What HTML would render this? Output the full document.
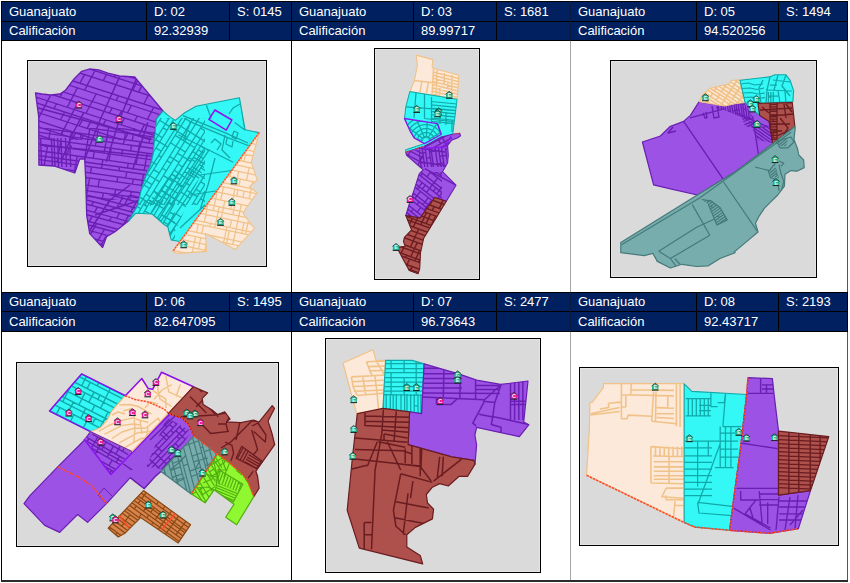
<!DOCTYPE html>
<html><head><meta charset="utf-8"><style>
html,body{margin:0;padding:0;background:#fff;width:850px;height:583px;overflow:hidden;position:relative}
div,span{position:absolute}
.t{font-family:"Liberation Sans",sans-serif;font-size:13px;line-height:13px;color:#fff;white-space:nowrap}
svg{position:absolute;left:0;top:0}
</style></head><body>
<div style="left:1px;top:1px;width:847px;height:40px;background:#002060;"></div><div style="left:1px;top:1px;width:847px;height:1px;background:#000;"></div><div style="left:1px;top:21px;width:847px;height:1px;background:#000;"></div><div style="left:1px;top:40px;width:847px;height:1px;background:#000;"></div><div style="left:1px;top:1px;width:1px;height:40px;background:#000;"></div><div style="left:146px;top:1px;width:1px;height:40px;background:#000;"></div><div style="left:229px;top:1px;width:1px;height:40px;background:#000;"></div><div style="left:291px;top:1px;width:1px;height:40px;background:#000;"></div><div style="left:413px;top:1px;width:1px;height:40px;background:#000;"></div><div style="left:496px;top:1px;width:1px;height:40px;background:#000;"></div><div style="left:570px;top:1px;width:1px;height:40px;background:#0b1a3a;"></div><div style="left:696px;top:1px;width:1px;height:40px;background:#000;"></div><div style="left:778px;top:1px;width:1px;height:40px;background:#000;"></div><div style="left:847px;top:1px;width:1px;height:40px;background:#000;"></div><span class=t style="left:9px;top:5px">Guanajuato</span><span class=t style="left:154px;top:5px">D: 02</span><span class=t style="left:237px;top:5px">S: 0145</span><span class=t style="left:9px;top:24px">Calificación</span><span class=t style="left:154px;top:24px">92.32939</span><span class=t style="left:299px;top:5px">Guanajuato</span><span class=t style="left:421px;top:5px">D: 03</span><span class=t style="left:504px;top:5px">S: 1681</span><span class=t style="left:299px;top:24px">Calificación</span><span class=t style="left:421px;top:24px">89.99717</span><span class=t style="left:578px;top:5px">Guanajuato</span><span class=t style="left:704px;top:5px">D: 05</span><span class=t style="left:786px;top:5px">S: 1494</span><span class=t style="left:578px;top:24px">Calificación</span><span class=t style="left:704px;top:24px">94.520256</span><div style="left:1px;top:292px;width:847px;height:40px;background:#002060;"></div><div style="left:1px;top:292px;width:847px;height:1px;background:#000;"></div><div style="left:1px;top:311px;width:847px;height:1px;background:#000;"></div><div style="left:1px;top:331px;width:847px;height:1px;background:#000;"></div><div style="left:1px;top:292px;width:1px;height:40px;background:#000;"></div><div style="left:146px;top:292px;width:1px;height:40px;background:#000;"></div><div style="left:229px;top:292px;width:1px;height:40px;background:#000;"></div><div style="left:291px;top:292px;width:1px;height:40px;background:#000;"></div><div style="left:413px;top:292px;width:1px;height:40px;background:#000;"></div><div style="left:496px;top:292px;width:1px;height:40px;background:#000;"></div><div style="left:570px;top:292px;width:1px;height:40px;background:#0b1a3a;"></div><div style="left:696px;top:292px;width:1px;height:40px;background:#000;"></div><div style="left:778px;top:292px;width:1px;height:40px;background:#000;"></div><div style="left:847px;top:292px;width:1px;height:40px;background:#000;"></div><span class=t style="left:9px;top:295px">Guanajuato</span><span class=t style="left:154px;top:295px">D: 06</span><span class=t style="left:237px;top:295px">S: 1495</span><span class=t style="left:9px;top:315px">Calificación</span><span class=t style="left:154px;top:315px">82.647095</span><span class=t style="left:299px;top:295px">Guanajuato</span><span class=t style="left:421px;top:295px">D: 07</span><span class=t style="left:504px;top:295px">S: 2477</span><span class=t style="left:299px;top:315px">Calificación</span><span class=t style="left:421px;top:315px">96.73643</span><span class=t style="left:578px;top:295px">Guanajuato</span><span class=t style="left:704px;top:295px">D: 08</span><span class=t style="left:786px;top:295px">S: 2193</span><span class=t style="left:578px;top:315px">Calificación</span><span class=t style="left:704px;top:315px">92.43717</span><div style="left:1px;top:41px;width:1px;height:251px;background:#000;"></div><div style="left:291px;top:41px;width:1px;height:251px;background:#000;"></div><div style="left:570px;top:41px;width:1px;height:251px;background:#a6a6a6;"></div><div style="left:847px;top:41px;width:1px;height:251px;background:#555;"></div><div style="left:1px;top:332px;width:1px;height:249px;background:#000;"></div><div style="left:291px;top:332px;width:1px;height:249px;background:#000;"></div><div style="left:570px;top:332px;width:1px;height:249px;background:#a6a6a6;"></div><div style="left:847px;top:332px;width:1px;height:249px;background:#555;"></div><div style="left:1px;top:580px;width:847px;height:2px;background:#2b2b2b;"></div><div style="left:27px;top:60px;width:240px;height:207px;background:#dadada;box-sizing:border-box;border:1px solid #000;box-shadow:inset 0 0 0 1px #e4e4e4"></div><div style="left:374px;top:48px;width:106px;height:232px;background:#dadada;box-sizing:border-box;border:1px solid #000;box-shadow:inset 0 0 0 1px #e4e4e4"></div><div style="left:610px;top:60px;width:207px;height:218px;background:#dadada;box-sizing:border-box;border:1px solid #000;box-shadow:inset 0 0 0 1px #e4e4e4"></div><div style="left:16px;top:362px;width:263px;height:185px;background:#dadada;box-sizing:border-box;border:1px solid #000;box-shadow:inset 0 0 0 1px #e4e4e4"></div><div style="left:325px;top:338px;width:216px;height:235px;background:#dadada;box-sizing:border-box;border:1px solid #000;box-shadow:inset 0 0 0 1px #e4e4e4"></div><div style="left:579px;top:367px;width:260px;height:179px;background:#dadada;box-sizing:border-box;border:1px solid #000;box-shadow:inset 0 0 0 1px #e4e4e4"></div>
<svg width="850" height="583" viewBox="0 0 850 583" stroke-linejoin="round">
<clipPath id="c1"><polygon points="35.5,93.0 42.0,94.0 50.6,95.0 60.0,94.0 65.7,90.0 74.0,79.0 81.7,71.3 89.3,69.0 98.7,69.8 108.0,73.2 119.5,76.0 134.7,77.0 163.0,111.0 156.4,119.2 155.0,134.2 153.0,154.8 150.5,165.0 147.3,172.0 143.2,183.7 140.4,193.4 137.7,205.7 128.7,220.8 115.0,231.8 106.6,236.6 102.6,247.5 89.7,233.6 86.7,215.7 85.7,180.0 84.7,159.0 79.7,159.0 74.8,173.0 53.9,166.0 38.9,165.0 38.7,116.6"/></clipPath>
<polygon points="35.5,93.0 42.0,94.0 50.6,95.0 60.0,94.0 65.7,90.0 74.0,79.0 81.7,71.3 89.3,69.0 98.7,69.8 108.0,73.2 119.5,76.0 134.7,77.0 163.0,111.0 156.4,119.2 155.0,134.2 153.0,154.8 150.5,165.0 147.3,172.0 143.2,183.7 140.4,193.4 137.7,205.7 128.7,220.8 115.0,231.8 106.6,236.6 102.6,247.5 89.7,233.6 86.7,215.7 85.7,180.0 84.7,159.0 79.7,159.0 74.8,173.0 53.9,166.0 38.9,165.0 38.7,116.6" fill="#9c52e4"/>
<g clip-path="url(#c1)" stroke="#6a1eb4" fill="none" stroke-linecap="butt">
<clipPath id="c2"><rect x="36" y="66" width="130" height="74"/></clipPath>
<g clip-path="url(#c2)" stroke-width="1.35">
<path d="M17.7 -13.4L236.8 57.8M15.2 -5.7L234.3 65.5M13.2 0.4L232.3 71.6M10.8 7.8L229.9 79.0M8.6 14.6L227.7 85.8M7.1 19.4L226.2 90.5M5.0 25.8L224.1 97.0M1.9 35.2L221.0 106.4M0.4 40.0L219.5 111.2M-1.8 46.5L217.3 117.7M-4.8 55.7L214.3 126.9M-6.4 60.6L212.7 131.8M-8.9 68.5L210.2 139.7M-10.7 74.0L208.4 145.2M-13.0 81.2L206.1 152.4M-14.7 86.2L204.4 157.4M-17.4 94.5L201.8 165.7M-19.8 101.9L199.3 173.1M-21.6 107.4L197.5 178.6M-24.0 114.8L195.1 186.0M-26.0 121.2L193.1 192.4M-27.5 125.9L191.6 197.1M-30.5 134.8L188.6 206.0M-32.4 140.9L186.7 212.1M-34.3 146.6L184.8 217.8M48.5 5.1L45.4 10.9M45.4 10.9L41.7 17.9M41.7 17.9L38.3 24.2M32.7 34.8L27.9 43.7M25.6 48.2L22.3 54.4M17.7 63.0L15.2 67.7M8.5 80.2L4.9 87.0M2.4 91.8L-1.8 99.6M-1.8 99.6L-5.5 106.6M-8.2 111.8L-11.9 118.7M-11.9 118.7L-15.2 124.8M-15.2 124.8L-17.5 129.1M-22.0 137.6L-25.0 143.3M-25.0 143.3L-27.9 148.7M62.1 9.6L59.1 15.3M52.0 28.7L49.6 33.2M49.6 33.2L46.3 39.3M46.3 39.3L41.6 48.1M24.9 79.5L22.2 84.7M22.2 84.7L18.6 91.5M16.1 96.2L11.9 104.0M11.9 104.0L8.2 111.0M5.4 116.2L1.7 123.2M1.7 123.2L-1.5 129.2M-1.5 129.2L-3.8 133.6M-3.8 133.6L-8.3 142.0M-11.4 147.8L-14.2 153.2M66.9 17.8L63.1 24.8M59.8 31.2L57.4 35.7M54.1 41.8L49.4 50.7M43.7 61.3L39.1 70.0M39.1 70.0L36.7 74.6M30.0 87.2L26.4 94.0M26.4 94.0L23.8 98.7M19.7 106.5L16.0 113.5M16.0 113.5L13.2 118.7M13.2 118.7L9.5 125.7M9.5 125.7L6.3 131.7M4.0 136.1L-0.5 144.6M-0.5 144.6L-3.6 150.3M84.6 8.4L80.7 15.6M74.0 28.4L70.6 34.7M70.6 34.7L68.2 39.2M64.9 45.3L60.2 54.2M60.2 54.2L57.9 58.7M57.9 58.7L54.6 64.9M50.0 73.5L47.5 78.1M47.5 78.1L43.6 85.6M43.6 85.6L40.8 90.7M37.2 97.5L34.7 102.2M30.5 110.0L26.8 117.1M26.8 117.1L24.1 122.2M17.1 135.3L14.8 139.6M14.8 139.6L10.3 148.1M10.3 148.1L7.3 153.8M7.3 153.8L4.4 159.2M95.0 11.8L91.2 19.0M84.4 31.7L81.0 38.1M81.0 38.1L78.6 42.6M68.3 62.0L65.0 68.2M65.0 68.2L60.4 76.9M60.4 76.9L57.9 81.5M54.0 89.0L51.2 94.1M51.2 94.1L47.6 100.9M47.6 100.9L45.1 105.6M45.1 105.6L41.0 113.4M41.0 113.4L37.2 120.4M34.5 125.6L30.8 132.6M30.8 132.6L27.6 138.7M17.7 157.2L14.8 162.6M97.0 27.6L93.3 34.6M84.2 51.6L79.5 60.5M79.5 60.5L77.2 64.9M77.2 64.9L73.9 71.1M73.9 71.1L69.3 79.8M69.3 79.8L66.8 84.4M62.8 91.8L60.1 97.0M56.5 103.8L54.0 108.5M34.1 145.9L29.6 154.4M26.5 160.1L23.7 165.5M114.5 18.1L110.7 25.4M107.6 31.1L103.9 38.1M103.9 38.1L100.5 44.4M94.9 55.1L90.2 63.9M90.2 63.9L87.8 68.4M84.5 74.6L79.9 83.3M77.4 87.9L73.5 95.3M73.5 95.3L70.8 100.4M70.8 100.4L67.2 107.2M64.6 112.0L60.5 119.8M47.1 145.0L44.8 149.4M37.2 163.6L34.3 168.9M121.7 20.4L117.8 27.7M117.8 27.7L114.8 33.4M114.8 33.4L111.0 40.4M111.0 40.4L107.7 46.7M107.7 46.7L105.3 51.3M102.0 57.4L97.3 66.2M97.3 66.2L94.9 70.7M94.9 70.7L91.6 76.9M91.6 76.9L87.0 85.6M87.0 85.6L84.6 90.2M77.9 102.8L74.3 109.5M74.3 109.5L71.8 114.3M71.8 114.3L67.6 122.1M67.6 122.1L63.9 129.1M63.9 129.1L61.1 134.3M54.2 147.3L51.9 151.7M51.9 151.7L47.4 160.1M47.4 160.1L44.3 165.9M44.3 165.9L41.5 171.2M126.4 37.2L122.7 44.2M122.7 44.2L119.3 50.5M119.3 50.5L116.9 55.0M116.9 55.0L113.6 61.2M106.5 74.5L103.2 80.7M96.2 94.0L92.2 101.4M92.2 101.4L89.5 106.5M89.5 106.5L85.9 113.3M83.4 118.1L79.2 125.9M75.5 132.9L72.7 138.1M72.7 138.1L69.0 145.0M69.0 145.0L65.8 151.1M63.5 155.5L59.0 163.9M59.0 163.9L55.9 169.7M55.9 169.7L53.1 175.0M134.3 39.7L130.6 46.8M124.8 57.6L121.6 63.7M121.6 63.7L116.9 72.6M116.9 72.6L114.5 77.1M91.3 120.6L87.2 128.4M83.4 135.4L80.7 140.6M80.7 140.6L77.0 147.6M73.8 153.7L71.4 158.0M71.4 158.0L66.9 166.5M66.9 166.5L63.9 172.2M153.2 30.7L149.4 37.9M149.4 37.9L146.3 43.7M142.6 50.7L139.2 57.0M118.6 95.8L116.1 100.5M112.2 107.9L109.5 113.0M105.9 119.8L103.3 124.6M95.5 139.4L92.7 144.5M92.7 144.5L89.0 151.5M83.5 161.9L79.0 170.4M79.0 170.4L75.9 176.1M75.9 176.1L73.0 181.5M155.7 46.7L152.0 53.7M152.0 53.7L148.6 60.1M148.6 60.1L146.2 64.6M146.2 64.6L143.0 70.7M143.0 70.7L138.3 79.5M138.3 79.5L135.9 84.0M135.9 84.0L132.6 90.2M128.0 98.9L125.5 103.5M121.6 110.9L118.8 116.1M108.6 135.4L104.8 142.4M104.8 142.4L102.1 147.6M95.2 160.6L92.8 165.0M92.8 165.0L88.3 173.4M168.5 35.6L164.7 42.9M164.7 42.9L161.6 48.6M157.9 55.6L154.5 62.0M154.5 62.0L152.1 66.5M152.1 66.5L148.9 72.6M144.2 81.5L141.8 85.9M141.8 85.9L138.5 92.1M131.4 105.4L127.5 112.8M124.7 118.0L121.1 124.8M114.5 137.3L110.7 144.3M110.7 144.3L108.0 149.5M108.0 149.5L104.3 156.5M104.3 156.5L101.0 162.5M101.0 162.5L98.7 166.9M98.7 166.9L94.2 175.4M94.2 175.4L91.2 181.1M91.2 181.1L88.3 186.5M174.5 46.1L171.5 51.8M167.7 58.8L164.4 65.2M162.0 69.7L158.7 75.8M148.3 95.3L143.7 104.0M137.3 116.0L134.6 121.2M128.4 132.7L124.3 140.5M124.3 140.5L120.6 147.5M120.6 147.5L117.8 152.7M104.1 178.6L101.0 184.3M101.0 184.3L98.2 189.7M188.4 42.1L184.6 49.3M184.6 49.3L181.5 55.1M172.0 72.9L168.8 79.1M164.0 87.9L161.7 92.4M161.7 92.4L158.4 98.6M153.8 107.2L151.3 111.9M151.3 111.9L147.4 119.3M144.6 124.4L141.0 131.2M141.0 131.2L138.5 136.0M130.6 150.8L127.9 156.0M127.9 156.0L124.2 162.9M124.2 162.9L120.9 169.0M120.9 169.0L118.6 173.4M118.6 173.4L114.1 181.8M201.7 46.4L197.8 53.7M197.8 53.7L194.8 59.4M194.8 59.4L191.1 66.4M191.1 66.4L187.7 72.7M185.3 77.3L182.0 83.4M174.9 96.7L171.6 102.9M167.0 111.6L164.6 116.2M157.9 128.8L154.3 135.5M143.9 155.1L141.1 160.3M131.9 177.7L127.4 186.1M127.4 186.1L124.3 191.9M124.3 191.9L121.5 197.2M208.8 48.7L204.9 56.0M194.8 75.1L192.4 79.6M184.4 94.5L182.0 99.0M174.1 113.9L171.7 118.5M167.7 125.9L165.0 131.1M165.0 131.1L161.4 137.9M148.2 162.6L144.5 169.6M144.5 169.6L141.3 175.6M141.3 175.6L139.0 180.0M139.0 180.0L134.5 188.4M219.4 52.2L215.5 59.4M212.5 65.1L208.7 72.1M208.7 72.1L205.4 78.5M205.4 78.5L203.0 83.0M199.7 89.1L195.0 98.0M195.0 98.0L192.6 102.4M192.6 102.4L189.3 108.6M184.7 117.3L182.3 121.9M182.3 121.9L178.3 129.4M178.3 129.4L175.6 134.5M175.6 134.5L172.0 141.3M169.4 146.0L165.3 153.8M161.6 160.8L158.8 166.0M158.8 166.0L155.1 173.0M155.1 173.0L151.9 179.0M151.9 179.0L149.6 183.4M142.0 197.6L139.2 203.0M227.4 54.8L223.6 62.0M223.6 62.0L220.5 67.8M207.8 91.7L203.1 100.6M203.1 100.6L200.7 105.1M200.7 105.1L197.4 111.3M197.4 111.3L192.8 119.9M190.3 124.6L186.4 132.0M186.4 132.0L183.7 137.1M180.0 143.9L177.5 148.7M166.9 168.7L163.2 175.6"/>
</g>
<clipPath id="c3"><rect x="36" y="128" width="130" height="72"/></clipPath>
<g clip-path="url(#c3)" stroke-width="1.35">
<path d="M-0.8 65.7L225.9 97.6M-1.7 72.3L225.0 104.2M-2.5 77.8L224.2 109.6M-3.3 83.7L223.4 115.5M-3.8 87.3L222.9 119.2M-4.6 92.9L222.1 124.7M-5.3 98.1L221.4 129.9M-6.1 103.8L220.6 135.6M-7.1 110.6L219.6 142.4M-7.6 114.4L219.1 146.2M-8.5 120.9L218.2 152.8M-9.2 125.5L217.5 157.4M-10.0 131.2L216.7 163.0M-10.8 137.0L215.9 168.8M-11.7 143.5L215.0 175.4M-12.4 148.4L214.3 180.2M-12.9 152.2L213.8 184.1M-13.8 158.4L212.9 190.2M-14.5 163.4L212.2 195.3M-15.5 170.9L211.1 202.7M-16.3 176.1L210.4 208.0M-17.1 181.6L209.6 213.4M-17.8 187.1L208.9 218.9M-18.6 192.3L208.1 224.2M-19.4 198.3L207.3 230.2M-20.1 203.3L206.6 235.2M-20.7 207.3L206.0 239.2M-21.7 214.4L205.0 246.2M-22.3 218.8L204.4 250.7M-23.2 225.0L203.5 256.9M-23.8 229.9L202.8 261.8M22.8 87.3L22.2 91.0M21.2 96.5L20.3 101.7M20.3 101.7L19.3 107.3M19.3 107.3L18.1 114.1M17.4 117.9L16.3 124.4M16.3 124.4L15.5 129.0M15.5 129.0L14.5 134.6M12.3 146.9L11.5 151.7M11.5 151.7L10.8 155.5M10.8 155.5L9.7 161.7M9.7 161.7L8.8 166.7M8.8 166.7L7.5 174.1M7.5 174.1L6.6 179.4M5.6 184.8L4.7 190.2M4.7 190.2L3.7 195.4M3.7 195.4L2.7 201.4M1.8 206.4L1.1 210.4M1.1 210.4L-0.1 217.4M-0.1 217.4L-0.9 221.8M-2.0 228.0L-2.9 232.9M34.6 70.7L33.4 77.3M33.4 77.3L32.5 82.7M31.4 88.5L30.8 92.2M30.8 92.2L29.8 97.7M28.9 102.9L27.9 108.5M27.9 108.5L26.7 115.3M26.7 115.3L26.0 119.1M24.1 130.2L23.1 135.8M20.9 148.1L20.1 152.9M19.4 156.7L18.3 162.9M18.3 162.9L17.4 167.9M17.4 167.9L16.1 175.3M16.1 175.3L15.2 180.6M15.2 180.6L14.3 186.0M14.3 186.0L13.3 191.5M13.3 191.5L12.4 196.7M12.4 196.7L11.3 202.6M9.7 211.6L8.5 218.6M7.7 223.1L6.6 229.2M6.6 229.2L5.8 234.1M42.6 78.6L41.7 84.0M41.7 84.0L40.6 89.8M40.6 89.8L40.0 93.5M40.0 93.5L39.0 99.0M38.1 104.2L37.1 109.8M35.9 116.6L35.3 120.4M35.3 120.4L34.1 126.9M34.1 126.9L33.3 131.5M33.3 131.5L32.3 137.1M32.3 137.1L31.3 142.9M31.3 142.9L30.1 149.4M30.1 149.4L29.3 154.2M27.5 164.2L26.6 169.2M26.6 169.2L25.3 176.6M25.3 176.6L24.4 181.9M23.5 187.3L22.5 192.8M21.6 198.0L20.5 203.9M20.5 203.9L19.6 208.9M19.6 208.9L18.9 212.9M18.9 212.9L17.7 219.9M16.9 224.4L15.8 230.5M15.8 230.5L15.0 235.4M52.2 73.2L51.0 79.7M51.0 79.7L50.1 85.2M49.0 91.0L48.4 94.6M45.5 111.0L44.3 117.8M43.7 121.6L42.5 128.1M38.5 150.6L37.7 155.4M37.7 155.4L37.0 159.2M37.0 159.2L35.9 165.3M35.0 170.4L33.7 177.8M33.7 177.8L32.8 183.0M31.9 188.5L30.9 193.9M30.9 193.9L30.0 199.1M30.0 199.1L28.9 205.1M28.9 205.1L28.0 210.1M27.3 214.1L26.1 221.1M59.1 80.9L58.1 86.3M55.5 101.3L54.6 106.5M53.6 112.1L52.4 118.9M52.4 118.9L51.7 122.7M50.6 129.2L49.7 133.8M49.7 133.8L48.8 139.4M47.7 145.2L46.6 151.7M46.6 151.7L45.7 156.5M45.7 156.5L45.1 160.3M45.1 160.3L44.0 166.5M44.0 166.5L43.1 171.5M41.8 178.9L40.9 184.2M38.9 195.1L38.0 200.3M36.1 211.2L35.4 215.2M35.4 215.2L34.2 222.2M34.2 222.2L33.4 226.7M32.3 232.8L31.4 237.7M72.3 76.0L71.1 82.6M71.1 82.6L70.2 88.0M70.2 88.0L69.1 93.8M69.1 93.8L68.5 97.5M67.5 103.0L66.6 108.2M65.6 113.8L64.4 120.6M64.4 120.6L63.7 124.4M62.6 130.9L61.8 135.5M60.8 141.1L59.8 146.9M59.8 146.9L58.6 153.4M57.8 158.2L57.1 162.0M55.1 173.2L53.8 180.6M52.9 185.9L52.0 191.3M51.0 196.8L50.1 202.0M49.0 207.9L48.1 212.9M48.1 212.9L47.4 216.9M47.4 216.9L46.2 223.9M45.4 228.4L44.3 234.5M44.3 234.5L43.5 239.4M79.9 83.8L79.0 89.2M79.0 89.2L78.0 95.1M78.0 95.1L77.3 98.7M77.3 98.7L76.3 104.2M75.4 109.4L74.4 115.1M74.4 115.1L73.2 121.9M73.2 121.9L72.6 125.7M71.4 132.2L70.6 136.7M68.6 148.1L67.5 154.7M59.8 198.0L58.9 203.2M58.9 203.2L57.8 209.2M56.3 218.1L55.0 225.2M53.2 235.7L52.3 240.6M88.7 90.6L87.7 96.5M87.1 100.1L86.1 105.6M85.2 110.8L84.2 116.4M83.0 123.2L82.3 127.0M81.2 133.5L80.4 138.1M77.2 156.0L76.4 160.8M76.4 160.8L75.7 164.6M75.7 164.6L74.6 170.8M74.6 170.8L73.7 175.8M70.5 193.9L69.6 199.4M69.6 199.4L68.6 204.6M66.7 215.5L66.0 219.5M66.0 219.5L64.8 226.5M64.8 226.5L64.0 231.0M64.0 231.0L62.9 237.1M62.9 237.1L62.0 242.0M97.3 86.2L96.4 91.7M95.3 97.5L94.7 101.1M94.7 101.1L93.7 106.7M92.8 111.9L91.8 117.5M91.8 117.5L90.6 124.3M90.6 124.3L89.9 128.1M89.9 128.1L88.8 134.6M88.8 134.6L88.0 139.2M88.0 139.2L87.0 144.8M87.0 144.8L86.0 150.6M86.0 150.6L84.8 157.1M84.0 161.9L83.3 165.7M83.3 165.7L82.2 171.8M75.2 211.6L74.3 216.6M74.3 216.6L73.6 220.6M72.4 227.6L71.6 232.0M71.6 232.0L70.5 238.2M106.8 80.8L105.6 87.4M104.7 92.8L103.6 98.7M103.6 98.7L103.0 102.3M103.0 102.3L102.0 107.9M102.0 107.9L101.1 113.0M98.2 129.3L97.1 135.8M96.3 140.3L95.3 146.0M94.3 151.8L93.1 158.3M91.6 166.9L90.5 173.0M89.6 178.1L88.3 185.5M88.3 185.5L87.4 190.7M87.4 190.7L86.4 196.1M86.4 196.1L85.5 201.6M85.5 201.6L84.6 206.8M82.6 217.8L81.9 221.7M80.7 228.8L79.9 233.2M79.9 233.2L78.8 239.3M78.8 239.3L78.0 244.3M116.6 82.2L115.4 88.8M114.4 94.2L113.4 100.1M113.4 100.1L112.8 103.7M110.9 114.4L109.9 120.1M109.9 120.1L108.7 126.9M108.7 126.9L108.0 130.6M108.0 130.6L106.9 137.1M106.9 137.1L106.1 141.7M106.1 141.7L105.1 147.3M105.1 147.3L104.1 153.1M102.9 159.7L102.1 164.4M102.1 164.4L101.4 168.3M99.4 179.5L98.1 186.8M91.7 223.1L90.5 230.1M122.7 83.1L121.6 89.7M121.6 89.7L120.6 95.1M119.6 100.9L119.0 104.6M119.0 104.6L118.0 110.1M118.0 110.1L117.1 115.3M116.1 120.9L114.9 127.7M111.3 148.2L110.2 154.0M110.2 154.0L109.1 160.5M103.4 193.0L102.4 198.4M102.4 198.4L101.4 203.8M101.4 203.8L100.5 209.0M100.5 209.0L99.5 215.0M98.6 220.0L97.9 224.0M97.9 224.0L96.7 231.0M95.9 235.4L94.8 241.6M134.1 84.7L132.9 91.2M132.0 96.7L130.9 102.5M130.3 106.1L129.3 111.7M129.3 111.7L128.4 116.9M125.5 133.1L124.4 139.6M124.4 139.6L123.6 144.2M122.6 149.8L121.6 155.6M119.6 166.9L118.9 170.7M117.8 176.8L116.9 181.9M115.6 189.3L114.7 194.6M112.8 205.4L111.9 210.6M110.8 216.6L109.9 221.6M109.9 221.6L109.2 225.6M109.2 225.6L108.0 232.6M106.1 243.2L105.3 248.1M142.0 85.8L140.8 92.4M140.8 92.4L139.8 97.8M138.2 107.3L137.2 112.8M137.2 112.8L136.3 118.0M135.3 123.6L134.1 130.4M133.4 134.2L132.3 140.7M131.5 145.3L130.5 150.9M128.3 163.2L127.4 168.0M126.8 171.8L125.7 178.0M122.6 195.7L121.6 201.1M120.7 206.5L119.7 211.7M119.7 211.7L118.7 217.7M118.7 217.7L117.8 222.7M117.1 226.7L115.9 233.7M115.9 233.7L115.1 238.1M115.1 238.1L114.0 244.3M149.7 86.9L148.5 93.4M148.5 93.4L147.6 98.9M143.0 124.7L141.8 131.5M140.0 141.8L139.2 146.4M139.2 146.4L138.2 152.0M138.2 152.0L137.2 157.8M137.2 157.8L136.0 164.3M133.4 179.0L132.5 184.1M131.2 191.5L130.3 196.7M130.3 196.7L129.3 202.2M128.4 207.6L127.5 212.8M127.5 212.8L126.4 218.8M126.4 218.8L125.5 223.8M124.8 227.8L123.6 234.8M123.6 234.8L122.8 239.2M122.8 239.2L121.7 245.4M157.6 94.7L156.6 100.1M155.6 106.0L154.9 109.6M154.9 109.6L153.9 115.2M153.9 115.2L153.0 120.3M153.0 120.3L152.0 126.0M150.2 136.6L149.0 143.1M147.2 153.3L146.2 159.1M146.2 159.1L145.1 165.6M145.1 165.6L144.2 170.4M143.5 174.2L142.5 180.3M142.5 180.3L141.6 185.4M140.3 192.8L139.3 198.0M139.3 198.0L138.4 203.4M137.4 208.9L136.5 214.1M136.5 214.1L135.4 220.1M132.6 236.1L131.8 240.5M169.1 89.6L167.9 96.2M166.9 101.6L165.9 107.4M164.3 116.6L163.4 121.8M162.4 127.4L161.2 134.2M155.4 167.0L154.6 171.8M153.9 175.6L152.8 181.8M150.6 194.2L149.7 199.5M148.7 204.9L147.8 210.4M147.8 210.4L146.8 215.6M146.8 215.6L145.8 221.5M144.9 226.5L144.2 230.5M144.2 230.5L143.0 237.5M143.0 237.5L142.2 242.0M141.1 248.1L140.2 253.0M175.6 97.2L174.7 102.7M174.7 102.7L173.6 108.5M173.0 112.1L172.0 117.7M172.0 117.7L171.1 122.9M168.9 135.3L168.2 139.1M167.1 145.6L166.3 150.2M166.3 150.2L165.3 155.8M165.3 155.8L164.3 161.6M161.6 176.7L160.5 182.9M159.6 187.9L158.3 195.3M157.4 200.6L156.4 206.0M156.4 206.0L155.5 211.4M152.6 227.6L151.9 231.6M150.7 238.6L149.9 243.0M149.9 243.0L148.8 249.2M148.8 249.2L148.0 254.1M185.5 98.6L184.5 104.0M184.5 104.0L183.5 109.9M183.5 109.9L182.8 113.5M178.7 136.7L178.1 140.5M176.9 147.0L176.1 151.5M174.1 163.0L173.0 169.5M172.1 174.3L171.4 178.1M171.4 178.1L170.4 184.2M169.5 189.3L168.2 196.7M168.2 196.7L167.2 201.9M166.3 207.3L165.3 212.8M165.3 212.8L164.4 218.0M162.5 229.0L161.8 233.0M160.5 240.0L159.7 244.4M159.7 244.4L158.7 250.6M158.7 250.6L157.8 255.5M196.2 93.4L195.0 100.0M195.0 100.0L194.1 105.4M193.0 111.3L192.4 114.9M192.4 114.9L191.4 120.4M191.4 120.4L190.5 125.6M190.5 125.6L189.5 131.2M187.6 141.8L186.5 148.3M186.5 148.3L185.7 152.9M185.7 152.9L184.7 158.5M184.7 158.5L183.7 164.3M183.7 164.3L182.5 170.8M182.5 170.8L181.7 175.6M181.7 175.6L181.0 179.4M179.9 185.6L179.0 190.6M179.0 190.6L177.7 198.0M177.7 198.0L176.8 203.3M175.9 208.7L174.9 214.2M172.0 230.3L171.3 234.3M170.1 241.3L169.3 245.8M169.3 245.8L168.2 251.9M204.2 94.5L203.0 101.1M203.0 101.1L202.0 106.5M198.5 126.7L197.5 132.4M196.3 139.2L195.6 142.9M194.5 149.5L193.7 154.0M193.7 154.0L192.7 159.7M192.7 159.7L191.7 165.4M191.7 165.4L190.5 172.0M189.0 180.6L187.9 186.7M187.9 186.7L187.0 191.8M187.0 191.8L185.7 199.2M185.7 199.2L184.8 204.4M184.8 204.4L183.8 209.8M182.0 220.5L180.9 226.5M180.9 226.5L180.0 231.5M180.0 231.5L179.3 235.4M178.1 242.5L177.3 246.9M177.3 246.9L176.2 253.0M176.2 253.0L175.3 257.9"/>
</g>
<clipPath id="c4"><rect x="38" y="138" width="34" height="29"/></clipPath>
<g clip-path="url(#c4)" stroke-width="1.35">
<path d="M83.0 115.0L85.5 188.0M72.3 115.4L74.9 188.3M68.9 115.5L71.4 188.5M64.7 115.6L67.2 188.6M60.2 115.8L62.7 188.8M56.8 115.9L59.3 188.9M53.2 116.0L55.8 189.0M50.6 116.1L53.2 189.1M39.9 116.5L42.5 189.5M36.4 116.6L39.0 189.6M27.8 116.9L30.3 189.9M63.4 78.6L58.9 78.6M51.9 78.6L49.3 78.6M49.3 78.6L45.2 78.6M42.0 78.6L38.6 78.6M83.1 118.5L79.7 118.5M75.6 118.5L72.4 118.5M69.0 118.5L64.8 118.5M46.5 118.5L43.4 118.5M43.4 118.5L40.0 118.5M40.0 118.5L36.5 118.5M27.8 118.5L24.4 118.5M80.7 146.4L76.6 146.4M73.4 146.4L70.0 146.4M51.7 146.4L47.5 146.4M47.5 146.4L44.4 146.4M82.2 188.7L78.1 188.7M78.1 188.7L74.9 188.7M71.5 188.7L67.2 188.7M55.8 188.7L53.2 188.7M53.2 188.7L49.0 188.7M49.0 188.7L45.9 188.7M39.0 188.7L35.2 188.7M35.2 188.7L30.3 188.7M83.8 235.0L79.7 235.0M79.7 235.0L76.5 235.0M76.5 235.0L73.1 235.0M73.1 235.0L68.9 235.0M64.3 235.0L60.9 235.0M60.9 235.0L57.4 235.0M54.8 235.0L50.6 235.0M47.5 235.0L44.1 235.0"/>
</g>
<clipPath id="c5"><rect x="84" y="195" width="61" height="55"/></clipPath>
<g clip-path="url(#c5)" stroke-width="1.35">
<path d="M65.3 156.5L190.1 190.0M63.6 162.8L188.4 196.2M62.4 167.5L187.2 200.9M60.9 173.0L185.7 206.5M60.0 176.2L184.8 209.7M58.7 181.0L183.5 214.5M57.1 187.0L181.9 220.5M55.9 191.7L180.7 225.1M54.8 195.6L179.6 229.1M53.3 201.4L178.1 234.8M52.2 205.5L177.0 239.0M50.6 211.3L175.4 244.7M49.8 214.5L174.6 248.0M48.4 219.6L173.2 253.0M46.7 226.1L171.5 259.5M45.7 229.6L170.5 263.0M44.5 234.2L169.3 267.6M42.8 240.3L167.6 273.8M41.7 244.7L166.5 278.2M40.7 248.4L165.5 281.8M39.1 254.2L163.9 287.6M85.5 161.9L82.1 167.8M82.1 167.8L79.6 172.1M79.6 172.1L76.6 177.3M74.9 180.2L72.3 184.7M72.3 184.7L69.1 190.2M69.1 190.2L66.6 194.6M61.4 203.6L59.2 207.4M59.2 207.4L56.1 212.8M51.7 220.5L48.2 226.5M43.9 234.0L40.6 239.7M40.6 239.7L38.2 243.8M90.7 163.3L87.4 169.2M87.4 169.2L84.8 173.5M84.8 173.5L81.9 178.7M80.2 181.6L77.6 186.1M77.6 186.1L74.4 191.6M74.4 191.6L71.9 196.0M71.9 196.0L69.8 199.6M69.8 199.6L66.7 205.0M61.4 214.2L59.6 217.2M56.9 221.9L53.5 227.9M53.5 227.9L51.6 231.2M51.6 231.2L49.1 235.4M49.1 235.4L45.8 241.1M45.8 241.1L43.5 245.2M43.5 245.2L41.5 248.6M99.4 165.7L96.1 171.5M96.1 171.5L93.5 175.9M88.9 184.0L86.3 188.4M83.1 194.0L80.6 198.3M65.6 224.2L62.2 230.2M62.2 230.2L60.3 233.5M52.2 247.5L50.2 250.9M101.2 172.9L98.7 177.2M95.7 182.4L94.0 185.4M94.0 185.4L91.4 189.8M91.4 189.8L88.2 195.4M88.2 195.4L85.7 199.7M85.7 199.7L83.6 203.4M80.5 208.7L78.3 212.5M78.3 212.5L75.2 217.9M75.2 217.9L73.5 220.9M70.8 225.6L67.3 231.6M65.4 234.9L63.0 239.1M63.0 239.1L59.7 244.8M59.7 244.8L57.3 248.9M57.3 248.9L55.3 252.3M55.3 252.3L52.2 257.7M112.3 169.1L109.0 175.0M106.4 179.3L103.5 184.5M101.8 187.4L99.2 191.9M93.5 201.8L91.4 205.4M83.0 219.9L81.2 223.0M81.2 223.0L78.5 227.7M78.5 227.7L75.1 233.7M75.1 233.7L73.2 236.9M67.4 246.9L65.1 251.0M115.1 176.6L112.5 181.0M109.6 186.1L107.9 189.1M97.5 207.1L94.4 212.4M92.2 216.3L89.1 221.6M89.1 221.6L87.4 224.6M87.4 224.6L84.6 229.3M81.2 235.3L79.3 238.6M79.3 238.6L76.8 242.8M73.5 248.5L71.2 252.6M69.2 256.0L66.1 261.4M122.5 178.6L120.0 182.9M115.3 191.1L112.7 195.5M109.5 201.1L107.0 205.4M96.5 223.6L94.8 226.6M94.8 226.6L92.1 231.3M92.1 231.3L88.6 237.3M86.7 240.6L84.2 244.8M84.2 244.8L81.0 250.5M126.7 190.7L125.0 193.7M122.4 198.1L119.2 203.7M119.2 203.7L116.7 208.0M111.5 217.0L109.3 220.8M104.5 229.2L101.8 233.9M101.8 233.9L98.3 239.9M98.3 239.9L96.4 243.2M94.0 247.4L90.7 253.1M90.7 253.1L88.3 257.2M86.3 260.6L83.2 266.0M140.6 176.7L137.2 182.5M137.2 182.5L134.7 186.9M134.7 186.9L131.7 192.0M130.0 195.0L127.4 199.4M127.4 199.4L124.2 205.0M119.6 213.0L116.5 218.3M106.8 235.2L103.3 241.2M103.3 241.2L101.4 244.5M93.3 258.6L91.3 262.0M91.3 262.0L88.2 267.4M146.2 184.9L143.7 189.3M140.8 194.4L139.0 197.4M136.5 201.9L133.3 207.4M133.3 207.4L130.8 211.7M128.6 215.4L125.6 220.8M125.6 220.8L123.4 224.6M120.3 229.9L118.5 232.9M115.8 237.7L112.3 243.7M108.0 251.2L104.7 256.9M100.4 264.4L97.3 269.8M151.3 186.3L148.8 190.7M145.8 195.8L144.1 198.8M141.5 203.2L138.3 208.8M135.8 213.1L133.7 216.8M133.7 216.8L130.6 222.1M125.3 231.3L123.6 234.3M123.6 234.3L120.9 239.0M120.9 239.0L117.4 245.0M115.5 248.3L113.1 252.6M113.1 252.6L109.8 258.3M105.4 265.8L102.3 271.1M156.4 192.7L153.4 197.8M153.4 197.8L151.7 200.8M151.7 200.8L149.1 205.3M145.9 210.8L143.4 215.1M143.4 215.1L141.3 218.8M138.2 224.2L136.0 228.0M132.9 233.3L131.2 236.3M131.2 236.3L128.5 241.1M125.0 247.1L123.1 250.3M120.7 254.6L117.4 260.3M113.0 267.8L109.9 273.2M164.3 194.8L161.4 200.0M159.6 202.9L157.1 207.4M151.4 217.3L149.2 220.9M146.2 226.3L143.9 230.1M136.4 243.2L132.9 249.2M131.0 252.4L128.6 256.7M125.3 262.4L122.9 266.5M121.0 269.9L117.9 275.3M176.5 186.3L173.2 192.2M173.2 192.2L170.7 196.5M170.7 196.5L167.7 201.7M167.7 201.7L166.0 204.6M160.2 214.6L157.7 219.0M155.6 222.6L152.5 228.0M152.5 228.0L150.3 231.8M150.3 231.8L147.2 237.2M139.3 250.9L137.4 254.1M137.4 254.1L134.9 258.4M134.9 258.4L131.6 264.1M131.6 264.1L129.3 268.2M129.3 268.2L127.3 271.6M127.3 271.6L124.2 277.0M181.5 187.7L178.2 193.5M168.4 210.4L165.2 216.0M165.2 216.0L162.7 220.3M160.6 224.0L157.5 229.3M157.5 229.3L155.3 233.2M142.4 255.5L139.9 259.7M132.3 273.0L129.2 278.3M190.2 190.0L186.8 195.8M186.8 195.8L184.3 200.2M184.3 200.2L181.4 205.3M179.6 208.3L177.1 212.8M177.1 212.8L173.9 218.3M171.4 222.6L169.2 226.3M169.2 226.3L166.2 231.6M166.2 231.6L163.9 235.5M163.9 235.5L160.9 240.8M160.9 240.8L159.1 243.8M152.9 254.5L151.1 257.8M145.3 267.8L142.9 271.9M141.0 275.3L137.9 280.7M191.5 202.1L188.5 207.2M186.8 210.2L184.2 214.7M178.5 224.5L176.4 228.2M176.4 228.2L173.3 233.6M173.3 233.6L171.1 237.4M168.0 242.7L166.3 245.7M148.1 277.2L145.0 282.6"/>
</g>
<g stroke-width="1.49">
<path d="M83.6 161.9L100.0 120.0L119.5 77.0M61.0 161.9L72.0 135.0L83.6 112.8M106.2 161.9L120.0 118.0L136.4 78.9M132.7 169.4L147.8 122.3M35.5 107.2L90.0 122.0L151.5 139.2M40.2 144.9L151.5 156.2M90.0 230.0L110.0 200.0L130.0 185.0M95.0 215.0L140.0 200.0"/>
</g>
</g>
<polygon points="35.5,93.0 42.0,94.0 50.6,95.0 60.0,94.0 65.7,90.0 74.0,79.0 81.7,71.3 89.3,69.0 98.7,69.8 108.0,73.2 119.5,76.0 134.7,77.0 163.0,111.0 156.4,119.2 155.0,134.2 153.0,154.8 150.5,165.0 147.3,172.0 143.2,183.7 140.4,193.4 137.7,205.7 128.7,220.8 115.0,231.8 106.6,236.6 102.6,247.5 89.7,233.6 86.7,215.7 85.7,180.0 84.7,159.0 79.7,159.0 74.8,173.0 53.9,166.0 38.9,165.0 38.7,116.6" fill="none" stroke="#6a1eb4" stroke-width="1.3"/>
<clipPath id="c6"><polygon points="163.0,111.0 169.6,116.6 175.3,120.4 184.7,112.8 196.0,106.2 239.4,97.7 245.1,129.8 259.2,132.6 180.0,241.5 171.3,240.0 170.0,235.9 167.9,227.0 163.8,224.3 152.1,214.0 135.6,213.3 128.7,220.8 137.7,205.7 140.4,193.4 143.2,183.7 147.3,172.0 150.5,165.0 153.0,154.8 155.0,134.2 156.4,119.2"/></clipPath>
<polygon points="163.0,111.0 169.6,116.6 175.3,120.4 184.7,112.8 196.0,106.2 239.4,97.7 245.1,129.8 259.2,132.6 180.0,241.5 171.3,240.0 170.0,235.9 167.9,227.0 163.8,224.3 152.1,214.0 135.6,213.3 128.7,220.8 137.7,205.7 140.4,193.4 143.2,183.7 147.3,172.0 150.5,165.0 153.0,154.8 155.0,134.2 156.4,119.2" fill="#33f8f5"/>
<g clip-path="url(#c6)" stroke="#10a8a8" fill="none" stroke-linecap="butt">
<g stroke-width="1.25">
<path d="M206.4 105.3L211.2 118.4M183.0 115.6L223.6 132.1L248.0 143.0M190.6 121.8L183.7 140.3M190.6 121.8L227.7 137.6L252.0 147.0M178.2 134.8L233.2 162.3M240.0 98.4L244.9 130.0M229.0 114.0L233.0 108.0L240.0 104.0M234.6 122.5L244.9 130.0M211.0 143.0L215.0 139.0L221.0 144.0L217.0 150.0M225.0 135.0L222.0 150.0L230.0 158.0M200.0 175.0L235.0 170.0M190.0 195.0L222.0 190.0M215.0 158.0L208.0 185.0L200.0 210.0M180.0 228.0L205.0 205.0M234.0 131.0L232.0 137.0L236.0 139.0L238.0 133.0L234.0 131.0M227.0 138.0L226.0 144.0L232.0 147.0L233.0 141.0"/>
</g>
<clipPath id="c7"><rect x="128" y="118" width="77" height="87"/></clipPath>
<g clip-path="url(#c7)" stroke-width="1.25">
<path d="M63.1 203.1L158.6 50.3M68.0 206.2L163.5 53.4M72.8 209.2L168.3 56.3M77.8 212.4L173.3 59.5M82.0 215.0L177.5 62.1M87.1 218.2L182.6 65.3M89.7 219.8L185.2 66.9M95.3 223.3L190.9 70.4M101.1 226.9L196.6 74.0M105.1 229.4L200.6 76.5M110.3 232.7L205.9 79.8M113.2 234.5L208.7 81.6M118.7 237.9L214.2 85.0M122.8 240.5L218.3 87.6M128.2 243.8L223.7 91.0M132.9 246.8L228.4 93.9M136.3 248.9L231.8 96.0M141.4 252.1L236.9 99.2M146.2 255.1L241.7 102.2M152.4 258.9L247.9 106.1M156.7 261.6L252.2 108.8M159.9 263.7L255.4 110.8M166.1 267.5L261.6 114.6M169.2 269.5L264.7 116.6M175.0 273.1L270.5 120.2M154.3 68.1L159.1 71.1M159.1 71.1L164.1 74.2M164.1 74.2L168.3 76.9M173.4 80.0L175.9 81.7M191.4 91.3L196.6 94.6M199.5 96.4L205.0 99.8M205.0 99.8L209.1 102.4M219.2 108.7L222.6 110.8M227.7 114.0L232.5 117.0M232.5 117.0L238.7 120.8M238.7 120.8L243.0 123.5M243.0 123.5L246.2 125.6M246.2 125.6L252.4 129.4M252.4 129.4L255.5 131.4M151.1 73.3L155.8 76.3M155.8 76.3L160.9 79.4M165.0 82.0L170.1 85.2M170.1 85.2L172.7 86.8M172.7 86.8L178.4 90.4M188.2 96.5L193.4 99.8M193.4 99.8L196.2 101.5M196.2 101.5L201.7 105.0M205.9 107.5L211.2 110.9M211.2 110.9L216.0 113.9M219.3 116.0L224.5 119.2M243.0 130.7L249.1 134.6M249.1 134.6L252.3 136.5M252.3 136.5L258.0 140.1M146.1 81.2L150.9 84.2M150.9 84.2L155.9 87.3M167.8 94.7L173.5 98.3M173.5 98.3L179.2 101.9M183.2 104.4L188.5 107.7M188.5 107.7L191.3 109.4M191.3 109.4L196.8 112.9M196.8 112.9L200.9 115.5M200.9 115.5L206.3 118.8M219.5 127.1L224.3 130.1M224.3 130.1L230.5 133.9M230.5 133.9L234.8 136.6M234.8 136.6L238.0 138.6M247.3 144.4L253.1 148.1M162.9 96.8L165.5 98.4M171.2 102.0L176.9 105.6M176.9 105.6L180.9 108.1M189.0 113.1L194.5 116.6M208.7 125.5L212.1 127.5M212.1 127.5L217.2 130.8M217.2 130.8L222.0 133.8M228.2 137.6L232.5 140.3M245.0 148.1L250.8 151.7M150.2 96.5L154.3 99.2M177.5 113.6L182.7 116.9M182.7 116.9L185.5 118.7M185.5 118.7L191.0 122.1M200.5 128.0L205.3 131.0M218.6 139.3L224.7 143.1M238.4 151.7L241.6 153.7M145.4 104.2L149.6 106.8M149.6 106.8L154.7 110.0M154.7 110.0L157.3 111.6M162.9 115.1L168.7 118.7M177.9 124.5L180.8 126.3M180.8 126.3L186.3 129.7M186.3 129.7L190.4 132.3M190.4 132.3L195.8 135.6M195.8 135.6L200.5 138.6M200.5 138.6L203.9 140.7M203.9 140.7L209.0 143.9M209.0 143.9L213.8 146.9M213.8 146.9L220.0 150.8M220.0 150.8L224.3 153.5M224.3 153.5L227.5 155.5M236.8 161.3L242.6 164.9M132.3 103.3L137.1 106.2M137.1 106.2L142.1 109.4M142.1 109.4L146.3 112.0M146.3 112.0L151.4 115.2M151.4 115.2L154.0 116.8M159.7 120.3L165.5 124.0M165.5 124.0L169.4 126.4M174.7 129.7L177.5 131.5M177.5 131.5L183.0 134.9M183.0 134.9L187.2 137.5M200.6 145.9L205.7 149.1M216.7 156.0L221.0 158.7M221.0 158.7L224.3 160.7M134.7 110.2L139.7 113.3M143.9 115.9L149.0 119.1M149.0 119.1L151.6 120.7M163.0 127.9L167.0 130.3M175.1 135.4L180.6 138.8M180.6 138.8L184.7 141.4M184.7 141.4L190.1 144.8M190.1 144.8L194.8 147.7M198.2 149.8L203.3 153.0M218.6 162.6L221.8 164.6M228.0 168.4L231.1 170.4M231.1 170.4L236.9 174.0M120.4 111.4L125.3 114.5M130.1 117.5L135.1 120.6M135.1 120.6L139.3 123.3M139.3 123.3L144.4 126.4M144.4 126.4L147.0 128.1M152.6 131.6L158.4 135.2M158.4 135.2L162.4 137.7M170.5 142.8L176.0 146.2M176.0 146.2L180.1 148.8M180.1 148.8L185.5 152.1M193.6 157.2L198.7 160.4M198.7 160.4L203.5 163.4M203.5 163.4L209.7 167.2M214.0 169.9L217.2 172.0M223.4 175.8L226.5 177.8M127.4 121.9L132.4 125.0M136.6 127.6L141.7 130.8M141.7 130.8L144.2 132.4M144.2 132.4L149.9 136.0M149.9 136.0L155.7 139.6M155.7 139.6L159.7 142.1M159.7 142.1L164.9 145.3M164.9 145.3L167.8 147.1M177.4 153.1L182.8 156.5M182.8 156.5L187.5 159.4M187.5 159.4L190.8 161.5M200.8 167.7L206.9 171.6M206.9 171.6L211.3 174.3M214.5 176.3L220.7 180.2M118.9 124.8L123.7 127.8M128.7 130.9L132.9 133.5M132.9 133.5L138.0 136.7M140.6 138.3L146.2 141.9M146.2 141.9L152.0 145.5M156.0 148.0L161.2 151.2M169.6 156.4L173.7 159.0M173.7 159.0L179.1 162.4M187.2 167.4L192.3 170.6M192.3 170.6L197.1 173.6M197.1 173.6L203.3 177.5M203.3 177.5L207.6 180.2M207.6 180.2L210.8 182.2M210.8 182.2L217.0 186.1M111.3 125.9L116.3 129.0M116.3 129.0L121.1 132.0M135.3 140.9L137.9 142.5M158.6 155.4L161.4 157.2M166.9 160.6L171.1 163.2M184.5 171.6L189.7 174.8M189.7 174.8L194.5 177.9M200.6 181.7L204.9 184.4M208.2 186.4L214.3 190.3M214.3 190.3L217.5 192.2M106.6 133.4L111.6 136.5M111.6 136.5L116.3 139.5M116.3 139.5L121.3 142.6M121.3 142.6L125.5 145.3M125.5 145.3L130.6 148.4M144.7 157.2L148.7 159.7M148.7 159.7L153.9 163.0M153.9 163.0L156.7 164.7M162.2 168.2L166.4 170.8M171.7 174.1L176.5 177.1M176.5 177.1L179.8 179.2M185.0 182.4L189.8 185.4M195.9 189.2L200.2 191.9M212.8 199.8L218.5 203.4M108.5 141.3L113.3 144.3M118.3 147.5L122.5 150.1M122.5 150.1L127.6 153.3M127.6 153.3L130.2 154.9M130.2 154.9L135.9 158.4M141.7 162.0L145.6 164.5M153.7 169.6L159.2 173.0M163.4 175.6L168.7 178.9M168.7 178.9L173.4 181.9M176.8 184.0L181.9 187.2M186.8 190.2L192.9 194.1M192.9 194.1L197.2 196.8M200.5 198.8L206.6 202.6M209.7 204.6L215.5 208.2M99.7 144.5L104.6 147.6M114.4 153.7L118.6 156.4M118.6 156.4L123.7 159.5M137.7 168.3L141.7 170.8M147.0 174.1L149.8 175.8M149.8 175.8L155.3 179.3M155.3 179.3L159.4 181.9M164.8 185.2L169.5 188.2M169.5 188.2L172.9 190.3M172.9 190.3L178.0 193.5M193.3 203.0L196.5 205.1M202.7 208.9L205.8 210.9M106.1 155.9L111.1 159.0M111.1 159.0L115.3 161.7M115.3 161.7L120.4 164.8M120.4 164.8L123.0 166.5M123.0 166.5L128.6 170.0M134.4 173.6L138.4 176.1M143.7 179.4L146.5 181.2M146.5 181.2L152.0 184.6M161.5 190.5L166.2 193.5M166.2 193.5L169.6 195.6M169.6 195.6L174.7 198.8M174.7 198.8L179.5 201.8M179.5 201.8L185.7 205.6M185.7 205.6L190.0 208.3M190.0 208.3L193.2 210.4M199.4 214.2L202.5 216.2M202.5 216.2L208.3 219.8M93.9 153.7L98.9 156.8M98.9 156.8L103.7 159.8M103.7 159.8L108.7 162.9M108.7 162.9L112.9 165.5M112.9 165.5L118.0 168.7M118.0 168.7L120.5 170.3M126.2 173.9L132.0 177.5M144.1 185.0L149.6 188.5M153.7 191.1L159.1 194.4M163.8 197.4L167.1 199.5M177.1 205.7L183.2 209.5M183.2 209.5L187.6 212.2M187.6 212.2L190.8 214.2M190.8 214.2L197.0 218.1M197.0 218.1L200.1 220.0M200.1 220.0L205.9 223.7M95.3 162.5L100.1 165.5M100.1 165.5L105.1 168.6M105.1 168.6L109.3 171.2M109.3 171.2L114.4 174.4M122.7 179.6L128.4 183.2M128.4 183.2L132.4 185.7M146.0 194.1L150.1 196.7M155.5 200.1L160.2 203.0M160.2 203.0L163.6 205.1M168.7 208.4L173.5 211.4M173.5 211.4L179.7 215.2M179.7 215.2L184.0 217.9M187.3 219.9L193.4 223.8M193.4 223.8L196.5 225.7M196.5 225.7L202.3 229.3M87.3 164.4L92.2 167.5M97.0 170.5L102.0 173.6M106.2 176.2L111.3 179.4M111.3 179.4L113.9 181.0M113.9 181.0L119.6 184.5M119.6 184.5L125.3 188.2M125.3 188.2L129.3 190.6M129.3 190.6L134.6 193.9M134.6 193.9L137.4 195.7M137.4 195.7L142.9 199.1M142.9 199.1L147.0 201.7M147.0 201.7L152.4 205.1M157.1 208.0L160.5 210.1M160.5 210.1L165.6 213.3M165.6 213.3L170.4 216.3M170.4 216.3L176.6 220.2M176.6 220.2L180.9 222.9M180.9 222.9L184.1 224.9M184.1 224.9L190.3 228.7M190.3 228.7L193.4 230.7M93.6 175.9L98.6 179.0M98.6 179.0L102.8 181.7M102.8 181.7L107.9 184.8M107.9 184.8L110.5 186.4M116.2 190.0L121.9 193.6M134.0 201.1L139.5 204.6M139.5 204.6L143.6 207.2M149.0 210.5L153.7 213.5M153.7 213.5L157.1 215.6M157.1 215.6L162.2 218.8M162.2 218.8L167.0 221.8M177.5 228.3L180.7 230.4M180.7 230.4L186.9 234.2M186.9 234.2L190.0 236.2M190.0 236.2L195.8 239.8M80.6 175.1L85.5 178.2M85.5 178.2L90.3 181.2M95.3 184.3L99.5 186.9M99.5 186.9L104.6 190.1M107.2 191.7L112.8 195.3M112.8 195.3L118.6 198.9M118.6 198.9L122.6 201.4M122.6 201.4L127.9 204.7M127.9 204.7L130.7 206.4M130.7 206.4L136.2 209.9M136.2 209.9L140.3 212.5M169.9 230.9L174.2 233.6M81.7 184.4L86.4 187.4M91.5 190.5L95.6 193.1M95.6 193.1L100.7 196.3M100.7 196.3L103.3 197.9M103.3 197.9L109.0 201.5M109.0 201.5L114.8 205.1M118.8 207.5L124.0 210.8M124.0 210.8L126.8 212.6M136.5 218.6L141.8 222.0M141.8 222.0L146.6 224.9M146.6 224.9L149.9 227.0M149.9 227.0L155.1 230.2M170.3 239.8L173.6 241.8M173.6 241.8L179.7 245.7M179.7 245.7L182.9 247.6M182.9 247.6L188.6 251.2M72.7 187.6L77.7 190.7M91.7 199.5L96.8 202.6M96.8 202.6L99.3 204.2M99.3 204.2L105.0 207.8M110.8 211.4L114.8 213.9M122.9 218.9L128.4 222.4M128.4 222.4L132.5 225.0M137.9 228.3L142.6 231.3M142.6 231.3L146.0 233.4M146.0 233.4L151.1 236.6M162.1 243.4L166.4 246.1M175.8 252.0L178.9 254.0"/>
</g>
<clipPath id="c8"><polygon points="150.0,200.0 192.0,148.0 212.0,150.0 172.0,238.0 150.0,230.0"/></clipPath>
<g clip-path="url(#c8)" stroke-width="1.25">
<path d="M80.4 227.6L175.4 86.7M85.9 231.3L180.9 90.4M90.3 234.3L185.4 93.5M95.1 237.6L190.1 96.7M99.8 240.7L194.8 99.8M107.0 245.6L202.0 104.7M111.9 248.8L206.9 108.0M118.0 253.0L213.0 112.1M122.4 255.9L217.4 115.1M128.8 260.3L223.9 119.4M132.9 263.0L227.9 122.1M139.7 267.6L234.7 126.7M144.9 271.1L239.9 130.2M149.4 274.2L244.4 133.3M155.1 278.0L250.2 137.2M160.9 281.9L255.9 141.1M165.0 284.7L260.0 143.8M171.4 289.0L266.4 148.1M177.4 293.1L272.4 152.2M181.4 295.7L276.4 154.8M188.2 300.3L283.2 159.5M166.7 99.7L172.1 103.4M172.1 103.4L176.6 106.4M186.1 112.8L193.3 117.6M193.3 117.6L198.1 120.9M198.1 120.9L204.3 125.1M204.3 125.1L208.7 128.0M215.1 132.4L219.2 135.1M219.2 135.1L226.0 139.7M231.2 143.2L235.7 146.3M241.4 150.1L247.2 154.0M267.6 167.8L274.5 172.4M177.2 115.9L181.9 119.1M189.1 123.9L193.9 127.2M193.9 127.2L200.1 131.3M204.4 134.3L210.9 138.6M210.9 138.6L214.9 141.4M221.8 146.0L227.0 149.5M227.0 149.5L231.5 152.5M231.5 152.5L237.2 156.4M243.0 160.3L247.1 163.0M247.1 163.0L253.4 167.3M253.4 167.3L259.5 171.4M263.4 174.1L270.3 178.7M159.5 110.3L165.0 114.0M174.3 120.2L179.0 123.4M179.0 123.4L186.1 128.2M186.1 128.2L191.0 131.5M191.0 131.5L197.2 135.7M197.2 135.7L201.5 138.6M201.5 138.6L208.0 143.0M212.0 145.7L218.8 150.3M234.3 160.7L240.1 164.6M244.1 167.3L250.5 171.6M250.5 171.6L256.6 175.7M256.6 175.7L260.5 178.4M161.6 119.1L166.0 122.1M166.0 122.1L170.8 125.3M170.8 125.3L175.5 128.5M175.5 128.5L182.7 133.3M182.7 133.3L187.6 136.6M193.7 140.8L198.1 143.7M204.5 148.1L208.6 150.8M220.6 158.9L225.1 161.9M225.1 161.9L230.9 165.8M240.7 172.4L247.1 176.7M257.1 183.5L263.9 188.1M150.8 123.2L156.3 126.9M156.3 126.9L160.7 129.9M160.7 129.9L165.5 133.2M165.5 133.2L170.2 136.3M182.3 144.5L188.4 148.6M192.8 151.6L199.2 155.9M199.2 155.9L203.3 158.6M210.1 163.2L215.3 166.7M231.3 177.6L235.4 180.3M241.8 184.6L247.8 188.7M156.8 135.8L161.6 139.0M173.5 147.0L178.3 150.3M188.9 157.4L195.3 161.7M199.4 164.5L206.2 169.1M206.2 169.1L211.4 172.6M215.9 175.6L221.6 179.5M231.5 186.1L237.8 190.4M243.9 194.5L247.8 197.2M143.7 133.8L149.1 137.5M153.6 140.5L158.4 143.8M163.1 146.9L170.3 151.8M170.3 151.8L175.1 155.0M192.1 166.5L196.2 169.2M196.2 169.2L203.0 173.8M203.0 173.8L208.2 177.3M208.2 177.3L212.7 180.4M234.6 195.2L240.7 199.3M240.7 199.3L244.6 201.9M140.4 138.6L145.9 142.3M150.4 145.3L155.2 148.5M155.2 148.5L159.9 151.7M159.9 151.7L167.0 156.5M167.0 156.5L171.9 159.8M178.1 164.0L182.4 166.9M188.9 171.3L192.9 174.0M192.9 174.0L199.7 178.6M199.7 178.6L204.9 182.1M209.5 185.2L215.2 189.0M215.2 189.0L221.0 192.9M221.0 192.9L225.0 195.7M237.5 204.0L241.4 206.7M241.4 206.7L248.2 211.3M136.3 144.7L141.8 148.4M141.8 148.4L146.3 151.4M162.9 162.6L167.8 165.9M167.8 165.9L174.0 170.1M174.0 170.1L178.3 173.0M178.3 173.0L184.8 177.4M184.8 177.4L188.8 180.1M220.9 201.8L227.3 206.1M237.3 212.8L244.1 217.4M137.0 155.5L141.5 158.5M141.5 158.5L146.3 161.7M146.3 161.7L151.0 164.9M158.1 169.7L163.0 173.0M169.2 177.2L173.5 180.1M173.5 180.1L180.0 184.4M180.0 184.4L184.0 187.2M196.0 195.3L200.6 198.3M212.1 206.1L216.2 208.8M216.2 208.8L222.5 213.1M232.5 219.9L239.4 224.5M133.8 160.3L138.3 163.3M138.3 163.3L143.0 166.5M147.7 169.7L154.9 174.5M180.8 192.0L187.6 196.6M187.6 196.6L192.8 200.1M192.8 200.1L197.3 203.1M212.9 213.6L219.3 217.9M225.3 222.0L229.3 224.7M149.7 182.2L154.6 185.5M160.7 189.7L165.1 192.6M165.1 192.6L171.5 197.0M171.5 197.0L175.6 199.7M182.4 204.3L187.6 207.8M197.9 214.7L203.6 218.6M207.7 221.4L214.1 225.7M214.1 225.7L220.1 229.7M220.1 229.7L224.1 232.4M224.1 232.4L230.9 237.0M119.9 169.0L125.4 172.7M129.8 175.8L134.6 179.0M139.3 182.1L146.5 187.0M146.5 187.0L151.4 190.3M151.4 190.3L157.5 194.4M157.5 194.4L161.9 197.4M168.3 201.7L172.4 204.5M188.9 215.6L194.7 219.5M194.7 219.5L200.4 223.4M200.4 223.4L204.5 226.1M210.9 230.4L216.9 234.5M216.9 234.5L220.9 237.2M136.2 186.8L143.3 191.7M148.2 194.9L154.4 199.1M176.0 213.7L181.2 217.2M191.5 224.2L197.3 228.0M213.8 239.2L217.7 241.8M217.7 241.8L224.5 246.4M111.9 180.8L117.4 184.5M117.4 184.5L121.9 187.6M126.7 190.8L131.4 193.9M131.4 193.9L138.5 198.8M138.5 198.8L143.4 202.1M143.4 202.1L149.6 206.2M164.4 216.3L171.2 220.8M171.2 220.8L176.4 224.4M176.4 224.4L181.0 227.4M212.9 249.0L219.7 253.6M108.6 185.8L114.1 189.5M146.2 211.2L150.6 214.1M150.6 214.1L157.0 218.5M157.0 218.5L161.1 221.2M173.1 229.3L177.6 232.4M183.4 236.2L189.1 240.1M199.6 247.2L205.6 251.2M103.6 193.3L109.0 196.9M109.0 196.9L113.5 200.0M113.5 200.0L118.3 203.2M130.2 211.2L135.0 214.5M135.0 214.5L141.2 218.6M156.1 228.7L162.9 233.3M162.9 233.3L168.1 236.8M172.6 239.8L178.3 243.7M99.7 199.0L105.2 202.7M105.2 202.7L109.6 205.7M114.4 208.9L119.1 212.1M126.3 216.9L131.2 220.2M131.2 220.2L137.3 224.4M137.3 224.4L141.7 227.3M148.1 231.7L152.2 234.4M159.0 239.0L164.2 242.5M168.7 245.6L174.5 249.4M180.2 253.3L184.3 256.1M190.7 260.4L196.7 264.4M196.7 264.4L200.7 267.1M200.7 267.1L207.5 271.7M106.5 210.4L111.3 213.6M111.3 213.6L116.0 216.8M116.0 216.8L123.2 221.6M138.5 232.0L145.0 236.3M145.0 236.3L149.0 239.1M149.0 239.1L155.9 243.7M177.1 258.0L181.2 260.7M181.2 260.7L187.5 265.0M193.6 269.1L197.5 271.8M97.9 213.5L102.3 216.5M111.8 222.9L119.0 227.8M134.4 238.1L140.8 242.5M144.9 245.2L151.7 249.8M156.9 253.3L161.4 256.4M161.4 256.4L167.1 260.3M167.1 260.3L172.9 264.2M172.9 264.2L177.0 266.9M177.0 266.9L183.4 271.2M183.4 271.2L189.4 275.3M189.4 275.3L193.4 277.9M98.3 222.5L103.1 225.7M115.0 233.7L119.8 237.0M126.0 241.2L130.3 244.1M130.3 244.1L136.8 248.5M136.8 248.5L140.9 251.2M147.7 255.8L152.9 259.3M152.9 259.3L157.4 262.4M163.1 266.2L168.9 270.1M173.0 272.9L179.3 277.1M179.3 277.1L185.4 281.2"/>
</g>
<clipPath id="c9"><rect x="128" y="200" width="47" height="45"/></clipPath>
<g clip-path="url(#c9)" stroke-width="1.25">
<path d="M87.2 245.2L139.0 155.4M92.2 248.1L144.0 158.4M96.8 250.7L148.6 161.0M101.7 253.5L153.5 163.8M106.3 256.2L158.1 166.5M111.7 259.3L163.5 169.6M115.5 261.5L167.3 171.8M121.2 264.8L173.0 175.1M124.4 266.7L176.2 177.0M129.9 269.8L181.7 180.1M134.7 272.6L186.5 182.9M139.0 275.1L190.8 185.4M145.2 278.7L197.0 189.0M149.0 280.9L200.8 191.1M154.9 284.3L206.7 194.5M160.0 287.2L211.8 197.5M163.1 289.0L214.9 199.3M158.0 179.1L161.8 181.3M161.8 181.3L167.5 184.6M167.5 184.6L170.7 186.5M170.7 186.5L176.2 189.6M176.2 189.6L181.0 192.4M191.5 198.5L195.3 200.6M195.3 200.6L201.2 204.0M145.1 178.3L149.8 181.0M149.8 181.0L155.1 184.1M155.1 184.1L158.9 186.3M158.9 186.3L164.6 189.6M164.6 189.6L167.9 191.4M178.2 197.4L182.5 199.9M198.3 209.0L203.5 212.0M127.8 174.8L132.9 177.7M132.9 177.7L137.5 180.3M137.5 180.3L142.3 183.1M152.3 188.9L156.1 191.1M156.1 191.1L161.8 194.4M161.8 194.4L165.1 196.3M165.1 196.3L170.5 199.4M185.9 208.3L189.6 210.4M189.6 210.4L195.5 213.9M195.5 213.9L200.7 216.8M135.4 183.9L140.3 186.7M140.3 186.7L144.9 189.4M144.9 189.4L150.3 192.5M150.3 192.5L154.1 194.7M154.1 194.7L159.8 197.9M159.8 197.9L163.0 199.8M168.5 203.0L173.3 205.8M183.8 211.8L187.6 214.0M187.6 214.0L193.5 217.4M193.5 217.4L198.6 220.4M131.8 190.2L136.6 193.0M136.6 193.0L141.3 195.7M141.3 195.7L146.7 198.8M146.7 198.8L150.5 201.0M150.5 201.0L156.1 204.2M156.1 204.2L159.4 206.1M159.4 206.1L164.9 209.3M169.7 212.1L174.0 214.6M123.9 193.2L128.5 195.8M143.4 204.4L147.2 206.6M161.6 214.9L166.4 217.7M166.4 217.7L170.7 220.2M170.7 220.2L176.9 223.8M180.7 225.9L186.6 229.3M186.6 229.3L191.7 232.3M191.7 232.3L194.8 234.1M130.9 203.0L135.5 205.7M135.5 205.7L140.9 208.7M144.7 210.9L150.4 214.2M153.6 216.1L159.1 219.3M163.9 222.0L168.2 224.5M178.2 230.3L184.1 233.7M156.2 224.3L161.0 227.1M165.4 229.5L171.5 233.1M186.3 241.7L189.4 243.4M110.4 205.0L115.4 207.9M138.7 221.4L144.3 224.6M144.3 224.6L147.6 226.5M157.9 232.5L162.2 235.0M168.4 238.5L172.1 240.7M172.1 240.7L178.1 244.1M178.1 244.1L183.2 247.1M183.2 247.1L186.3 248.9M107.4 210.1L112.5 213.0M112.5 213.0L117.1 215.6M117.1 215.6L121.9 218.4M121.9 218.4L126.6 221.1M141.4 229.7L144.7 231.6M150.2 234.7L155.0 237.5M159.3 240.0L165.5 243.6M165.5 243.6L169.2 245.8M169.2 245.8L175.1 249.2M175.1 249.2L180.3 252.1M103.6 216.6L108.7 219.6M108.7 219.6L113.3 222.2M113.3 222.2L118.1 225.0M118.1 225.0L122.8 227.7M128.2 230.8L132.0 233.0M140.9 238.2L146.4 241.3M155.5 246.6L161.7 250.2M165.4 252.3L171.3 255.7M176.5 258.7L179.6 260.5M106.3 223.6L111.0 226.3M111.0 226.3L115.8 229.1M115.8 229.1L120.5 231.8M120.5 231.8L125.8 234.9M129.6 237.1L135.3 240.3M138.6 242.2L144.0 245.4M148.9 248.2L153.2 250.6M159.4 254.2L163.1 256.4M98.2 226.1L103.2 229.0M107.8 231.7L112.7 234.5M132.2 245.7L135.4 247.6M145.7 253.6L150.1 256.0M150.1 256.0L156.2 259.6M156.2 259.6L160.0 261.8M160.0 261.8L165.9 265.2M171.0 268.2L174.1 269.9M94.9 231.9L99.9 234.8M114.0 242.9L119.4 246.0M119.4 246.0L123.2 248.2M128.8 251.5L132.1 253.4M137.6 256.5L142.4 259.3M152.9 265.4L156.6 267.5M156.6 267.5L162.6 270.9M96.4 240.8L101.1 243.4M101.1 243.4L105.9 246.2M110.6 248.9L115.9 252.0M119.7 254.2L125.4 257.5M128.7 259.4L134.1 262.5M143.3 267.8L149.5 271.4M149.5 271.4L153.2 273.5M153.2 273.5L159.1 276.9M159.1 276.9L164.3 279.9"/>
</g>
</g>
<polygon points="163.0,111.0 169.6,116.6 175.3,120.4 184.7,112.8 196.0,106.2 239.4,97.7 245.1,129.8 259.2,132.6 180.0,241.5 171.3,240.0 170.0,235.9 167.9,227.0 163.8,224.3 152.1,214.0 135.6,213.3 128.7,220.8 137.7,205.7 140.4,193.4 143.2,183.7 147.3,172.0 150.5,165.0 153.0,154.8 155.0,134.2 156.4,119.2" fill="none" stroke="#10a8a8" stroke-width="1.1"/>
<clipPath id="c10"><polygon points="259.2,132.6 251.3,162.0 257.2,179.8 249.3,186.8 257.2,192.7 246.3,207.7 243.3,213.6 254.3,228.5 235.4,249.4 205.5,233.5 206.5,251.4 177.7,253.4 172.8,251.4"/></clipPath>
<polygon points="259.2,132.6 251.3,162.0 257.2,179.8 249.3,186.8 257.2,192.7 246.3,207.7 243.3,213.6 254.3,228.5 235.4,249.4 205.5,233.5 206.5,251.4 177.7,253.4 172.8,251.4" fill="#fce9d9"/>
<g clip-path="url(#c10)" stroke="#f0c288" fill="none" stroke-linecap="butt">
<clipPath id="c11"><rect x="170" y="130" width="92" height="125"/></clipPath>
<g clip-path="url(#c11)" stroke-width="1.23">
<path d="M118.0 79.1L351.6 128.8M116.9 84.5L350.5 134.1M115.3 91.8L348.9 141.5M114.4 96.0L348.0 145.6M112.9 103.2L346.5 152.9M111.8 108.6L345.4 158.2M110.7 113.6L344.3 163.2M109.2 120.7L342.8 170.4M108.2 125.2L341.8 174.9M106.7 132.3L340.3 181.9M105.7 137.1L339.3 186.7M104.4 143.0L338.0 192.6M103.0 149.8L336.6 199.5M101.5 156.9L335.1 206.5M100.7 160.7L334.3 210.4M99.4 166.9L333.0 216.5M97.9 173.9L331.5 223.6M96.4 180.7L330.0 230.4M95.4 185.5L329.0 235.2M94.3 190.8L327.9 240.5M92.7 198.4L326.3 248.1M92.0 201.6L325.6 251.2M90.2 209.8L323.8 259.5M89.4 214.0L322.9 263.7M88.2 219.5L321.8 269.1M87.0 225.2L320.6 274.9M85.6 231.7L319.2 281.3M84.0 239.0L317.6 288.7M83.2 243.0L316.8 292.7M81.7 250.1L315.3 299.7M80.4 256.1L314.0 305.8M148.4 85.6L147.3 90.9M147.3 90.9L145.7 98.3M143.3 109.7L142.1 115.0M142.1 115.0L141.1 120.0M141.1 120.0L139.6 127.2M139.6 127.2L138.6 131.7M138.6 131.7L137.1 138.7M136.1 143.5L134.8 149.5M134.8 149.5L133.4 156.3M133.4 156.3L131.9 163.4M131.9 163.4L131.1 167.2M123.0 204.9L122.4 208.0M117.3 231.7L116.0 238.1M116.0 238.1L114.4 245.5M114.4 245.5L113.6 249.5M112.1 256.5L110.8 262.6M154.3 86.8L153.1 92.2M153.1 92.2L151.6 99.5M151.6 99.5L150.7 103.7M150.7 103.7L149.1 110.9M149.1 110.9L148.0 116.3M148.0 116.3L146.9 121.3M146.9 121.3L145.4 128.4M145.4 128.4L144.5 132.9M144.5 132.9L143.0 140.0M143.0 140.0L141.9 144.8M139.2 157.5L137.7 164.6M137.7 164.6L136.9 168.4M136.9 168.4L135.6 174.6M135.6 174.6L134.1 181.6M134.1 181.6L132.7 188.4M130.5 198.5L128.9 206.1M128.9 206.1L128.2 209.3M128.2 209.3L126.5 217.5M126.5 217.5L125.6 221.7M125.6 221.7L124.4 227.2M124.4 227.2L123.2 232.9M121.8 239.4L120.3 246.7M120.3 246.7L119.4 250.7M158.3 87.7L157.2 93.1M155.6 100.4L154.7 104.6M149.5 129.3L148.5 133.8M148.5 133.8L147.0 140.8M147.0 140.8L146.0 145.6M141.8 165.5L141.0 169.3M141.0 169.3L139.7 175.4M132.3 210.1L130.6 218.4M129.7 222.6L128.5 228.0M128.5 228.0L127.3 233.8M127.3 233.8L125.9 240.2M125.9 240.2L124.3 247.6M124.3 247.6L123.5 251.6M163.7 88.8L162.6 94.2M158.6 112.9L157.4 118.3M157.4 118.3L156.4 123.3M156.4 123.3L154.9 130.5M154.9 130.5L153.9 134.9M153.9 134.9L152.4 142.0M148.7 159.6L147.2 166.6M145.1 176.6L143.6 183.6M138.3 208.1L137.7 211.3M137.7 211.3L135.9 219.5M135.0 223.7L133.9 229.2M131.3 241.4L129.7 248.7M129.7 248.7L128.9 252.7M169.5 90.1L168.3 95.4M168.3 95.4L166.8 102.8M166.8 102.8L165.9 106.9M163.2 119.5L162.2 124.5M158.2 143.2L157.2 148.0M155.9 153.9L154.4 160.8M154.4 160.8L152.9 167.8M147.9 191.7L146.9 196.4M144.1 209.4L143.4 212.5M143.4 212.5L141.7 220.7M141.7 220.7L140.8 224.9M140.8 224.9L139.6 230.4M138.4 236.2L137.0 242.6M137.0 242.6L135.5 250.0M135.5 250.0L134.6 254.0M133.1 261.0L131.9 267.1M176.1 91.5L175.0 96.8M172.5 108.3L171.0 115.6M166.3 137.6L164.8 144.6M164.8 144.6L163.8 149.4M163.8 149.4L162.6 155.3M162.6 155.3L161.1 162.2M159.6 169.2L158.8 173.1M158.8 173.1L157.5 179.2M154.5 193.1L153.5 197.9M150.1 213.9L148.4 222.2M147.5 226.4L146.3 231.8M146.3 231.8L145.1 237.6M180.8 92.5L179.7 97.8M174.6 121.9L173.5 126.9M172.0 134.1L171.0 138.6M165.8 163.2L164.3 170.2M160.7 187.3L159.2 194.1M159.2 194.1L158.2 198.9M158.2 198.9L157.1 204.2M157.1 204.2L155.5 211.8M155.5 211.8L154.8 214.9M154.8 214.9L153.1 223.2M149.8 238.6L148.4 245.0M146.0 256.4L144.5 263.4M184.8 98.9L183.2 106.2M182.3 110.4L180.8 117.6M180.8 117.6L179.6 123.0M177.1 135.2L176.1 139.7M176.1 139.7L174.6 146.7M173.6 151.5L172.3 157.4M172.3 157.4L170.9 164.3M170.9 164.3L169.4 171.3M168.6 175.1L167.3 181.3M165.8 188.3L164.3 195.2M164.3 195.2L163.3 199.9M163.3 199.9L162.2 205.3M159.9 216.0L158.1 224.2M154.8 239.7L153.5 246.1M153.5 246.1L151.9 253.5M151.9 253.5L151.1 257.5M149.6 264.5L148.3 270.5M192.0 94.9L190.9 100.2M190.9 100.2L189.3 107.5M186.9 118.9L185.8 124.3M185.8 124.3L184.7 129.3M180.7 148.0L179.7 152.8M179.7 152.8L178.4 158.7M177.0 165.6L175.5 172.6M175.5 172.6L174.7 176.4M170.4 196.5L169.4 201.2M168.3 206.6L166.7 214.1M166.0 217.3L164.2 225.5M164.2 225.5L163.3 229.7M161.0 241.0L159.6 247.4M159.6 247.4L158.0 254.8M157.2 258.8L155.7 265.8M155.7 265.8L154.4 271.8M197.0 95.9L195.9 101.3M195.9 101.3L194.3 108.6M194.3 108.6L193.5 112.8M193.5 112.8L191.9 120.0M191.9 120.0L190.8 125.4M189.7 130.4L188.2 137.5M187.2 142.0L185.7 149.1M185.7 149.1L184.7 153.9M184.7 153.9L183.5 159.8M183.5 159.8L182.0 166.6M182.0 166.6L180.5 173.7M178.4 183.7L176.9 190.7M176.9 190.7L175.4 197.5M174.4 202.3L173.3 207.6M171.7 215.2L171.0 218.4M171.0 218.4L169.3 226.6M168.4 230.8L167.2 236.2M163.0 255.8L162.2 259.8M200.9 102.3L199.3 109.7M199.3 109.7L198.4 113.8M198.4 113.8L196.9 121.1M196.9 121.1L195.7 126.4M195.7 126.4L194.7 131.4M193.2 138.6L192.2 143.1M192.2 143.1L190.7 150.1M190.7 150.1L189.7 154.9M185.5 174.7L184.7 178.6M184.7 178.6L183.4 184.7M183.4 184.7L181.9 191.8M181.9 191.8L180.4 198.6M180.4 198.6L179.4 203.4M179.4 203.4L178.3 208.7M178.3 208.7L176.6 216.3M173.3 231.9L172.2 237.3M170.9 243.1L169.6 249.5M169.6 249.5L168.0 256.9M168.0 256.9L167.2 260.9M167.2 260.9L165.7 267.9M165.7 267.9L164.4 274.0M207.6 103.8L206.0 111.1M205.1 115.3L203.6 122.5M203.6 122.5L202.5 127.9M202.5 127.9L201.4 132.8M201.4 132.8L199.9 140.0M199.9 140.0L198.9 144.5M198.9 144.5L197.4 151.5M197.4 151.5L196.4 156.3M196.4 156.3L195.1 162.3M187.1 200.0L186.1 204.8M186.1 204.8L185.0 210.1M183.4 217.7L182.7 220.8M180.0 233.3L178.9 238.7M172.4 269.4L171.1 275.4M202.5 152.6L201.5 157.4M201.5 157.4L200.3 163.4M200.3 163.4L198.8 170.2M198.8 170.2L197.3 177.3M197.3 177.3L196.5 181.1M190.1 211.2L188.5 218.8M188.5 218.8L187.8 221.9M181.4 252.0L179.8 259.4M179.0 263.4L177.5 270.4M177.5 270.4L176.2 276.5M218.0 100.4L216.9 105.7M215.3 113.1L214.4 117.2M211.7 129.8L210.7 134.8M210.7 134.8L209.1 142.0M209.1 142.0L208.2 146.5M203.0 171.1L201.5 178.1M201.5 178.1L200.7 182.0M200.7 182.0L199.3 188.1M197.8 195.2L196.4 202.0M195.4 206.8L194.2 212.1M194.2 212.1L192.6 219.7M192.6 219.7L192.0 222.8M188.2 240.7L186.9 246.5M185.6 252.9L184.0 260.3M184.0 260.3L183.2 264.3M183.2 264.3L181.7 271.3M224.3 101.7L223.1 107.1M220.7 118.6L219.1 125.8M219.1 125.8L218.0 131.2M215.4 143.3L214.5 147.8M214.5 147.8L213.0 154.8M213.0 154.8L211.9 159.6M210.7 165.6L209.2 172.4M207.7 179.5L206.9 183.3M204.1 196.5L202.7 203.3M198.2 224.1L196.5 232.4M195.6 236.6L194.4 242.0M194.4 242.0L193.2 247.8M193.2 247.8L191.8 254.3M191.8 254.3L190.3 261.6M190.3 261.6L189.4 265.6M189.4 265.6L187.9 272.7M187.9 272.7L186.6 278.7M229.5 102.8L228.4 108.2M228.4 108.2L226.8 115.5M225.9 119.7L224.4 126.9M222.2 137.3L220.7 144.4M217.2 160.8L215.9 166.7M215.9 166.7L214.5 173.5M214.5 173.5L213.0 180.6M210.9 190.6L209.4 197.6M209.4 197.6L207.9 204.4M207.9 204.4L206.9 209.2M206.9 209.2L205.8 214.5M205.8 214.5L204.2 222.1M203.5 225.3L201.7 233.5M200.8 237.7L199.7 243.1M199.7 243.1L198.5 248.9M197.1 255.4L195.5 262.7M195.5 262.7L194.7 266.7M228.5 138.6L227.0 145.8M226.0 150.3L224.5 157.3M222.3 168.0L220.8 174.9M220.8 174.9L219.3 181.9M218.5 185.7L217.2 191.9M217.2 191.9L215.7 199.0M215.7 199.0L214.2 205.8M214.2 205.8L213.2 210.5M210.5 223.5L209.8 226.6M208.1 234.8L207.2 239.0M206.0 244.5L204.8 250.3M204.8 250.3L203.4 256.7M203.4 256.7L201.8 264.1M201.8 264.1L201.0 268.1M199.5 275.1L198.2 281.2M240.8 105.2L239.7 110.6M237.2 122.1L235.7 129.3M235.7 129.3L234.6 134.7M234.6 134.7L233.5 139.7M233.5 139.7L232.0 146.8M232.0 146.8L231.0 151.3M231.0 151.3L229.5 158.4M229.5 158.4L228.5 163.2M228.5 163.2L227.2 169.1M223.5 186.8L222.2 193.0M222.2 193.0L220.7 200.0M219.2 206.8L218.2 211.6M218.2 211.6L217.1 216.9M217.1 216.9L215.5 224.5M215.5 224.5L214.8 227.7M213.0 235.9L212.1 240.1M208.4 257.8L206.8 265.1M206.8 265.1L206.0 269.1M206.0 269.1L204.5 276.2M204.5 276.2L203.2 282.2M245.0 106.1L243.9 111.5M239.9 130.2L238.7 135.6M238.7 135.6L237.7 140.5M235.2 152.2L233.7 159.3M232.7 164.1L231.4 170.0M231.4 170.0L230.0 176.8M224.9 200.9L223.4 207.7M223.4 207.7L222.4 212.5M222.4 212.5L221.3 217.8M214.0 252.2L212.6 258.7M211.0 266.0L210.2 270.0M208.7 277.1L207.4 283.1M249.6 120.4L248.7 124.5M248.7 124.5L247.1 131.8M247.1 131.8L246.0 137.1M243.4 149.3L242.5 153.8M242.5 153.8L241.0 160.8M238.7 171.5L237.2 178.4M237.2 178.4L235.7 185.4M234.9 189.2L233.6 195.4M233.6 195.4L232.1 202.4M232.1 202.4L230.7 209.3M226.9 226.9L226.2 230.1M226.2 230.1L224.5 238.3M224.5 238.3L223.6 242.5M221.2 253.8L219.8 260.2M219.8 260.2L218.3 267.6M218.3 267.6L217.4 271.6M215.9 278.6L214.6 284.6M255.3 108.3L254.2 113.7M251.7 125.2L250.2 132.4M250.2 132.4L249.1 137.8M249.1 137.8L248.0 142.7M248.0 142.7L246.5 149.9M245.5 154.4L244.0 161.4M240.3 179.0L238.8 186.1M238.0 189.9L236.7 196.0M235.2 203.1L233.7 209.9M233.7 209.9L232.7 214.7M231.6 220.0L230.0 227.6M229.3 230.7L227.5 239.0M227.5 239.0L226.6 243.2M226.6 243.2L225.5 248.6M225.5 248.6L224.3 254.4M221.3 268.2L220.5 272.2M220.5 272.2L219.0 279.3M219.0 279.3L217.7 285.3M260.4 115.0L258.8 122.3M258.8 122.3L257.9 126.5M257.9 126.5L256.4 133.7M256.4 133.7L255.2 139.1M249.2 167.6L247.9 173.5M247.9 173.5L246.5 180.3M244.2 191.2L242.9 197.4M241.4 204.4L239.9 211.2M239.9 211.2L238.9 216.0M238.9 216.0L237.8 221.3M237.8 221.3L236.1 228.9M236.1 228.9L235.5 232.1M235.5 232.1L233.7 240.3M233.7 240.3L232.8 244.5M231.7 249.9L230.4 255.7M229.1 262.2L227.5 269.5M227.5 269.5L226.7 273.5M267.8 111.0L266.7 116.3M266.7 116.3L265.1 123.7M265.1 123.7L264.2 127.8M264.2 127.8L262.7 135.1M261.5 140.4L260.5 145.4M260.5 145.4L258.9 152.6M258.0 157.1L256.5 164.1M256.5 164.1L255.5 168.9M252.8 181.7L251.3 188.7M251.3 188.7L250.5 192.5M250.5 192.5L249.1 198.7M247.6 205.8L246.2 212.6M244.0 222.7L242.4 230.3M242.4 230.3L241.8 233.4M239.1 245.8L238.0 251.3M236.7 257.1L235.4 263.5M235.4 263.5L233.8 270.9M233.8 270.9L233.0 274.9M268.8 124.5L268.0 128.6M268.0 128.6L266.4 135.9M266.4 135.9L265.3 141.2M262.7 153.4L261.7 157.9M261.7 157.9L260.2 164.9M260.2 164.9L259.2 169.7M259.2 169.7L258.0 175.6M256.5 182.5L255.0 189.5M248.9 218.1L247.8 223.5M247.8 223.5L246.2 231.0M246.2 231.0L245.5 234.2M243.8 242.4L242.9 246.6M242.9 246.6L241.7 252.1M240.5 257.9L239.1 264.3M239.1 264.3L237.6 271.7M237.6 271.7L236.7 275.7M235.2 282.7L233.9 288.7M274.2 130.0L272.7 137.2M272.7 137.2L271.6 142.6M271.6 142.6L270.5 147.5M270.5 147.5L269.0 154.7M268.0 159.2L266.5 166.2M266.5 166.2L265.5 171.0M265.5 171.0L264.3 177.0M257.7 207.9L256.2 214.7M255.2 219.5L254.1 224.8M252.5 232.4L251.8 235.5M250.1 243.8L249.2 248.0M249.2 248.0L248.0 253.4M248.0 253.4L246.8 259.2M246.8 259.2L245.4 265.6M243.0 277.0L241.5 284.0M241.5 284.0L240.2 290.1M279.3 126.7L278.4 130.8M274.7 148.4L273.2 155.6M273.2 155.6L272.2 160.1M268.4 177.9L267.0 184.7M267.0 184.7L265.5 191.7M265.5 191.7L264.7 195.6M264.7 195.6L263.4 201.7M259.4 220.4L258.3 225.7M256.6 233.3L256.0 236.4M256.0 236.4L254.2 244.7M252.2 254.3L250.9 260.1M248.0 273.9L247.2 277.9M247.2 277.9L245.7 284.9M245.7 284.9L244.4 291.0M289.1 115.5L287.9 120.8M287.9 120.8L286.4 128.2M284.0 139.6L282.8 144.9M282.8 144.9L281.8 149.9M281.8 149.9L280.2 157.1M279.3 161.6L277.8 168.6M277.8 168.6L276.8 173.4M276.8 173.4L275.5 179.4M272.5 193.3L271.7 197.1M271.7 197.1L270.4 203.2M270.4 203.2L268.9 210.3M266.5 221.9L265.3 227.2M265.3 227.2L263.7 234.8M263.0 237.9L261.3 246.2M261.3 246.2L260.4 250.4M260.4 250.4L259.2 255.8M258.0 261.6L256.6 268.0M255.1 275.4L254.2 279.4M254.2 279.4L252.7 286.4M293.6 122.0L292.0 129.4M292.0 129.4L291.1 133.5M289.6 140.8L288.4 146.1M288.4 146.1L287.4 151.1M285.9 158.3L284.9 162.8M283.4 169.8L282.4 174.6M281.1 180.6L279.7 187.4M279.7 187.4L278.2 194.5M278.2 194.5L277.4 198.3M273.1 218.3L272.1 223.1M271.0 228.4L269.4 236.0M268.7 239.1L266.9 247.4M266.9 247.4L266.0 251.6M263.7 262.8L262.3 269.2M262.3 269.2L260.7 276.6M258.4 287.6L257.1 293.7M299.6 117.7L298.4 123.1M296.0 134.6L294.5 141.8M294.5 141.8L293.3 147.2M292.3 152.1L290.7 159.3M287.3 175.7L286.0 181.6M284.5 188.4L283.0 195.5M283.0 195.5L282.2 199.3M279.4 212.5L278.0 219.3M278.0 219.3L277.0 224.1M277.0 224.1L275.8 229.4M274.2 237.0L273.6 240.1M273.6 240.1L271.8 248.4M271.8 248.4L270.9 252.6M268.5 263.8L267.2 270.3M264.7 281.6L263.2 288.7M305.8 119.0L304.6 124.4M300.6 143.1L299.5 148.5M299.5 148.5L298.5 153.5M296.9 160.7L296.0 165.1M294.5 172.2L293.5 177.0M293.5 177.0L292.2 182.9M292.2 182.9L290.7 189.8M289.2 196.8L288.4 200.6M288.4 200.6L287.1 206.8M284.2 220.6L283.2 225.4M283.2 225.4L282.0 230.8M282.0 230.8L280.4 238.3M280.4 238.3L279.7 241.5M279.7 241.5L278.0 249.7M278.0 249.7L277.1 253.9M277.1 253.9L275.9 259.4M275.9 259.4L274.7 265.1M273.3 271.6L271.8 278.9M270.9 282.9L269.4 290.0M306.9 132.6L306.1 136.7M304.5 144.0L303.4 149.3M302.3 154.3L300.8 161.5M296.1 183.7L294.6 190.6M293.1 197.6L292.3 201.4M289.5 214.6L288.0 221.5M285.9 231.6L284.3 239.1M284.3 239.1L283.6 242.3M281.9 250.5L281.0 254.7M279.8 260.2L278.6 266.0M277.2 272.4L275.6 279.8M273.3 290.8L272.0 296.8M316.0 121.2L314.9 126.6M313.3 133.9L312.5 138.1M312.5 138.1L310.9 145.3M310.9 145.3L309.8 150.7M309.8 150.7L308.7 155.6M304.7 174.4L303.7 179.2M302.5 185.1L301.0 191.9M298.7 202.8L297.4 209.0M292.3 232.9L290.7 240.5M288.3 251.9L287.4 256.1M286.2 261.5L285.0 267.3M282.1 281.1L281.2 285.1M279.7 292.2L278.4 298.2M321.2 122.3L320.0 127.7M318.5 135.0L317.6 139.2M316.0 146.4L314.9 151.8M309.9 175.4L308.8 180.2M308.8 180.2L307.6 186.2M307.6 186.2L306.1 193.0M306.1 193.0L304.6 200.1M303.8 203.9L302.5 210.0M299.6 223.9L298.5 228.7M298.5 228.7L297.4 234.0M295.8 241.6L295.1 244.7M295.1 244.7L293.4 253.0M293.4 253.0L292.5 257.2M292.5 257.2L291.3 262.6M291.3 262.6L290.1 268.4M290.1 268.4L288.7 274.8M286.3 286.2L284.8 293.3"/>
</g>
</g>
<polygon points="259.2,132.6 251.3,162.0 257.2,179.8 249.3,186.8 257.2,192.7 246.3,207.7 243.3,213.6 254.3,228.5 235.4,249.4 205.5,233.5 206.5,251.4 177.7,253.4 172.8,251.4" fill="none" stroke="#f0c288" stroke-width="1.1"/>
<polyline points="259.2,132.6 172.8,251.4" fill="none" stroke="#ff4a2a" stroke-width="1.3" stroke-dasharray="2.2,0.8"/>
<polygon points="214.9,110 231.9,120 226.2,130.2 208.9,119.4" fill="none" stroke="#9010f0" stroke-width="1.5"/>
<g transform="translate(78.9,104.7)"><polygon points="-3.2,-0.9 0,-3.4 3.2,-0.9 3.2,3.0 -3.2,3.0" fill="#e8179a"/><polyline points="-3.6,-0.7 0,-3.6 3.6,-0.7" fill="none" stroke="#1c3030" stroke-width="0.8"/><rect x="-3.3" y="2.8" width="6.6" height="1.05" fill="#1c2626"/><text x="0.1" y="2.3" font-family="Liberation Sans" font-size="5.6" font-weight="bold" fill="#e6f6f0" text-anchor="middle">C</text></g>
<g transform="translate(118.9,118.9)"><polygon points="-3.2,-0.9 0,-3.4 3.2,-0.9 3.2,3.0 -3.2,3.0" fill="#e8179a"/><polyline points="-3.6,-0.7 0,-3.6 3.6,-0.7" fill="none" stroke="#1c3030" stroke-width="0.8"/><rect x="-3.3" y="2.8" width="6.6" height="1.05" fill="#1c2626"/><text x="0.1" y="2.3" font-family="Liberation Sans" font-size="5.6" font-weight="bold" fill="#e6f6f0" text-anchor="middle">C</text></g>
<g transform="translate(99.6,138.9)"><polygon points="-3.2,-0.9 0,-3.4 3.2,-0.9 3.2,3.0 -3.2,3.0" fill="#22b48c"/><polyline points="-3.6,-0.7 0,-3.6 3.6,-0.7" fill="none" stroke="#1c3030" stroke-width="0.8"/><rect x="-3.3" y="2.8" width="6.6" height="1.05" fill="#1c2626"/><text x="0.1" y="2.3" font-family="Liberation Sans" font-size="5.6" font-weight="bold" fill="#e6f6f0" text-anchor="middle">E</text></g>
<g transform="translate(173.4,126.0)"><polygon points="-3.2,-0.9 0,-3.4 3.2,-0.9 3.2,3.0 -3.2,3.0" fill="#22b48c"/><polyline points="-3.6,-0.7 0,-3.6 3.6,-0.7" fill="none" stroke="#1c3030" stroke-width="0.8"/><rect x="-3.3" y="2.8" width="6.6" height="1.05" fill="#1c2626"/><text x="0.1" y="2.3" font-family="Liberation Sans" font-size="5.6" font-weight="bold" fill="#e6f6f0" text-anchor="middle">E</text></g>
<g transform="translate(234.0,180.5)"><polygon points="-3.2,-0.9 0,-3.4 3.2,-0.9 3.2,3.0 -3.2,3.0" fill="#22b48c"/><polyline points="-3.6,-0.7 0,-3.6 3.6,-0.7" fill="none" stroke="#1c3030" stroke-width="0.8"/><rect x="-3.3" y="2.8" width="6.6" height="1.05" fill="#1c2626"/><text x="0.1" y="2.3" font-family="Liberation Sans" font-size="5.6" font-weight="bold" fill="#e6f6f0" text-anchor="middle">E</text></g>
<g transform="translate(231.8,202.0)"><polygon points="-3.2,-0.9 0,-3.4 3.2,-0.9 3.2,3.0 -3.2,3.0" fill="#22b48c"/><polyline points="-3.6,-0.7 0,-3.6 3.6,-0.7" fill="none" stroke="#1c3030" stroke-width="0.8"/><rect x="-3.3" y="2.8" width="6.6" height="1.05" fill="#1c2626"/><text x="0.1" y="2.3" font-family="Liberation Sans" font-size="5.6" font-weight="bold" fill="#e6f6f0" text-anchor="middle">E</text></g>
<g transform="translate(220.5,222.0)"><polygon points="-3.2,-0.9 0,-3.4 3.2,-0.9 3.2,3.0 -3.2,3.0" fill="#22b48c"/><polyline points="-3.6,-0.7 0,-3.6 3.6,-0.7" fill="none" stroke="#1c3030" stroke-width="0.8"/><rect x="-3.3" y="2.8" width="6.6" height="1.05" fill="#1c2626"/><text x="0.1" y="2.3" font-family="Liberation Sans" font-size="5.6" font-weight="bold" fill="#e6f6f0" text-anchor="middle">E</text></g>
<g transform="translate(183.7,244.4)"><polygon points="-3.2,-0.9 0,-3.4 3.2,-0.9 3.2,3.0 -3.2,3.0" fill="#22b48c"/><polyline points="-3.6,-0.7 0,-3.6 3.6,-0.7" fill="none" stroke="#1c3030" stroke-width="0.8"/><rect x="-3.3" y="2.8" width="6.6" height="1.05" fill="#1c2626"/><text x="0.1" y="2.3" font-family="Liberation Sans" font-size="5.6" font-weight="bold" fill="#e6f6f0" text-anchor="middle">E</text></g>
<clipPath id="c12"><polygon points="416.1,55.1 433.0,59.6 432.1,66.8 433.9,68.5 458.9,75.2 457.1,99.3 409.8,91.6 414.3,81.0 417.4,65.0"/></clipPath>
<polygon points="416.1,55.1 433.0,59.6 432.1,66.8 433.9,68.5 458.9,75.2 457.1,99.3 409.8,91.6 414.3,81.0 417.4,65.0" fill="#fce9d9"/>
<g clip-path="url(#c12)" stroke="#f0c288" fill="none" stroke-linecap="butt">
<g stroke-width="1.43">
<path d="M413.5 80.5L436.0 83.0M421.9 81.0L420.0 91.8M428.5 82.0L426.5 93.0M433.5 68.5L432.0 95.0M433.0 72.0L459.0 78.5M433.0 75.2L459.0 81.7M433.0 78.4L459.0 84.9M433.0 81.6L459.0 88.1M433.0 84.8L459.0 91.3M433.0 88.0L459.0 94.5M433.0 91.2L459.0 97.7M433.0 94.4L459.0 100.9M433.0 97.6L459.0 104.1M437.0 70.0L436.0 96.0M444.5 73.0L444.0 85.0M452.0 75.0L451.5 98.0M440.0 88.0L439.5 97.0M448.0 82.0L447.5 90.0"/>
</g>
</g>
<polygon points="416.1,55.1 433.0,59.6 432.1,66.8 433.9,68.5 458.9,75.2 457.1,99.3 409.8,91.6 414.3,81.0 417.4,65.0" fill="none" stroke="#f0c288" stroke-width="1.1"/>
<clipPath id="c13"><polygon points="409.8,91.6 457.1,99.3 452.8,133.9 424.5,146.2 405.8,152.2 405.6,149.8 424.5,143.6 414.2,137.8 410.3,131.3 404.5,118.5 405.8,106.9"/></clipPath>
<polygon points="409.8,91.6 457.1,99.3 452.8,133.9 424.5,146.2 405.8,152.2 405.6,149.8 424.5,143.6 414.2,137.8 410.3,131.3 404.5,118.5 405.8,106.9" fill="#33f8f5"/>
<g clip-path="url(#c13)" stroke="#10a8a8" fill="none" stroke-linecap="butt">
<g stroke-width="1.25">
<path d="M405.8 106.9L456.6 110.7M424.5 94.0L424.5 118.5M416.0 92.7L414.0 118.0M431.5 97.0L431.5 122.0M431.0 101.5L457.0 104.0M431.0 104.8L457.0 107.3M431.0 108.1L457.0 110.6M431.0 111.4L457.0 113.9M431.0 114.7L457.0 117.2M431.0 118.0L457.0 120.5M431.0 121.3L457.0 123.8M440.0 112.0L440.0 124.0M446.0 112.0L446.0 125.0M452.0 120.0L452.0 132.0M424.5 118.5L456.0 122.0M438.0 124.0L441.0 134.0"/>
</g>
</g>
<polygon points="409.8,91.6 457.1,99.3 452.8,133.9 424.5,146.2 405.8,152.2 405.6,149.8 424.5,143.6 414.2,137.8 410.3,131.3 404.5,118.5 405.8,106.9" fill="none" stroke="#10a8a8" stroke-width="1.0"/>
<clipPath id="c14"><polygon points="404.5,118.5 437.3,123.6 441.2,134.5 424.5,143.6 414.2,137.8 410.3,131.3"/></clipPath>
<polygon points="404.5,118.5 437.3,123.6 441.2,134.5 424.5,143.6 414.2,137.8 410.3,131.3" fill="#33f8f5"/>
<g clip-path="url(#c14)" stroke="#10a8a8" fill="none" stroke-linecap="butt">
<g stroke-width="1.25">
<path d="M421.5 141.0L421.6 140.2L421.8 139.5L422.1 138.8L422.6 138.1L423.1 137.6L423.8 137.1L424.5 136.8L425.2 136.6L426.0 136.5L426.8 136.6L427.5 136.8L428.2 137.1L428.9 137.6L429.4 138.1L429.9 138.8L430.2 139.5L430.4 140.2L430.5 141.0M417.5 141.0L417.6 139.5L418.0 138.1L418.6 136.8L419.5 135.5L420.5 134.5L421.8 133.6L423.1 133.0L424.5 132.6L426.0 132.5L427.5 132.6L428.9 133.0L430.2 133.6L431.5 134.5L432.5 135.5L433.4 136.8L434.0 138.1L434.4 139.5L434.5 141.0M413.5 141.0L413.7 138.8L414.3 136.7L415.2 134.8L416.4 133.0L418.0 131.4L419.8 130.2L421.7 129.3L423.8 128.7L426.0 128.5L428.2 128.7L430.3 129.3L432.2 130.2L434.0 131.4L435.6 133.0L436.8 134.8L437.7 136.7L438.3 138.8L438.5 141.0M409.5 141.0L409.8 138.1L410.5 135.4L411.7 132.8L413.4 130.4L415.4 128.4L417.8 126.7L420.4 125.5L423.1 124.8L426.0 124.5L428.9 124.8L431.6 125.5L434.2 126.7L436.6 128.4L438.6 130.4L440.3 132.8L441.5 135.4L442.2 138.1L442.5 141.0M405.5 141.0L405.8 137.4L406.7 134.0L408.2 130.8L410.3 127.8L412.8 125.3L415.8 123.2L419.0 121.7L422.4 120.8L426.0 120.5L429.6 120.8L433.0 121.7L436.2 123.2L439.2 125.3L441.7 127.8L443.8 130.8L445.3 134.0L446.2 137.4L446.5 141.0M401.5 141.0L401.9 136.7L403.0 132.6L404.8 128.8L407.2 125.3L410.3 122.2L413.8 119.8L417.6 118.0L421.7 116.9L426.0 116.5L430.3 116.9L434.4 118.0L438.2 119.8L441.7 122.2L444.8 125.3L447.2 128.8L449.0 132.6L450.1 136.7L450.5 141.0M423.0 140.5L396.5 135.8M423.6 139.2L402.4 122.5M424.8 138.3L413.8 113.6M426.2 138.0L428.1 111.1M427.6 138.5L441.9 115.6M428.6 139.5L452.0 126.0M429.0 140.9L456.0 140.0"/>
</g>
</g>
<polygon points="404.5,118.5 437.3,123.6 441.2,134.5 424.5,143.6 414.2,137.8 410.3,131.3" fill="none" stroke="#8a18f0" stroke-width="1.4"/>
<clipPath id="c15"><polygon points="405.8,152.2 424.5,146.2 441.2,137.0 452.8,134.2 459.8,133.3 460.5,135.8 457.9,137.8 451.5,140.3 447.6,145.5 448.3,155.0 447.6,162.7 442.5,171.7 456.0,185.2 446.3,201.3 434.7,197.5 420.0,218.1 405.8,215.5 409.7,202.6 414.2,189.7 419.3,173.7 423.2,169.8 406.4,155.0"/></clipPath>
<polygon points="405.8,152.2 424.5,146.2 441.2,137.0 452.8,134.2 459.8,133.3 460.5,135.8 457.9,137.8 451.5,140.3 447.6,145.5 448.3,155.0 447.6,162.7 442.5,171.7 456.0,185.2 446.3,201.3 434.7,197.5 420.0,218.1 405.8,215.5 409.7,202.6 414.2,189.7 419.3,173.7 423.2,169.8 406.4,155.0" fill="#9c52e4"/>
<g clip-path="url(#c15)" stroke="#6a1eb4" fill="none" stroke-linecap="butt">
<clipPath id="c16"><rect x="424" y="134" width="28" height="14"/></clipPath>
<g clip-path="url(#c16)" stroke-width="1.35">
<path d="M403.3 132.2L450.1 107.3M404.5 134.4L451.3 109.6M406.2 137.5L452.9 112.7M408.1 141.2L454.9 116.4M409.3 143.5L456.1 118.6M411.6 147.7L458.3 122.8M413.2 150.7L460.0 125.9M414.2 152.7L461.0 127.9M416.4 156.8L463.2 131.9M417.9 159.6L464.7 134.8M419.7 162.9L466.4 138.0M421.6 166.5L468.3 141.6M423.2 169.6L470.0 144.8M424.4 171.8L471.2 147.0M426.4 175.6L473.2 150.7M450.5 107.1L451.7 109.3M453.4 112.4L455.3 116.1M456.5 118.4L458.8 122.6M458.8 122.6L460.4 125.6M461.5 127.6L463.6 131.7M463.6 131.7L465.1 134.5M468.8 141.4L470.5 144.5M470.5 144.5L471.6 146.7M471.6 146.7L473.6 150.5M446.6 116.0L448.6 119.7M449.8 122.0L452.0 126.2M458.4 138.1L460.1 141.4M460.1 141.4L462.0 145.0M462.0 145.0L463.7 148.1M463.7 148.1L464.9 150.3M464.9 150.3L466.9 154.1M441.7 114.7L443.4 117.7M451.4 132.9L453.6 137.0M453.6 137.0L455.1 139.8M455.1 139.8L456.9 143.1M456.9 143.1L458.8 146.7M458.8 146.7L460.4 149.9M436.3 126.2L437.5 128.5M441.4 135.8L442.5 137.7M442.5 137.7L444.6 141.8M444.6 141.8L446.1 144.6M446.1 144.6L447.9 147.9M447.9 147.9L449.8 151.5M449.8 151.5L451.4 154.6M451.4 154.6L452.6 156.8M452.6 156.8L454.6 160.6M428.8 121.5L430.4 124.6M430.4 124.6L432.4 128.3M433.6 130.6L435.8 134.8M435.8 134.8L437.4 137.9M438.5 139.8L440.7 143.9M445.8 153.6L447.5 156.7M447.5 156.7L448.6 158.9M421.7 122.4L422.9 124.7M422.9 124.7L424.5 127.8M424.5 127.8L426.5 131.5M429.9 137.9L431.5 141.0M441.6 159.9L442.7 162.1M442.7 162.1L444.7 165.8M414.0 126.5L415.2 128.7M415.2 128.7L416.9 131.8M416.9 131.8L418.8 135.5M418.8 135.5L420.0 137.8M420.0 137.8L422.3 142.0M422.3 142.0L423.9 145.1M423.9 145.1L425.0 147.0M428.6 153.9L430.4 157.2M430.4 157.2L432.3 160.8M434.0 163.9L435.1 166.1M407.1 130.2L408.3 132.4M418.0 150.7L420.2 154.8M420.2 154.8L421.7 157.6M421.7 157.6L423.5 160.9M425.4 164.5L427.0 167.6M427.0 167.6L428.2 169.8M428.2 169.8L430.2 173.6M400.6 133.6L401.8 135.9M401.8 135.9L403.4 139.0M403.4 139.0L405.4 142.7M410.4 152.2L411.5 154.2M411.5 154.2L413.7 158.3M415.2 161.1L416.9 164.4M421.7 173.3L423.7 177.1"/>
</g>
<clipPath id="c17"><rect x="419" y="148" width="28" height="19"/></clipPath>
<g clip-path="url(#c17)" stroke-width="1.35">
<path d="M451.8 126.2L459.7 182.4M448.9 126.6L456.8 182.8M444.8 127.2L452.7 183.4M442.5 127.5L450.4 183.7M438.8 128.0L446.7 184.2M435.8 128.4L443.7 184.6M432.5 128.9L440.4 185.1M428.3 129.5L436.2 185.7M426.4 129.8L434.3 186.0M422.6 130.3L430.5 186.5M419.7 130.7L427.6 186.9M416.2 131.2L424.1 187.4M411.9 131.8L419.8 188.0M409.7 132.1L417.6 188.3M406.0 132.6L413.9 188.8M451.6 124.3L448.7 124.8M448.7 124.8L444.6 125.3M444.6 125.3L442.2 125.7M442.2 125.7L438.6 126.2M438.6 126.2L435.6 126.6M435.6 126.6L432.2 127.1M419.4 128.9L416.0 129.4M445.5 132.2L443.2 132.5M443.2 132.5L439.5 133.0M436.5 133.5L433.2 133.9M427.1 134.8L423.3 135.3M423.3 135.3L420.4 135.7M450.3 136.7L446.2 137.3M446.2 137.3L443.9 137.6M429.7 139.6L427.9 139.9M427.9 139.9L424.0 140.4M424.0 140.4L421.1 140.8M421.1 140.8L417.6 141.3M417.6 141.3L413.3 141.9M413.3 141.9L411.1 142.2M454.0 141.4L451.1 141.8M451.1 141.8L447.0 142.4M447.0 142.4L444.6 142.8M444.6 142.8L441.0 143.3M434.6 144.2L430.4 144.7M424.7 145.5L421.8 146.0M421.8 146.0L418.4 146.4M447.9 149.1L445.6 149.5M438.9 150.4L435.5 150.9M435.5 150.9L431.4 151.5M431.4 151.5L429.5 151.7M425.7 152.3L422.8 152.7M419.3 153.2L415.0 153.8M415.0 153.8L412.8 154.1M448.7 155.0L446.4 155.3M446.4 155.3L442.7 155.9M442.7 155.9L439.8 156.3M430.3 157.6L426.5 158.1M420.1 159.0L415.8 159.6M415.8 159.6L413.6 159.9M413.6 159.9L409.9 160.5M453.8 161.5L449.7 162.1M443.7 162.9L440.7 163.4M440.7 163.4L437.4 163.8M433.2 164.4L431.3 164.7M421.1 166.1L416.8 166.7M416.8 166.7L414.6 167.0M414.6 167.0L410.9 167.6M457.5 166.4L454.6 166.8M454.6 166.8L450.5 167.4M441.5 168.6L438.1 169.1M438.1 169.1L433.9 169.7M432.1 169.9L428.3 170.5M428.3 170.5L425.3 170.9M421.9 171.4L417.5 172.0M417.5 172.0L415.4 172.3M458.2 171.2L455.2 171.6M455.2 171.6L451.2 172.2M451.2 172.2L448.8 172.5M448.8 172.5L445.2 173.0M432.8 174.8L428.9 175.3M428.9 175.3L426.0 175.7M416.0 177.1L412.3 177.7M459.2 178.6L456.3 179.0M456.3 179.0L452.2 179.6M446.2 180.4L443.2 180.8M435.6 181.9L433.8 182.2M433.8 182.2L430.0 182.7M417.1 184.5L413.4 185.0M457.0 183.8L452.9 184.4M450.5 184.7L446.9 185.2M443.9 185.7L440.5 186.1M434.5 187.0L430.6 187.5M430.6 187.5L427.7 187.9M427.7 187.9L424.3 188.4"/>
</g>
<clipPath id="c18"><rect x="405" y="150" width="18" height="18"/></clipPath>
<g clip-path="url(#c18)" stroke-width="1.35">
<path d="M405.0 128.8L444.0 149.6M403.2 132.3L442.2 153.1M401.3 135.8L440.3 156.5M398.6 141.0L437.6 161.7M396.9 144.1L435.9 164.8M394.8 148.1L433.8 168.9M392.5 152.4L431.5 173.1M390.1 156.9L429.1 177.6M387.6 161.5L426.7 182.3M386.1 164.4L425.1 185.2M383.4 169.5L422.4 190.2M404.6 128.6L402.8 132.1M402.8 132.1L400.9 135.6M396.5 143.9L394.4 147.9M394.4 147.9L392.1 152.2M392.1 152.2L389.7 156.7M389.7 156.7L387.3 161.3M385.7 164.2L383.0 169.3M406.1 133.9L404.3 137.3M401.5 142.5L399.8 145.6M389.0 166.0L386.3 171.0M409.1 139.9L406.3 145.1M406.3 145.1L404.7 148.2M402.5 152.3L400.3 156.5M400.3 156.5L397.9 161.0M414.6 142.9L411.9 148.1M411.9 148.1L410.2 151.2M410.2 151.2L408.1 155.2M408.1 155.2L405.8 159.5M405.8 159.5L403.4 163.9M425.4 139.7L423.6 143.2M421.7 146.6L419.0 151.8M412.9 163.3L410.5 167.7M428.2 145.6L426.4 149.1M423.6 154.3L422.0 157.4M422.0 157.4L419.8 161.5M419.8 161.5L417.6 165.7M415.2 170.2L412.7 174.8M412.7 174.8L411.2 177.8M434.4 148.9L432.5 152.4M432.5 152.4L429.8 157.6M429.8 157.6L428.1 160.7M426.0 164.7L423.7 169.0M421.3 173.4L418.8 178.1M417.3 181.0L414.6 186.1M439.8 151.8L438.0 155.3M438.0 155.3L435.2 160.5M431.4 167.6L429.1 171.9M426.8 176.3L424.3 181.0M424.3 181.0L422.7 183.9M422.7 183.9L420.1 189.0M444.3 154.2L442.4 157.6M431.2 178.7L428.7 183.4M428.7 183.4L427.2 186.3M427.2 186.3L424.5 191.3"/>
</g>
<g stroke-width="1.35">
<path d="M424.7 168.6L455.6 184.8M421.0 162.0L447.0 166.0M419.0 148.0L445.0 152.0"/>
</g>
<clipPath id="c19"><rect x="406" y="172" width="36" height="46"/></clipPath>
<g clip-path="url(#c19)" stroke-width="1.35">
<path d="M410.2 136.6L484.0 194.3M407.5 140.0L481.3 197.7M404.6 143.8L478.4 201.4M403.0 145.8L476.8 203.5M400.6 148.9L474.4 206.6M397.0 153.5L470.8 211.1M395.1 156.0L468.9 213.6M392.5 159.4L466.2 217.0M389.3 163.4L463.1 221.0M387.5 165.7L461.3 223.3M384.0 170.2L457.8 227.8M382.0 172.8L455.7 230.4M379.9 175.4L453.7 233.0M376.2 180.1L450.0 237.7M374.1 182.9L447.9 240.5M372.1 185.3L445.9 243.0M368.6 189.9L442.3 247.5M366.1 193.1L439.8 250.8M363.5 196.4L437.3 254.0M418.4 143.0L415.7 146.4M415.7 146.4L412.8 150.2M412.8 150.2L411.2 152.2M411.2 152.2L408.8 155.3M405.2 159.9L403.3 162.4M403.3 162.4L400.6 165.7M400.6 165.7L397.5 169.8M397.5 169.8L395.7 172.0M395.7 172.0L392.2 176.6M392.2 176.6L390.1 179.2M390.1 179.2L388.1 181.8M388.1 181.8L384.4 186.5M382.3 189.2L380.3 191.7M380.3 191.7L376.7 196.3M376.7 196.3L374.2 199.5M374.2 199.5L371.7 202.8M419.9 149.7L417.0 153.5M415.4 155.5L413.0 158.6M407.5 165.7L404.9 169.0M404.9 169.0L401.7 173.1M399.9 175.3L396.4 179.9M394.4 182.5L392.3 185.1M392.3 185.1L388.6 189.8M388.6 189.8L386.5 192.5M386.5 192.5L384.5 195.0M384.5 195.0L381.0 199.6M418.9 154.9L417.3 157.0M417.3 157.0L414.9 160.0M411.3 164.6L409.3 167.1M409.3 167.1L406.7 170.5M403.5 174.5L401.8 176.8M398.3 181.3L396.2 183.9M394.2 186.5L390.5 191.2M390.5 191.2L388.3 194.0M388.3 194.0L386.4 196.5M382.8 201.0L380.3 204.2M380.3 204.2L377.8 207.5M427.2 155.4L424.2 159.1M424.2 159.1L422.6 161.2M422.6 161.2L420.2 164.2M420.2 164.2L416.7 168.8M414.7 171.3L412.1 174.7M412.1 174.7L408.9 178.7M408.9 178.7L407.1 181.0M403.6 185.5L401.6 188.1M391.8 200.7L388.2 205.2M432.8 154.3L430.2 157.7M430.2 157.7L427.3 161.5M427.3 161.5L425.7 163.5M425.7 163.5L423.3 166.6M423.3 166.6L419.7 171.2M419.7 171.2L417.7 173.7M415.1 177.0L411.9 181.1M411.9 181.1L410.2 183.3M406.6 187.9L404.6 190.5M398.9 197.8L396.7 200.5M396.7 200.5L394.8 203.0M388.7 210.8L386.2 214.1M433.1 160.0L430.2 163.7M430.2 163.7L428.6 165.8M428.6 165.8L426.2 168.9M422.6 173.5L420.7 175.9M418.0 179.3L414.9 183.4M413.1 185.6L409.6 190.1M409.6 190.1L407.5 192.8M407.5 192.8L405.5 195.4M397.7 205.3L394.1 209.9M394.1 209.9L391.6 213.1M391.6 213.1L389.1 216.3M440.0 160.0L437.4 163.4M434.5 167.1L432.9 169.1M430.4 172.2L426.9 176.8M422.3 182.7L419.1 186.7M419.1 186.7L417.4 189.0M413.8 193.5L411.8 196.1M395.9 216.4L393.4 219.7M443.2 162.4L440.5 165.8M437.6 169.5L436.0 171.6M436.0 171.6L433.6 174.7M425.4 185.1L422.3 189.1M420.5 191.4L417.0 195.9M417.0 195.9L414.9 198.5M409.2 205.9L407.1 208.6M407.1 208.6L405.1 211.1M405.1 211.1L401.5 215.7M401.5 215.7L399.0 218.9M399.0 218.9L396.5 222.1M447.4 165.7L444.7 169.1M444.7 169.1L441.8 172.8M441.8 172.8L440.2 174.9M437.8 177.9L434.2 182.5M434.2 182.5L432.2 185.0M432.2 185.0L429.6 188.4M429.6 188.4L426.5 192.4M419.1 201.8L417.1 204.4M413.4 209.1L411.2 211.9M409.3 214.4L405.7 218.9M405.7 218.9L403.2 222.1M451.1 168.6L448.4 172.0M448.4 172.0L445.5 175.7M436.0 187.9L433.3 191.3M428.4 197.6L424.9 202.1M424.9 202.1L422.8 204.7M420.8 207.3L417.1 212.1M413.0 217.3L409.5 221.8M409.5 221.8L407.0 225.1M407.0 225.1L404.4 228.3M451.7 174.6L448.8 178.3M448.8 178.3L447.2 180.3M447.2 180.3L444.8 183.4M444.8 183.4L441.2 188.0M441.2 188.0L439.3 190.5M439.3 190.5L436.6 193.9M431.7 200.2L428.2 204.7M428.2 204.7L426.1 207.3M426.1 207.3L424.1 209.9M418.3 217.4L416.3 219.9M416.3 219.9L412.8 224.4M412.8 224.4L410.3 227.6M410.3 227.6L407.7 230.9M457.2 173.4L454.6 176.8M450.1 182.6L447.6 185.7M447.6 185.7L444.1 190.2M444.1 190.2L442.1 192.7M442.1 192.7L439.5 196.1M439.5 196.1L436.3 200.1M436.3 200.1L434.6 202.4M434.6 202.4L431.0 206.9M429.0 209.5L426.9 212.1M421.1 219.6L419.2 222.1M419.2 222.1L415.6 226.7M415.6 226.7L413.1 229.9M413.1 229.9L410.6 233.1M461.4 176.6L458.7 180.0M458.7 180.0L455.8 183.8M448.2 193.5L446.3 196.0M446.3 196.0L443.6 199.3M438.7 205.7L435.2 210.2M433.1 212.8L431.1 215.4M431.1 215.4L427.4 220.1M423.3 225.3L419.8 229.9M419.8 229.9L417.3 233.1M464.8 179.3L462.2 182.7M459.3 186.5L457.7 188.5M455.3 191.6L451.7 196.2M447.1 202.0L443.9 206.1M438.7 212.9L436.6 215.5M436.6 215.5L434.6 218.1M434.6 218.1L430.9 222.8M428.7 225.5L426.8 228.0M426.8 228.0L423.2 232.6M423.2 232.6L420.7 235.8M420.7 235.8L418.2 239.1M469.3 182.8L466.6 186.2M463.7 189.9L462.1 192.0M462.1 192.0L459.7 195.1M456.1 199.6L454.2 202.1M454.2 202.1L451.5 205.5M448.4 209.6L446.6 211.8M446.6 211.8L443.1 216.3M433.2 229.0L431.2 231.5M431.2 231.5L427.7 236.1M427.7 236.1L425.2 239.3M473.2 185.9L470.6 189.3M470.6 189.3L467.7 193.0M466.1 195.1L463.6 198.2M458.1 205.2L455.5 208.6M455.5 208.6L452.3 212.6M452.3 212.6L450.6 214.9M447.0 219.4L445.0 222.0M439.3 229.4L437.1 232.1M429.1 242.4L426.6 245.6M476.6 188.5L473.9 191.9M473.9 191.9L471.0 195.6M467.0 200.8L463.4 205.3M463.4 205.3L461.5 207.8M461.5 207.8L458.8 211.2M448.3 224.7L446.3 227.3M446.3 227.3L442.6 232.0M442.6 232.0L440.5 234.7M438.5 237.2L435.0 241.8M435.0 241.8L432.5 245.0M432.5 245.0L429.9 248.2"/>
</g>
</g>
<polygon points="405.8,152.2 424.5,146.2 441.2,137.0 452.8,134.2 459.8,133.3 460.5,135.8 457.9,137.8 451.5,140.3 447.6,145.5 448.3,155.0 447.6,162.7 442.5,171.7 456.0,185.2 446.3,201.3 434.7,197.5 420.0,218.1 405.8,215.5 409.7,202.6 414.2,189.7 419.3,173.7 423.2,169.8 406.4,155.0" fill="none" stroke="#6a1eb4" stroke-width="1.1"/>
<polyline points="424.0,148.5 444.8,147.0 451.0,136.0" fill="none" stroke="#8a18f0" stroke-width="1.3"/>
<clipPath id="c20"><polygon points="405.8,215.5 420.0,218.1 434.7,197.5 446.3,201.3 436.6,217.3 423.7,238.2 420.5,252.7 419.7,268.9 418.0,273.7 409.2,270.5 397.9,249.5 399.5,247.1 405.2,246.3 403.5,241.5 404.4,237.4 411.6,230.0"/></clipPath>
<polygon points="405.8,215.5 420.0,218.1 434.7,197.5 446.3,201.3 436.6,217.3 423.7,238.2 420.5,252.7 419.7,268.9 418.0,273.7 409.2,270.5 397.9,249.5 399.5,247.1 405.2,246.3 403.5,241.5 404.4,237.4 411.6,230.0" fill="#ae504c"/>
<g clip-path="url(#c20)" stroke="#6a1c20" fill="none" stroke-linecap="butt">
<clipPath id="c21"><rect x="396" y="196" width="51" height="79"/></clipPath>
<g clip-path="url(#c21)" stroke-width="1.35">
<path d="M371.2 158.8L509.4 209.1M369.6 163.1L507.8 213.4M367.7 168.3L505.9 218.6M366.5 171.6L504.7 221.9M365.0 175.7L503.2 226.0M363.2 180.7L501.4 231.0M361.7 184.8L499.9 235.1M360.3 188.6L498.5 238.9M358.6 193.2L496.8 243.5M356.8 198.4L494.9 248.7M355.8 201.1L494.0 251.4M354.2 205.5L492.4 255.8M352.8 209.4L491.0 259.6M351.1 214.0L489.3 264.3M349.6 218.0L487.8 268.2M347.4 224.1L485.6 274.4M346.4 226.9L484.6 277.2M344.3 232.5L482.5 282.8M343.5 234.9L481.6 285.2M341.3 240.8L479.5 291.1M340.1 244.2L478.3 294.5M338.4 248.8L476.6 299.1M336.9 253.0L475.1 303.3M335.7 256.4L473.8 306.7M334.1 260.5L472.3 310.8M393.3 166.9L391.4 171.0M391.4 171.0L389.0 176.0M389.0 176.0L387.5 179.3M387.5 179.3L385.7 183.3M381.6 192.0L379.9 195.7M379.9 195.7L377.8 200.2M375.4 205.2L374.2 207.8M374.2 207.8L372.2 212.0M372.2 212.0L370.5 215.8M370.5 215.8L368.4 220.3M368.4 220.3L366.6 224.1M366.6 224.1L363.9 230.0M362.6 232.8L360.0 238.2M360.0 238.2L358.9 240.6M356.3 246.3L354.8 249.5M352.7 254.0L350.8 258.0M396.7 168.1L394.8 172.2M394.8 172.2L392.5 177.3M392.5 177.3L391.0 180.5M385.0 193.3L383.3 197.0M383.3 197.0L381.2 201.4M378.9 206.4L377.6 209.1M375.7 213.3L373.9 217.1M373.9 217.1L371.8 221.6M371.8 221.6L370.0 225.4M370.0 225.4L367.3 231.3M359.7 247.5L358.2 250.8M358.2 250.8L356.1 255.3M356.1 255.3L354.2 259.3M401.2 169.7L399.3 173.8M399.3 173.8L396.9 178.9M396.9 178.9L395.4 182.1M395.4 182.1L393.5 186.1M389.4 194.9L387.7 198.6M383.3 208.1L382.1 210.7M382.1 210.7L380.1 214.9M380.1 214.9L378.4 218.7M378.4 218.7L376.2 223.2M374.5 227.0L371.7 232.9M371.7 232.9L370.4 235.6M367.9 241.1L366.8 243.4M366.8 243.4L364.2 249.1M364.2 249.1L362.6 252.4M362.6 252.4L360.5 256.9M360.5 256.9L358.7 260.9M407.7 172.1L405.8 176.2M405.8 176.2L403.4 181.3M401.9 184.5L400.0 188.5M397.8 193.3L395.9 197.3M395.9 197.3L394.2 200.9M394.2 200.9L392.1 205.4M392.1 205.4L389.8 210.4M389.8 210.4L388.6 213.1M388.6 213.1L386.6 217.3M386.6 217.3L384.9 221.0M382.7 225.6L381.0 229.4M376.9 238.0L374.4 243.5M374.4 243.5L373.3 245.8M373.3 245.8L370.7 251.5M370.7 251.5L369.1 254.8M369.1 254.8L367.0 259.2M365.2 263.3L363.6 266.6M363.6 266.6L361.8 270.6M410.2 177.8L407.8 182.9M407.8 182.9L406.3 186.1M406.3 186.1L404.4 190.1M404.4 190.1L402.2 194.9M402.2 194.9L400.3 198.9M400.3 198.9L398.6 202.5M393.0 214.7L391.0 218.9M389.2 222.6L387.1 227.2M385.4 231.0L382.6 236.9M381.3 239.6L378.8 245.1M375.0 253.1L373.5 256.4M373.5 256.4L371.4 260.8M371.4 260.8L369.6 264.9M369.6 264.9L368.0 268.2M368.0 268.2L366.1 272.2M411.6 184.3L410.1 187.5M410.1 187.5L408.3 191.5M408.3 191.5L406.0 196.3M406.0 196.3L404.2 200.3M404.2 200.3L402.5 203.9M402.5 203.9L400.4 208.4M398.0 213.4L396.8 216.1M393.1 224.0L391.0 228.6M391.0 228.6L389.2 232.4M386.4 238.3L385.2 241.0M382.6 246.5L381.5 248.8M373.4 266.3L371.9 269.6M371.9 269.6L370.0 273.6M421.2 177.0L419.3 181.1M419.3 181.1L417.0 186.2M417.0 186.2L415.5 189.4M411.4 198.2L409.5 202.2M409.5 202.2L407.8 205.9M407.8 205.9L405.7 210.3M402.1 218.0L400.2 222.2M400.2 222.2L398.4 226.0M398.4 226.0L396.3 230.5M394.5 234.3L391.8 240.2M386.9 250.7L384.2 256.4M380.6 264.2L378.7 268.2M377.2 271.5L375.3 275.5M426.9 179.1L425.0 183.2M425.0 183.2L422.6 188.2M422.6 188.2L421.1 191.5M421.1 191.5L419.2 195.5M419.2 195.5L417.0 200.3M415.1 204.3L413.4 207.9M411.3 212.4L409.0 217.4M405.8 224.3L404.1 228.0M404.1 228.0L401.9 232.5M400.2 236.3L397.4 242.3M396.1 245.0L393.6 250.5M389.9 258.5L388.3 261.8M386.2 266.2L384.4 270.3M382.8 273.5L380.9 277.6M430.1 180.2L428.2 184.4M428.2 184.4L425.8 189.4M424.3 192.7L422.5 196.7M422.5 196.7L420.2 201.4M418.4 205.4L416.6 209.1M412.2 218.6L411.0 221.2M411.0 221.2L409.0 225.4M409.0 225.4L407.3 229.2M407.3 229.2L405.2 233.7M403.4 237.5L400.6 243.4M399.4 246.2L396.8 251.6M396.8 251.6L395.7 254.0M395.7 254.0L393.1 259.6M393.1 259.6L391.6 262.9M386.0 274.7L384.2 278.7M432.5 186.0L430.2 191.0M430.2 191.0L428.7 194.2M428.7 194.2L426.8 198.2M426.8 198.2L424.6 203.0M422.7 207.0L421.0 210.7M421.0 210.7L418.9 215.1M418.9 215.1L416.6 220.2M416.6 220.2L415.4 222.8M415.4 222.8L413.4 227.0M403.7 247.7L401.2 253.2M395.9 264.5L393.8 269.0M439.9 183.8L437.9 187.9M437.9 187.9L435.6 193.0M435.6 193.0L434.1 196.2M432.2 200.2L430.0 205.0M426.4 212.7L424.3 217.1M424.3 217.1L422.0 222.1M422.0 222.1L420.8 224.8M418.8 229.0L417.0 232.7M417.0 232.7L414.9 237.3M414.9 237.3L413.2 241.1M413.2 241.1L410.4 247.0M406.6 255.2L405.5 257.5M397.3 275.0L395.8 278.3M395.8 278.3L393.9 282.3M444.0 185.3L442.1 189.4M442.1 189.4L439.7 194.5M434.1 206.5L432.2 210.5M430.5 214.2L428.5 218.6M428.5 218.6L426.1 223.6M417.3 242.6L414.5 248.5M414.5 248.5L413.3 251.2M413.3 251.2L410.7 256.7M409.6 259.0L407.0 264.7M407.0 264.7L405.4 268.0M405.4 268.0L403.4 272.5M403.4 272.5L401.5 276.5M401.5 276.5L399.9 279.8M399.9 279.8L398.1 283.8M449.2 187.2L447.3 191.3M447.3 191.3L444.9 196.4M444.9 196.4L443.4 199.6M443.4 199.6L441.5 203.6M441.5 203.6L439.3 208.4M435.7 216.0L433.6 220.5M433.6 220.5L431.3 225.5M431.3 225.5L430.1 228.2M430.1 228.2L428.1 232.4M428.1 232.4L426.4 236.1M419.7 250.4L418.4 253.1M418.4 253.1L415.9 258.6M415.9 258.6L414.8 260.9M412.2 266.6L410.6 269.9M410.6 269.9L408.5 274.3M406.7 278.4L405.1 281.7M405.1 281.7L403.3 285.7M453.1 188.6L451.2 192.7M451.2 192.7L448.8 197.8M448.8 197.8L447.3 201.0M447.3 201.0L445.5 205.0M445.5 205.0L443.2 209.8M443.2 209.8L441.4 213.8M441.4 213.8L439.6 217.5M435.2 227.0L434.0 229.6M432.0 233.8L430.3 237.6M430.3 237.6L428.2 242.1M428.2 242.1L426.4 245.9M426.4 245.9L423.6 251.8M423.6 251.8L422.4 254.5M422.4 254.5L419.8 260.0M419.8 260.0L418.7 262.3M414.6 271.3L412.5 275.8M412.5 275.8L410.6 279.8M410.6 279.8L409.1 283.1M457.6 195.1L455.3 200.1M455.3 200.1L453.8 203.4M453.8 203.4L451.9 207.4M444.0 224.3L441.7 229.3M440.4 231.9L438.5 236.1M438.5 236.1L436.7 239.9M436.7 239.9L434.6 244.4M434.6 244.4L432.8 248.2M432.8 248.2L430.1 254.2M426.3 262.3L425.2 264.7M422.5 270.4L421.0 273.6M418.9 278.1L417.0 282.1M417.0 282.1L415.5 285.4M415.5 285.4L413.6 289.5M462.4 196.8L460.1 201.9M456.7 209.1L454.5 213.9M454.5 213.9L452.6 217.9M452.6 217.9L450.9 221.6M446.5 231.0L445.3 233.7M445.3 233.7L443.3 237.9M443.3 237.9L441.5 241.7M441.5 241.7L439.4 246.2M439.4 246.2L437.7 250.0M433.6 258.6L431.1 264.1M430.0 266.4L427.3 272.1M427.3 272.1L425.8 275.4M421.8 283.9L420.3 287.2M420.3 287.2L418.4 291.2M468.1 194.1L466.1 198.2M466.1 198.2L463.8 203.2M462.3 206.5L460.4 210.5M458.2 215.2L456.3 219.2M454.6 222.9L452.5 227.4M452.5 227.4L450.2 232.4M450.2 232.4L449.0 235.0M449.0 235.0L447.0 239.2M447.0 239.2L445.2 243.0M441.4 251.3L438.6 257.2M431.0 273.5L429.5 276.7M429.5 276.7L427.4 281.2M427.4 281.2L425.5 285.2M425.5 285.2L424.0 288.5M472.8 195.8L470.9 199.9M461.0 221.0L459.3 224.6M459.3 224.6L457.2 229.1M457.2 229.1L454.9 234.1M446.1 253.1L443.3 259.0M443.3 259.0L442.1 261.7M442.1 261.7L439.5 267.2M438.4 269.5L435.8 275.2M435.8 275.2L434.2 278.5M434.2 278.5L432.1 282.9M430.3 287.0L428.7 290.3M428.7 290.3L426.9 294.3M477.2 197.4L475.3 201.5M469.6 213.8L467.3 218.6M465.5 222.6L463.8 226.3M463.8 226.3L461.7 230.7M461.7 230.7L459.3 235.7M459.3 235.7L458.1 238.4M456.2 242.6L454.4 246.3M454.4 246.3L452.3 250.9M450.5 254.7L447.8 260.6M442.8 271.1L440.2 276.8M434.7 288.6L433.2 291.9M433.2 291.9L431.3 295.9M477.8 212.1L475.9 216.1M475.9 216.1L473.7 220.9M465.7 238.0L464.5 240.7M464.5 240.7L462.5 244.9M462.5 244.9L460.8 248.7M460.8 248.7L458.6 253.2M456.9 257.0L454.1 262.9M452.8 265.6L450.3 271.1M449.2 273.4L446.6 279.1M445.0 282.4L442.9 286.9M442.9 286.9L441.1 290.9M441.1 290.9L439.5 294.2M488.1 201.4L486.2 205.5M486.2 205.5L483.8 210.5M480.5 217.8L478.2 222.5M478.2 222.5L476.4 226.5M474.7 230.2L472.6 234.7M469.0 242.3L467.0 246.5M467.0 246.5L465.3 250.3M465.3 250.3L463.2 254.8M458.6 264.5L457.4 267.3M453.7 275.1L451.1 280.8M451.1 280.8L449.6 284.0M449.6 284.0L447.5 288.5M444.1 295.8L442.2 299.9M490.4 207.0L488.0 212.1M484.7 219.3L482.4 224.1M480.6 228.1L478.9 231.7M478.9 231.7L476.8 236.2M474.4 241.2L473.2 243.9M471.3 248.1L469.5 251.8M467.4 256.4L465.6 260.2M465.6 260.2L462.9 266.1M459.0 274.3L457.9 276.6M457.9 276.6L455.3 282.3M451.7 290.0L449.8 294.1M448.3 297.4L446.4 301.4M495.9 204.2L494.0 208.3M491.6 213.4L490.1 216.6M484.1 229.4L482.4 233.0M478.0 242.5L476.8 245.2M465.2 270.1L462.6 275.6M458.9 283.6L457.3 286.9M457.3 286.9L455.3 291.3M455.3 291.3L453.4 295.4M451.8 298.7L450.0 302.7"/>
</g>
</g>
<polygon points="405.8,215.5 420.0,218.1 434.7,197.5 446.3,201.3 436.6,217.3 423.7,238.2 420.5,252.7 419.7,268.9 418.0,273.7 409.2,270.5 397.9,249.5 399.5,247.1 405.2,246.3 403.5,241.5 404.4,237.4 411.6,230.0" fill="none" stroke="#6a1c20" stroke-width="1.1"/>
<polyline points="405.8,152.2 424.5,146.2" fill="none" stroke="#ff4a2a" stroke-width="0.9" stroke-dasharray="1.5,1"/>
<polyline points="452.8,134.2 459.8,133.3" fill="none" stroke="#ff4a2a" stroke-width="0.9" stroke-dasharray="1.5,1"/>
<g transform="translate(449.2,94.9)"><polygon points="-3.2,-0.9 0,-3.4 3.2,-0.9 3.2,3.0 -3.2,3.0" fill="#22b48c"/><polyline points="-3.6,-0.7 0,-3.6 3.6,-0.7" fill="none" stroke="#1c3030" stroke-width="0.8"/><rect x="-3.3" y="2.8" width="6.6" height="1.05" fill="#1c2626"/><text x="0.1" y="2.3" font-family="Liberation Sans" font-size="5.6" font-weight="bold" fill="#e6f6f0" text-anchor="middle">E</text></g>
<g transform="translate(416.7,109.1)"><polygon points="-3.2,-0.9 0,-3.4 3.2,-0.9 3.2,3.0 -3.2,3.0" fill="#22b48c"/><polyline points="-3.6,-0.7 0,-3.6 3.6,-0.7" fill="none" stroke="#1c3030" stroke-width="0.8"/><rect x="-3.3" y="2.8" width="6.6" height="1.05" fill="#1c2626"/><text x="0.1" y="2.3" font-family="Liberation Sans" font-size="5.6" font-weight="bold" fill="#e6f6f0" text-anchor="middle">E</text></g>
<g transform="translate(438.6,111.5)"><polygon points="-3.2,-0.9 0,-3.4 3.2,-0.9 3.2,3.0 -3.2,3.0" fill="#22b48c"/><polyline points="-3.6,-0.7 0,-3.6 3.6,-0.7" fill="none" stroke="#1c3030" stroke-width="0.8"/><rect x="-3.3" y="2.8" width="6.6" height="1.05" fill="#1c2626"/><text x="0.1" y="2.3" font-family="Liberation Sans" font-size="5.6" font-weight="bold" fill="#e6f6f0" text-anchor="middle">E</text></g>
<g transform="translate(437.6,113.4)"><polygon points="-3.2,-0.9 0,-3.4 3.2,-0.9 3.2,3.0 -3.2,3.0" fill="#22b48c"/><polyline points="-3.6,-0.7 0,-3.6 3.6,-0.7" fill="none" stroke="#1c3030" stroke-width="0.8"/><rect x="-3.3" y="2.8" width="6.6" height="1.05" fill="#1c2626"/><text x="0.1" y="2.3" font-family="Liberation Sans" font-size="5.6" font-weight="bold" fill="#e6f6f0" text-anchor="middle">E</text></g>
<g transform="translate(410.0,199.1)"><polygon points="-3.2,-0.9 0,-3.4 3.2,-0.9 3.2,3.0 -3.2,3.0" fill="#e8179a"/><polyline points="-3.6,-0.7 0,-3.6 3.6,-0.7" fill="none" stroke="#1c3030" stroke-width="0.8"/><rect x="-3.3" y="2.8" width="6.6" height="1.05" fill="#1c2626"/><text x="0.1" y="2.3" font-family="Liberation Sans" font-size="5.6" font-weight="bold" fill="#e6f6f0" text-anchor="middle">C</text></g>
<g transform="translate(396.0,247.1)"><polygon points="-3.2,-0.9 0,-3.4 3.2,-0.9 3.2,3.0 -3.2,3.0" fill="#22b48c"/><polyline points="-3.6,-0.7 0,-3.6 3.6,-0.7" fill="none" stroke="#1c3030" stroke-width="0.8"/><rect x="-3.3" y="2.8" width="6.6" height="1.05" fill="#1c2626"/><text x="0.1" y="2.3" font-family="Liberation Sans" font-size="5.6" font-weight="bold" fill="#e6f6f0" text-anchor="middle">E</text></g>
<clipPath id="c22"><polygon points="699.0,101.7 714.3,104.3 736.6,103.4 745.1,102.6 759.7,115.4 769.1,121.4 772.6,143.7 735.0,172.0 697.3,195.0 671.6,189.1 653.6,184.9 642.4,142.0 660.4,136.0 669.9,126.6 683.6,121.4 690.4,115.4"/></clipPath>
<polygon points="699.0,101.7 714.3,104.3 736.6,103.4 745.1,102.6 759.7,115.4 769.1,121.4 772.6,143.7 735.0,172.0 697.3,195.0 671.6,189.1 653.6,184.9 642.4,142.0 660.4,136.0 669.9,126.6 683.6,121.4 690.4,115.4" fill="#9c52e4"/>
<g clip-path="url(#c22)" stroke="#6a1eb4" fill="none" stroke-linecap="butt">
<g stroke-width="1.35">
<path d="M683.6 121.4L723.0 178.9M690.0 117.8L723.9 108.8M752.5 116.2L757.8 150.0L760.0 165.0M699.0 101.7L745.0 104.0M712.0 106.0L714.0 118.0L719.0 117.0L717.0 106.0M703.0 113.0L705.0 118.0L707.0 117.5L706.0 112.0M736.0 113.0L768.0 127.0M673.0 127.0L668.0 133.0L676.0 131.0"/>
</g>
<clipPath id="c23"><polygon points="718.0,105.0 745.0,104.0 752.0,116.0 748.0,120.0 724.0,110.0 718.0,109.0"/></clipPath>
<g clip-path="url(#c23)" stroke-width="1.35">
<path d="M754.8 77.7L763.5 139.5M752.6 78.0L761.3 139.8M750.3 78.4L759.0 140.1M748.0 78.7L756.7 140.4M746.1 79.0L754.7 140.7M743.9 79.3L752.6 141.0M741.7 79.6L750.3 141.3M739.3 79.9L747.9 141.7M737.3 80.2L746.0 141.9M734.9 80.5L743.6 142.3M732.8 80.8L741.4 142.6M730.8 81.1L739.5 142.9M728.5 81.4L737.1 143.2M726.3 81.7L735.0 143.5M724.2 82.0L732.8 143.8M721.7 82.4L730.4 144.1M719.9 82.6L728.6 144.4M717.8 82.9L726.5 144.7M715.2 83.3L723.9 145.0M713.3 83.6L722.0 145.3M711.2 83.9L719.9 145.6M708.9 84.2L717.6 145.9M706.8 84.5L715.4 146.2M742.4 53.1L740.3 53.4M733.7 54.3L731.3 54.7M731.3 54.7L729.1 55.0M722.7 55.9L720.5 56.2M711.6 57.5L709.6 57.7M750.2 77.8L747.9 78.1M747.9 78.1L746.0 78.4M743.8 78.7L741.6 79.0M741.6 79.0L739.2 79.4M717.7 82.4L715.1 82.7M715.1 82.7L713.2 83.0M713.2 83.0L711.1 83.3M745.8 108.8L743.4 109.1M739.0 109.7L736.9 110.0M736.9 110.0L734.9 110.3M734.9 110.3L732.6 110.6M730.4 110.9L728.3 111.2M725.8 111.6L724.0 111.8M724.0 111.8L721.9 112.1M717.4 112.8L715.3 113.1M745.9 141.3L743.5 141.6M743.5 141.6L741.4 141.9M730.3 143.5L728.5 143.7M726.4 144.0L723.8 144.4M721.9 144.7L719.8 144.9M760.7 169.3L758.8 169.5M752.0 170.5L750.1 170.8M743.5 171.7L741.2 172.0M730.5 173.5L727.9 173.9M727.9 173.9L726.0 174.1"/>
</g>
<clipPath id="c24"><polygon points="748.0,121.0 770.0,126.0 772.0,143.0 758.0,140.0 752.0,128.0"/></clipPath>
<g clip-path="url(#c24)" stroke-width="1.35">
<path d="M751.0 97.0L795.9 128.5M749.3 99.4L794.2 130.9M747.8 101.6L792.8 133.0M746.4 103.7L791.3 135.1M744.9 105.7L789.8 137.2M743.4 107.9L788.3 139.4M742.2 109.7L787.1 141.1M740.5 112.1L785.4 143.5M739.1 114.0L784.0 145.5M737.5 116.4L782.4 147.8M736.1 118.4L781.0 149.8M734.5 120.6L779.5 152.0M733.1 122.7L778.0 154.1M731.6 124.8L776.5 156.3M730.0 127.1L774.9 158.5M728.4 129.3L773.4 160.7M727.1 131.1L772.1 162.6M725.5 133.4L770.4 164.9M724.0 135.6L768.9 167.1M738.8 88.5L737.1 90.9M735.7 93.0L734.2 95.1M734.2 95.1L732.7 97.2M732.7 97.2L731.2 99.4M731.2 99.4L730.0 101.1M730.0 101.1L728.3 103.5M728.3 103.5L726.9 105.5M726.9 105.5L725.3 107.8M720.9 114.1L719.4 116.3M719.4 116.3L717.8 118.5M715.0 122.6L713.3 124.9M749.7 96.1L748.0 98.5M746.5 100.6L745.0 102.7M745.0 102.7L743.6 104.8M743.6 104.8L742.1 107.0M739.1 111.1L737.8 113.1M736.1 115.4L734.7 117.4M734.7 117.4L733.2 119.6M733.2 119.6L731.7 121.7M731.7 121.7L730.2 123.9M727.1 128.3L725.8 130.2M724.2 132.5L722.7 134.7M760.3 107.1L758.8 109.3M758.8 109.3L757.3 111.4M757.3 111.4L755.9 113.4M753.1 117.4L751.5 119.8M750.1 121.7L748.5 124.1M745.5 128.3L744.0 130.4M742.5 132.5L741.0 134.8M738.1 138.8L736.5 141.1M774.1 113.2L772.4 115.6M770.9 117.7L769.4 119.8M768.0 121.9L766.5 124.1M766.5 124.1L765.2 125.8M765.2 125.8L763.6 128.2M757.6 136.7L756.1 138.8M750.2 147.3L748.6 149.6M783.3 123.2L781.8 125.4M767.0 146.5L765.5 148.6M795.7 128.3L794.0 130.7M792.5 132.8L791.0 135.0M785.2 143.3L783.8 145.3M783.8 145.3L782.1 147.7M782.1 147.7L780.7 149.7M779.2 151.8L777.7 154.0M805.2 141.7L803.7 143.8M802.2 145.9L800.7 148.1M796.4 154.2L794.8 156.5M790.4 162.8L788.9 165.0M788.9 165.0L787.3 167.2M784.5 171.3L782.9 173.6M782.9 173.6L781.3 175.8"/>
</g>
<clipPath id="c25"><polygon points="740.0,113.0 752.0,118.0 753.0,128.0 745.0,126.0"/></clipPath>
<g clip-path="url(#c25)" stroke-width="1.35">
<path d="M724.7 112.8L758.3 100.5M725.4 114.8L759.0 102.5M726.7 118.3L760.3 106.1M727.8 121.5L761.4 109.2M728.8 124.3L762.5 112.0M729.7 126.6L763.3 114.4M730.8 129.6L764.4 117.4M731.7 132.1L765.3 119.8M732.8 135.1L766.4 122.9M733.6 137.3L767.2 125.1M734.9 141.0L768.5 128.7M760.0 99.9L760.7 101.9M760.7 101.9L762.0 105.5M764.2 111.4L765.1 113.8M766.2 116.7L767.0 119.2M767.0 119.2L768.1 122.2M768.1 122.2L769.0 124.5M758.1 106.9L759.2 110.0M764.2 123.7L765.0 125.9M751.1 103.1L751.9 105.1M751.9 105.1L753.2 108.7M754.3 111.8L755.3 114.6M755.3 114.6L756.2 117.0M757.3 120.0L758.2 122.4M759.3 125.5L760.1 127.7M745.6 105.2L746.3 107.1M746.3 107.1L747.6 110.7M748.8 113.8L749.8 116.6M749.8 116.6L750.7 119.0M751.7 122.0L752.6 124.4M753.7 127.5L754.5 129.7M742.3 108.6L743.6 112.2M743.6 112.2L744.8 115.3M745.8 118.1L746.6 120.5M748.6 125.9L749.7 128.9M749.7 128.9L750.5 131.2M735.7 108.8L736.4 110.8M737.7 114.3L738.8 117.4M738.8 117.4L739.9 120.3M739.9 120.3L740.7 122.6M741.8 125.6L742.7 128.1M731.7 112.5L733.0 116.0M735.1 122.0L736.0 124.3M738.0 129.8L739.1 132.8M739.9 135.0L741.2 138.7M726.6 112.1L727.3 114.1M727.3 114.1L728.6 117.6M729.7 120.8L730.8 123.6M731.6 125.9L732.7 128.9M732.7 128.9L733.6 131.4M727.8 124.6L728.7 127.0M728.7 127.0L729.8 130.0M729.8 130.0L730.7 132.4"/>
</g>
</g>
<polygon points="699.0,101.7 714.3,104.3 736.6,103.4 745.1,102.6 759.7,115.4 769.1,121.4 772.6,143.7 735.0,172.0 697.3,195.0 671.6,189.1 653.6,184.9 642.4,142.0 660.4,136.0 669.9,126.6 683.6,121.4 690.4,115.4" fill="none" stroke="#6a1eb4" stroke-width="1.2"/>
<clipPath id="c26"><polygon points="698.9,101.7 703.0,94.0 709.8,88.4 729.8,83.6 731.0,80.4 740.0,79.8 745.1,102.6 736.6,103.4 724.6,106.0 714.3,104.3"/></clipPath>
<polygon points="698.9,101.7 703.0,94.0 709.8,88.4 729.8,83.6 731.0,80.4 740.0,79.8 745.1,102.6 736.6,103.4 724.6,106.0 714.3,104.3" fill="#fce9d9"/>
<g clip-path="url(#c26)" stroke="#f0c288" fill="none" stroke-linecap="butt">
<clipPath id="c27"><rect x="698" y="78" width="48" height="28"/></clipPath>
<g clip-path="url(#c27)" stroke-width="1.62">
<path d="M704.5 37.0L779.4 85.7M702.6 39.8L777.5 88.5M700.8 42.6L775.7 91.3M698.8 45.7L773.7 94.4M697.1 48.3L772.1 97.0M695.2 51.2L770.2 99.8M693.7 53.6L768.6 102.3M691.7 56.6L766.7 105.3M689.8 59.6L764.7 108.2M688.1 62.1L763.1 110.8M686.2 65.1L761.1 113.8M684.4 67.9L759.3 116.5M682.8 70.4L757.7 119.0M681.1 72.9L756.1 121.6M679.0 76.1L754.0 124.8M677.5 78.5L752.4 127.2M675.7 81.2L750.7 129.9M673.7 84.4L748.6 133.1M671.8 87.2L746.8 135.9M670.0 90.0L745.0 138.7M668.2 92.8L743.1 141.5M666.7 95.2L741.6 143.8M664.9 97.9L739.8 146.5M708.8 39.8L707.0 42.7M707.0 42.7L705.1 45.5M703.1 48.6L701.5 51.1M699.6 54.0L698.0 56.4M694.1 62.4L692.5 65.0M692.5 65.0L690.5 68.0M690.5 68.0L688.7 70.7M688.7 70.7L687.1 73.2M687.1 73.2L685.5 75.7M685.5 75.7L683.4 78.9M683.4 78.9L681.8 81.4M681.8 81.4L680.1 84.1M680.1 84.1L678.0 87.2M678.0 87.2L676.2 90.1M676.2 90.1L674.4 92.8M674.4 92.8L672.5 95.7M672.5 95.7L671.0 98.0M671.0 98.0L669.3 100.7M715.2 44.0L713.3 46.8M713.3 46.8L711.5 49.6M709.5 52.7L707.8 55.3M706.0 58.2L704.4 60.6M704.4 60.6L702.5 63.6M698.9 69.1L696.9 72.1M696.9 72.1L695.1 74.8M695.1 74.8L693.5 77.3M693.5 77.3L691.8 79.9M691.8 79.9L689.8 83.1M689.8 83.1L688.2 85.5M688.2 85.5L686.5 88.2M684.4 91.4L682.6 94.2M682.6 94.2L680.8 97.0M680.8 97.0L678.9 99.8M678.9 99.8L677.4 102.1M719.7 46.9L717.8 49.7M717.8 49.7L716.0 52.5M716.0 52.5L714.0 55.6M712.4 58.2L710.5 61.1M710.5 61.1L708.9 63.5M707.0 66.5L705.0 69.5M705.0 69.5L703.4 72.0M703.4 72.0L701.4 75.0M701.4 75.0L699.6 77.8M699.6 77.8L698.0 80.3M698.0 80.3L696.4 82.8M692.7 88.4L691.0 91.1M691.0 91.1L688.9 94.3M688.9 94.3L687.1 97.1M685.3 99.9L683.4 102.7M683.4 102.7L681.9 105.1M681.9 105.1L680.2 107.8M725.2 50.5L723.4 53.3M723.4 53.3L721.5 56.1M721.5 56.1L719.5 59.2M717.9 61.8L716.0 64.7M712.5 70.1L710.5 73.0M710.5 73.0L708.9 75.6M708.9 75.6L706.9 78.6M705.1 81.3L703.5 83.8M703.5 83.8L701.9 86.4M701.9 86.4L699.8 89.6M696.5 94.7L694.4 97.9M694.4 97.9L692.6 100.7M692.6 100.7L690.8 103.5M690.8 103.5L688.9 106.3M688.9 106.3L687.4 108.6M730.5 53.9L728.7 56.7M728.7 56.7L726.8 59.6M726.8 59.6L724.8 62.7M724.8 62.7L723.2 65.2M723.2 65.2L721.3 68.1M721.3 68.1L719.7 70.5M719.7 70.5L717.8 73.5M717.8 73.5L715.8 76.5M714.2 79.1L712.2 82.1M712.2 82.1L710.4 84.8M710.4 84.8L708.8 87.3M708.8 87.3L707.2 89.8M707.2 89.8L705.1 93.0M705.1 93.0L703.5 95.4M703.5 95.4L701.8 98.1M701.8 98.1L699.7 101.3M699.7 101.3L697.9 104.1M697.9 104.1L696.1 106.9M696.1 106.9L694.2 109.7M694.2 109.7L692.7 112.1M692.7 112.1L691.0 114.8M734.1 60.3L732.3 63.1M732.3 63.1L730.3 66.2M730.3 66.2L728.6 68.8M728.6 68.8L726.8 71.7M726.8 71.7L725.2 74.1M725.2 74.1L723.2 77.1M723.2 77.1L721.3 80.0M721.3 80.0L719.6 82.6M719.6 82.6L717.7 85.6M717.7 85.6L715.9 88.4M715.9 88.4L714.3 90.8M712.6 93.4L710.6 96.6M709.0 99.0L707.2 101.7M707.2 101.7L705.2 104.9M705.2 104.9L703.4 107.7M703.4 107.7L701.6 110.5M701.6 110.5L699.7 113.3M699.7 113.3L698.2 115.7M698.2 115.7L696.4 118.4M739.6 63.8L737.7 66.7M737.7 66.7L735.7 69.8M735.7 69.8L734.1 72.3M734.1 72.3L732.2 75.2M730.6 77.6L728.7 80.6M728.7 80.6L726.8 83.6M726.8 83.6L725.1 86.2M725.1 86.2L723.1 89.2M723.1 89.2L721.4 91.9M719.7 94.4L718.1 96.9M718.1 96.9L716.0 100.1M712.7 105.2L710.6 108.4M708.8 111.2L707.0 114.0M707.0 114.0L705.2 116.8M705.2 116.8L703.6 119.2M703.6 119.2L701.9 121.9M747.2 64.8L745.4 67.6M745.4 67.6L743.5 70.4M743.5 70.4L741.5 73.5M741.5 73.5L739.9 76.1M739.9 76.1L738.0 79.0M738.0 79.0L736.4 81.4M736.4 81.4L734.5 84.4M734.5 84.4L732.6 87.3M732.6 87.3L730.9 89.9M730.9 89.9L728.9 92.9M728.9 92.9L727.2 95.6M727.2 95.6L725.5 98.1M725.5 98.1L723.9 100.7M723.9 100.7L721.8 103.9M721.8 103.9L720.2 106.3M720.2 106.3L718.5 109.0M716.4 112.2L714.6 115.0M714.6 115.0L712.8 117.8M712.8 117.8L711.0 120.6M711.0 120.6L709.4 122.9M709.4 122.9L707.7 125.6M752.5 68.2L750.6 71.0M750.6 71.0L748.8 73.8M748.8 73.8L746.8 76.9M745.1 79.5L743.2 82.4M741.7 84.8L739.7 87.8M739.7 87.8L737.8 90.7M737.8 90.7L736.1 93.3M736.1 93.3L734.2 96.3M734.2 96.3L732.4 99.1M730.8 101.5L729.1 104.1M729.1 104.1L727.1 107.3M727.1 107.3L725.5 109.7M725.5 109.7L723.7 112.4M723.7 112.4L721.7 115.6M719.8 118.4L718.0 121.2M718.0 121.2L716.2 124.0M716.2 124.0L714.7 126.4M714.7 126.4L712.9 129.1M756.2 74.7L754.4 77.5M754.4 77.5L752.4 80.6M752.4 80.6L750.7 83.1M750.7 83.1L748.9 86.0M748.9 86.0L747.3 88.4M747.3 88.4L745.3 91.4M743.4 94.4L741.7 97.0M741.7 97.0L739.8 100.0M739.8 100.0L738.0 102.7M738.0 102.7L736.4 105.2M736.4 105.2L734.7 107.7M734.7 107.7L732.7 110.9M732.7 110.9L731.1 113.3M731.1 113.3L729.3 116.1M729.3 116.1L727.3 119.2M727.3 119.2L725.4 122.0M725.4 122.0L723.6 124.8M723.6 124.8L721.8 127.6M721.8 127.6L720.3 130.0M720.3 130.0L718.5 132.7M764.2 75.8L762.3 78.6M762.3 78.6L760.5 81.4M760.5 81.4L758.5 84.5M758.5 84.5L756.9 87.1M756.9 87.1L755.0 90.0M755.0 90.0L753.4 92.4M753.4 92.4L751.5 95.4M751.5 95.4L749.5 98.4M749.5 98.4L747.9 100.9M747.9 100.9L745.9 103.9M745.9 103.9L744.1 106.7M744.1 106.7L742.5 109.2M742.5 109.2L740.9 111.7M740.9 111.7L738.8 114.9M738.8 114.9L737.2 117.3M737.2 117.3L735.5 120.0M735.5 120.0L733.4 123.2M731.6 126.0L729.8 128.8M729.8 128.8L727.9 131.6M727.9 131.6L726.4 134.0M765.1 84.4L763.1 87.5M761.5 90.1L759.6 93.0M759.6 93.0L758.0 95.4M758.0 95.4L756.1 98.4M756.1 98.4L754.2 101.4M754.2 101.4L752.5 103.9M752.5 103.9L750.5 106.9M750.5 106.9L748.8 109.7M748.8 109.7L747.1 112.2M747.1 112.2L745.5 114.7M745.5 114.7L743.4 117.9M743.4 117.9L741.8 120.3M741.8 120.3L740.1 123.0M740.1 123.0L738.0 126.2M738.0 126.2L736.2 129.0M734.4 131.8L732.6 134.6M732.6 134.6L731.0 137.0M731.0 137.0L729.3 139.7M775.0 82.8L773.1 85.6M773.1 85.6L771.3 88.4M771.3 88.4L769.3 91.5M769.3 91.5L767.6 94.1M767.6 94.1L765.8 97.0M765.8 97.0L764.2 99.4M764.2 99.4L762.2 102.4M762.2 102.4L760.3 105.4M760.3 105.4L758.6 107.9M758.6 107.9L756.7 110.9M756.7 110.9L754.9 113.7M754.9 113.7L753.3 116.2M753.3 116.2L751.6 118.7M751.6 118.7L749.6 121.9M749.6 121.9L748.0 124.3M742.3 133.0L740.6 135.8M740.6 135.8L738.7 138.6M738.7 138.6L737.2 141.0M737.2 141.0L735.4 143.7"/>
</g>
</g>
<polygon points="698.9,101.7 703.0,94.0 709.8,88.4 729.8,83.6 731.0,80.4 740.0,79.8 745.1,102.6 736.6,103.4 724.6,106.0 714.3,104.3" fill="none" stroke="#f0c288" stroke-width="1.0"/>
<clipPath id="c28"><polygon points="740.0,80.3 769.5,76.9 775.0,74.8 786.0,74.8 790.1,80.3 793.6,90.6 792.9,101.6 758.0,103.4 759.7,115.4 745.1,102.6"/></clipPath>
<polygon points="740.0,80.3 769.5,76.9 775.0,74.8 786.0,74.8 790.1,80.3 793.6,90.6 792.9,101.6 758.0,103.4 759.7,115.4 745.1,102.6" fill="#33f8f5"/>
<g clip-path="url(#c28)" stroke="#10a8a8" fill="none" stroke-linecap="butt">
<g stroke-width="1.25">
<path d="M741.0 84.0L748.0 83.0L755.0 85.0L763.0 84.0M742.0 88.5L750.0 88.0L757.0 89.5L764.0 88.0M743.0 93.0L751.0 92.5L758.0 94.0L765.0 93.0M744.0 97.5L752.0 97.0L759.0 98.5L765.0 97.5M763.0 80.0L759.0 88.0L761.0 103.0M770.0 77.0L767.0 90.0L766.0 103.0M778.0 75.0L774.0 90.0M786.0 75.0L782.0 86.0L790.0 96.0M766.0 90.0L792.0 91.0M773.0 80.0L790.0 82.0M778.0 91.0L780.0 103.0M785.0 91.0L786.0 103.0M768.0 96.0L778.0 96.0M770.0 85.0L777.0 85.0"/>
</g>
<clipPath id="c29"><polygon points="767.0,92.0 775.0,92.0 775.0,103.0 767.0,103.0"/></clipPath>
<g clip-path="url(#c29)" stroke-width="1.25">
<path d="M783.0 84.3L783.0 110.7M780.5 84.3L780.5 110.7M778.0 84.3L778.0 110.7M775.9 84.3L775.9 110.7M773.3 84.3L773.3 110.7M770.8 84.3L770.8 110.7M768.4 84.3L768.4 110.7M766.4 84.3L766.4 110.7M763.7 84.3L763.7 110.7M761.3 84.3L761.3 110.7M759.0 84.3L759.0 110.7M780.5 40.3L778.0 40.3M780.5 67.7L778.0 67.7M766.4 67.7L763.7 67.7M770.8 97.2L768.4 97.2M768.4 130.2L766.4 130.2M778.0 158.3L775.9 158.3"/>
</g>
</g>
<polygon points="740.0,80.3 769.5,76.9 775.0,74.8 786.0,74.8 790.1,80.3 793.6,90.6 792.9,101.6 758.0,103.4 759.7,115.4 745.1,102.6" fill="none" stroke="#10a8a8" stroke-width="1.1"/>
<clipPath id="c30"><polygon points="758.0,103.4 792.3,102.6 794.9,126.6 772.6,143.7 769.1,121.4 759.7,115.4"/></clipPath>
<polygon points="758.0,103.4 792.3,102.6 794.9,126.6 772.6,143.7 769.1,121.4 759.7,115.4" fill="#ae504c"/>
<g clip-path="url(#c30)" stroke="#6a1c20" fill="none" stroke-linecap="butt">
<g stroke-width="1.35">
<path d="M770.0 103.0L770.0 121.0L772.0 143.0M760.0 110.0L792.0 108.0M777.0 103.0L777.0 140.0M770.0 116.0L794.0 114.0M784.0 104.0L786.0 118.0M770.0 124.0L790.0 124.0M780.0 118.0L788.0 128.0L784.0 134.0M774.0 131.0L782.0 131.0M777.0 136.0L790.0 130.0M786.0 104.0L792.0 112.0M762.0 107.0L769.0 113.0"/>
</g>
<clipPath id="c31"><polygon points="770.0,104.0 777.0,104.0 777.0,140.0 771.0,140.0"/></clipPath>
<g clip-path="url(#c31)" stroke-width="1.35">
<path d="M743.0 98.6L804.0 98.6M743.0 101.3L804.0 101.3M743.0 104.2L804.0 104.2M743.0 106.9L804.0 106.9M743.0 109.5L804.0 109.5M743.0 111.4L804.0 111.4M743.0 114.8L804.0 114.8M743.0 116.7L804.0 116.7M743.0 119.1L804.0 119.1M743.0 121.5L804.0 121.5M743.0 124.6L804.0 124.6M743.0 126.8L804.0 126.8M743.0 129.5L804.0 129.5M743.0 132.5L804.0 132.5M743.0 135.4L804.0 135.4M743.0 137.9L804.0 137.9M743.0 139.7L804.0 139.7M743.0 142.2L804.0 142.2M743.0 145.1L804.0 145.1M803.3 106.9L803.3 109.5M803.3 109.5L803.3 111.4M803.3 111.4L803.3 114.8M803.3 114.8L803.3 116.7M803.3 116.7L803.3 119.1M803.3 119.1L803.3 121.5M803.3 121.5L803.3 124.6M803.3 129.5L803.3 132.5M803.3 135.4L803.3 137.9M796.5 106.9L796.5 109.5M796.5 111.4L796.5 114.8M796.5 114.8L796.5 116.7M796.5 121.5L796.5 124.6M796.5 124.6L796.5 126.8M796.5 126.8L796.5 129.5M796.5 135.4L796.5 137.9M796.5 139.7L796.5 142.2M796.5 142.2L796.5 145.1M790.6 111.4L790.6 114.8M790.6 119.1L790.6 121.5M790.6 126.8L790.6 129.5M790.6 135.4L790.6 137.9M784.2 98.6L784.2 101.3M784.2 129.5L784.2 132.5M784.2 132.5L784.2 135.4M784.2 135.4L784.2 137.9M784.2 139.7L784.2 142.2M779.2 104.2L779.2 106.9M779.2 111.4L779.2 114.8M779.2 121.5L779.2 124.6M779.2 124.6L779.2 126.8M779.2 135.4L779.2 137.9M773.1 101.3L773.1 104.2M773.1 114.8L773.1 116.7M773.1 119.1L773.1 121.5M773.1 129.5L773.1 132.5M773.1 132.5L773.1 135.4M773.1 135.4L773.1 137.9M773.1 139.7L773.1 142.2M773.1 142.2L773.1 145.1M768.1 98.6L768.1 101.3M768.1 121.5L768.1 124.6M768.1 126.8L768.1 129.5M768.1 139.7L768.1 142.2M762.1 109.5L762.1 111.4M762.1 111.4L762.1 114.8M762.1 116.7L762.1 119.1M762.1 119.1L762.1 121.5M762.1 121.5L762.1 124.6M762.1 129.5L762.1 132.5M762.1 135.4L762.1 137.9M762.1 139.7L762.1 142.2M756.4 98.6L756.4 101.3M756.4 106.9L756.4 109.5M756.4 114.8L756.4 116.7M756.4 126.8L756.4 129.5M756.4 129.5L756.4 132.5M756.4 132.5L756.4 135.4M756.4 137.9L756.4 139.7M756.4 139.7L756.4 142.2M749.4 98.6L749.4 101.3M749.4 106.9L749.4 109.5M749.4 114.8L749.4 116.7M749.4 121.5L749.4 124.6M749.4 124.6L749.4 126.8M749.4 129.5L749.4 132.5M749.4 132.5L749.4 135.4M749.4 135.4L749.4 137.9M749.4 142.2L749.4 145.1M743.2 98.6L743.2 101.3M743.2 101.3L743.2 104.2M743.2 111.4L743.2 114.8M743.2 124.6L743.2 126.8M743.2 129.5L743.2 132.5M743.2 132.5L743.2 135.4M743.2 137.9L743.2 139.7M743.2 142.2L743.2 145.1"/>
</g>
</g>
<polygon points="758.0,103.4 792.3,102.6 794.9,126.6 772.6,143.7 769.1,121.4 759.7,115.4" fill="none" stroke="#6a1c20" stroke-width="1.1"/>
<clipPath id="c32"><polygon points="794.9,126.6 795.2,128.0 794.0,139.4 797.6,149.0 798.8,155.0 803.6,159.8 804.2,167.6 797.0,171.2 791.0,170.6 785.0,174.2 784.4,186.2 777.8,195.0 770.5,202.1 764.3,208.4 759.3,215.8 755.5,223.3 758.0,232.0 749.3,239.4 734.4,251.9 735.0,252.7 720.0,258.5 708.3,265.8 696.6,266.5 682.0,264.3 670.4,268.0 657.3,261.4 652.9,253.4 644.2,255.6 620.8,252.7 620.8,242.5 697.3,195.0 735.0,172.0 772.6,143.7"/></clipPath>
<polygon points="794.9,126.6 795.2,128.0 794.0,139.4 797.6,149.0 798.8,155.0 803.6,159.8 804.2,167.6 797.0,171.2 791.0,170.6 785.0,174.2 784.4,186.2 777.8,195.0 770.5,202.1 764.3,208.4 759.3,215.8 755.5,223.3 758.0,232.0 749.3,239.4 734.4,251.9 735.0,252.7 720.0,258.5 708.3,265.8 696.6,266.5 682.0,264.3 670.4,268.0 657.3,261.4 652.9,253.4 644.2,255.6 620.8,252.7 620.8,242.5 697.3,195.0 735.0,172.0 772.6,143.7" fill="#78adad"/>
<g clip-path="url(#c32)" stroke="#467a7a" fill="none" stroke-linecap="butt">
<g stroke-width="1.2">
<path d="M621.6 244.7L699.6 198.0L773.0 145.4L791.0 132.2M692.3 204.6L709.8 235.2L670.4 258.5L658.7 251.2M658.7 251.2L696.6 227.2L714.0 219.2M670.4 258.5L676.2 266.5M674.8 258.5L680.0 264.3M723.6 182.0L757.2 231.2M755.0 167.0L769.4 170.6L774.2 164.6M774.2 165.8L776.0 160.0M779.0 161.0L783.8 163.4L780.8 166.4M768.2 170.6L770.6 177.8L777.8 180.2M779.0 164.6L780.8 173.0L783.8 181.4L781.4 191.0M777.8 181.4L779.0 191.0M776.6 141.0L791.0 137.0L794.0 142.0L788.0 147.8L780.0 147.8L776.6 141.0M701.7 199.5L711.2 200.9L720.0 207.5L727.2 219.9L717.0 225.0L708.3 204.6"/>
</g>
<clipPath id="c33"><polygon points="701.7,199.5 711.2,200.9 720.0,207.5 727.2,219.9 717.0,225.0 708.3,204.6"/></clipPath>
<g clip-path="url(#c33)" stroke-width="1.2">
<path d="M676.1 209.8L725.3 175.4M677.5 211.8L726.7 177.4M678.9 213.8L728.1 179.3M680.3 215.8L729.5 181.3M681.5 217.6L730.8 183.2M683.0 219.7L732.2 185.3M684.3 221.6L733.6 187.2M685.7 223.6L735.0 189.2M687.1 225.6L736.3 191.1M688.5 227.6L737.7 193.1M689.8 229.4L739.0 195.0M691.2 231.4L740.4 197.0M692.6 233.5L741.8 199.0M694.0 235.4L743.2 200.9M695.4 237.4L744.6 202.9M696.7 239.3L745.9 204.8M698.2 241.4L747.4 206.9M699.4 243.1L748.6 208.7M700.9 245.3L750.1 210.8M702.2 247.2L751.4 212.7M703.5 249.1L752.8 214.6M750.8 160.5L752.2 162.5M764.5 180.1L766.0 182.1M767.3 184.1L768.7 186.0M770.0 187.9L771.5 190.0M771.5 190.0L772.7 191.8M775.5 195.8L776.9 197.7M729.1 178.6L730.5 180.6M736.0 188.4L737.4 190.4M742.9 198.2L744.3 200.2M748.4 206.2L749.7 207.9M751.2 210.0L752.5 211.9M706.8 200.0L708.3 202.1M711.0 205.9L712.4 207.9M717.9 215.8L719.2 217.7M679.3 213.5L680.7 215.5M687.6 225.3L689.0 227.3M698.6 241.0L699.9 242.8M657.9 234.2L659.3 236.3M666.1 246.0L667.5 248.0"/>
</g>
<clipPath id="c34"><polygon points="777.0,141.0 788.0,138.0 786.0,146.0 780.0,146.0"/></clipPath>
<g clip-path="url(#c34)" stroke-width="1.2">
<path d="M763.9 140.3L784.1 123.4M765.3 142.0L785.5 125.1M766.7 143.7L786.9 126.7M768.1 145.4L788.4 128.4M769.6 147.1L789.8 130.2M771.0 148.8L791.2 131.9M772.4 150.4L792.6 133.5M773.8 152.1L794.0 135.2M775.2 153.8L795.4 136.8M776.7 155.6L796.9 138.6M778.0 157.2L798.2 140.2M779.5 159.0L799.7 142.0M780.8 160.5L801.0 143.6M829.6 102.4L831.0 104.1M832.4 105.8L833.9 107.6M800.0 115.8L801.4 117.5M807.1 124.2L808.4 125.9M808.4 125.9L809.9 127.7M812.8 131.1L814.1 132.6M778.4 136.8L779.9 138.5M754.7 156.7L756.1 158.4M756.1 158.4L757.5 160.1M728.6 172.8L730.0 174.5M731.4 176.2L732.9 177.9M737.1 182.9L738.5 184.6M740.0 186.4L741.3 188.0"/>
</g>
<clipPath id="c35"><polygon points="769.0,171.0 776.0,167.0 779.0,178.0 771.0,177.0"/></clipPath>
<g clip-path="url(#c35)" stroke-width="1.2">
<path d="M754.7 171.5L776.4 153.3M756.1 173.2L777.8 155.0M757.5 174.9L779.2 156.7M758.9 176.5L780.5 158.3M760.4 178.3L782.0 160.1M761.7 179.9L783.4 161.7M763.2 181.6L784.9 163.4M764.5 183.2L786.2 165.0M766.0 184.9L787.6 166.7M767.4 186.6L789.0 168.4M768.8 188.3L790.5 170.1M770.3 190.1L791.9 171.9M771.6 191.7L793.3 173.5M810.4 124.7L811.8 126.4M814.6 129.7L816.1 131.5M824.5 141.5L826.0 143.3M794.0 150.0L795.4 151.7M802.4 160.1L803.9 161.8M776.0 173.6L777.4 175.3M780.3 178.7L781.7 180.4M745.1 185.3L746.5 186.9M746.5 186.9L748.0 188.7M755.0 197.0L756.4 198.7M719.5 201.0L720.9 202.7M720.9 202.7L722.3 204.4M729.3 212.8L730.8 214.5M733.6 217.8L735.1 219.6"/>
</g>
</g>
<polygon points="794.9,126.6 795.2,128.0 794.0,139.4 797.6,149.0 798.8,155.0 803.6,159.8 804.2,167.6 797.0,171.2 791.0,170.6 785.0,174.2 784.4,186.2 777.8,195.0 770.5,202.1 764.3,208.4 759.3,215.8 755.5,223.3 758.0,232.0 749.3,239.4 734.4,251.9 735.0,252.7 720.0,258.5 708.3,265.8 696.6,266.5 682.0,264.3 670.4,268.0 657.3,261.4 652.9,253.4 644.2,255.6 620.8,252.7 620.8,242.5 697.3,195.0 735.0,172.0 772.6,143.7" fill="none" stroke="#467a7a" stroke-width="1.2"/>
<g transform="translate(705.4,97.4)"><polygon points="-3.2,-0.9 0,-3.4 3.2,-0.9 3.2,3.0 -3.2,3.0" fill="#22b48c"/><polyline points="-3.6,-0.7 0,-3.6 3.6,-0.7" fill="none" stroke="#1c3030" stroke-width="0.8"/><rect x="-3.3" y="2.8" width="6.6" height="1.05" fill="#1c2626"/><text x="0.1" y="2.3" font-family="Liberation Sans" font-size="5.6" font-weight="bold" fill="#e6f6f0" text-anchor="middle">E</text></g>
<g transform="translate(756.3,99.1)"><polygon points="-3.2,-0.9 0,-3.4 3.2,-0.9 3.2,3.0 -3.2,3.0" fill="#22b48c"/><polyline points="-3.6,-0.7 0,-3.6 3.6,-0.7" fill="none" stroke="#1c3030" stroke-width="0.8"/><rect x="-3.3" y="2.8" width="6.6" height="1.05" fill="#1c2626"/><text x="0.1" y="2.3" font-family="Liberation Sans" font-size="5.6" font-weight="bold" fill="#e6f6f0" text-anchor="middle">E</text></g>
<g transform="translate(750.3,103.4)"><polygon points="-3.2,-0.9 0,-3.4 3.2,-0.9 3.2,3.0 -3.2,3.0" fill="#22b48c"/><polyline points="-3.6,-0.7 0,-3.6 3.6,-0.7" fill="none" stroke="#1c3030" stroke-width="0.8"/><rect x="-3.3" y="2.8" width="6.6" height="1.05" fill="#1c2626"/><text x="0.1" y="2.3" font-family="Liberation Sans" font-size="5.6" font-weight="bold" fill="#e6f6f0" text-anchor="middle">E</text></g>
<g transform="translate(752.3,108.6)"><polygon points="-3.2,-0.9 0,-3.4 3.2,-0.9 3.2,3.0 -3.2,3.0" fill="#22b48c"/><polyline points="-3.6,-0.7 0,-3.6 3.6,-0.7" fill="none" stroke="#1c3030" stroke-width="0.8"/><rect x="-3.3" y="2.8" width="6.6" height="1.05" fill="#1c2626"/><text x="0.1" y="2.3" font-family="Liberation Sans" font-size="5.6" font-weight="bold" fill="#e6f6f0" text-anchor="middle">E</text></g>
<g transform="translate(757.1,124.0)"><polygon points="-3.2,-0.9 0,-3.4 3.2,-0.9 3.2,3.0 -3.2,3.0" fill="#22b48c"/><polyline points="-3.6,-0.7 0,-3.6 3.6,-0.7" fill="none" stroke="#1c3030" stroke-width="0.8"/><rect x="-3.3" y="2.8" width="6.6" height="1.05" fill="#1c2626"/><text x="0.1" y="2.3" font-family="Liberation Sans" font-size="5.6" font-weight="bold" fill="#e6f6f0" text-anchor="middle">E</text></g>
<g transform="translate(775.1,159.2)"><polygon points="-3.2,-0.9 0,-3.4 3.2,-0.9 3.2,3.0 -3.2,3.0" fill="#22b48c"/><polyline points="-3.6,-0.7 0,-3.6 3.6,-0.7" fill="none" stroke="#1c3030" stroke-width="0.8"/><rect x="-3.3" y="2.8" width="6.6" height="1.05" fill="#1c2626"/><text x="0.1" y="2.3" font-family="Liberation Sans" font-size="5.6" font-weight="bold" fill="#e6f6f0" text-anchor="middle">E</text></g>
<g transform="translate(776.0,182.2)"><polygon points="-3.2,-0.9 0,-3.4 3.2,-0.9 3.2,3.0 -3.2,3.0" fill="#22b48c"/><polyline points="-3.6,-0.7 0,-3.6 3.6,-0.7" fill="none" stroke="#1c3030" stroke-width="0.8"/><rect x="-3.3" y="2.8" width="6.6" height="1.05" fill="#1c2626"/><text x="0.1" y="2.3" font-family="Liberation Sans" font-size="5.6" font-weight="bold" fill="#e6f6f0" text-anchor="middle">E</text></g>
<clipPath id="c36"><polygon points="83.6,441.0 90.6,431.7 131.9,451.5 168.4,413.4 181.8,417.9 184.3,420.0 188.5,424.0 193.9,435.8 161.0,471.4 156.0,475.7 144.2,488.6 130.3,477.7 106.5,503.6 87.6,522.4 77.6,514.5 59.7,532.4 44.8,525.4 24.0,503.6 29.9,495.6 57.7,466.8"/></clipPath>
<polygon points="83.6,441.0 90.6,431.7 131.9,451.5 168.4,413.4 181.8,417.9 184.3,420.0 188.5,424.0 193.9,435.8 161.0,471.4 156.0,475.7 144.2,488.6 130.3,477.7 106.5,503.6 87.6,522.4 77.6,514.5 59.7,532.4 44.8,525.4 24.0,503.6 29.9,495.6 57.7,466.8" fill="#9c52e4"/>
<polygon points="83.6,441.0 90.6,431.7 131.9,451.5 168.4,413.4 181.8,417.9 184.3,420.0 188.5,424.0 193.9,435.8 161.0,471.4 156.0,475.7 144.2,488.6 130.3,477.7 106.5,503.6 87.6,522.4 77.6,514.5 59.7,532.4 44.8,525.4 24.0,503.6 29.9,495.6 57.7,466.8" fill="none" stroke="#6a1eb4" stroke-width="1.2"/>
<clipPath id="c37"><polygon points="84.6,438.2 93.9,432.8 131.0,451.3 171.0,413.0 190.0,427.0 193.9,435.8 166.5,469.9 146.4,466.8 110.9,474.5"/></clipPath>
<polygon points="84.6,438.2 93.9,432.8 131.0,451.3 171.0,413.0 190.0,427.0 193.9,435.8 166.5,469.9 146.4,466.8 110.9,474.5" fill="#9c52e4"/>
<g clip-path="url(#c37)" stroke="#6a1eb4" fill="none" stroke-linecap="butt">
<clipPath id="c38"><polygon points="146.4,466.8 166.5,417.4 191.2,431.3 166.5,469.9"/></clipPath>
<g clip-path="url(#c38)" stroke-width="1.35">
<path d="M100.4 453.7L176.4 374.9M103.2 456.4L179.2 377.6M106.1 459.2L182.2 380.4M110.2 463.2L186.3 384.4M112.7 465.7L188.8 386.9M115.9 468.7L192.0 389.9M118.8 471.4L194.8 392.7M121.5 474.1L197.6 395.3M125.1 477.5L201.1 398.8M127.9 480.2L203.9 401.5M131.2 483.5L207.3 404.7M134.0 486.2L210.1 407.4M137.3 489.4L213.4 410.6M139.7 491.7L215.8 412.9M142.3 494.2L218.4 415.4M145.3 497.1L221.4 418.3M149.2 500.9L225.3 422.1M151.4 503.0L227.5 424.2M155.2 506.6L231.2 427.8M158.1 509.5L234.2 430.7M160.3 511.6L236.4 432.8M179.0 392.0L181.6 394.4M184.7 397.5L187.6 400.2M200.0 412.2L202.8 414.9M208.5 420.5L211.1 423.0M211.1 423.0L214.1 425.9M220.2 431.7L224.0 435.4M224.0 435.4L226.9 438.2M167.0 384.7L169.8 387.4M169.8 387.4L172.7 390.2M176.9 394.2L179.4 396.6M182.6 399.7L185.4 402.4M188.2 405.1L191.7 408.5M200.7 417.2L204.0 420.4M204.0 420.4L206.4 422.7M206.4 422.7L209.0 425.2M209.0 425.2L212.0 428.1M215.9 431.9L218.0 434.0M218.0 434.0L221.8 437.6M224.8 440.5L226.9 442.6M162.1 389.8L164.9 392.5M164.9 392.5L167.8 395.3M172.0 399.3L174.5 401.7M186.8 413.6L189.6 416.3M199.0 425.5L201.4 427.8M216.9 442.7L219.8 445.6M161.4 396.0L164.4 398.9M171.0 405.3L174.2 408.4M183.4 417.2L186.1 419.9M186.1 419.9L189.5 423.1M200.6 433.9L203.6 436.8M207.5 440.5L209.7 442.6M216.4 449.1L218.6 451.2M162.0 401.3L166.1 405.3M166.1 405.3L168.7 407.8M168.7 407.8L171.8 410.8M171.8 410.8L174.7 413.6M174.7 413.6L177.4 416.2M183.8 422.3L187.1 425.6M195.6 433.8L198.2 436.3M201.2 439.2L205.1 443.0M207.3 445.1L211.1 448.7M211.1 448.7L214.0 451.6M214.0 451.6L216.2 453.7M154.7 403.0L157.6 405.8M164.3 412.3L167.5 415.4M173.1 420.7L176.6 424.2M179.4 426.9L182.7 430.1M182.7 430.1L185.6 432.8M191.3 438.3L193.9 440.8M193.9 440.8L196.9 443.7M206.7 453.2L209.7 456.1M151.2 406.6L154.1 409.5M154.1 409.5L158.3 413.5M158.3 413.5L160.8 415.9M169.6 424.4L173.1 427.8M175.9 430.5L179.2 433.7M179.2 433.7L182.1 436.4M182.1 436.4L185.4 439.6M197.3 451.1L199.5 453.2M203.2 456.8L206.2 459.7M206.2 459.7L208.4 461.8M146.0 406.4L148.8 409.1M151.7 412.0L155.9 416.0M155.9 416.0L158.4 418.4M158.4 418.4L161.6 421.5M164.4 424.2L167.2 426.9M170.7 430.3L173.5 433.0M176.8 436.2L179.7 438.9M200.8 459.3L203.8 462.2M144.4 413.7L147.3 416.5M147.3 416.5L151.5 420.5M154.0 423.0L157.2 426.0M162.7 431.4L166.3 434.9M166.3 434.9L169.1 437.6M175.2 443.5L178.5 446.7M183.5 451.5L186.6 454.4M196.4 463.9L199.4 466.8M139.1 413.6L141.9 416.3M141.9 416.3L144.8 419.1M148.9 423.2L151.4 425.6M151.4 425.6L154.6 428.7M160.2 434.1L163.8 437.5M163.8 437.5L166.5 440.2M172.7 446.1L176.0 449.3M178.4 451.6L181.0 454.1M184.0 457.1L187.9 460.8M190.1 462.9L193.9 466.5M196.8 469.4L199.0 471.5M134.2 418.6L137.0 421.3M137.0 421.3L139.9 424.2M139.9 424.2L144.1 428.2M144.1 428.2L146.6 430.6M146.6 430.6L149.8 433.7M149.8 433.7L152.6 436.4M173.6 456.7L176.2 459.2M176.2 459.2L179.2 462.1M141.0 431.4L143.5 433.8M149.5 439.6L152.3 442.3M152.3 442.3L155.8 445.7M155.8 445.7L158.6 448.4M158.6 448.4L162.0 451.6M168.1 457.5L170.5 459.8M182.2 471.1L185.9 474.7M185.9 474.7L188.9 477.6M188.9 477.6L191.1 479.7M145.5 443.7L148.3 446.4M148.3 446.4L151.9 449.8M154.6 452.5L158.0 455.7M158.0 455.7L160.8 458.5M160.8 458.5L164.1 461.6M164.1 461.6L166.5 464.0M169.1 466.5L172.1 469.4M176.0 473.1L178.2 475.2M181.9 478.9L184.9 481.7M131.0 433.4L135.2 437.4M137.7 439.8L140.9 442.9M140.9 442.9L143.7 445.6M143.7 445.6L146.4 448.3M146.4 448.3L150.0 451.7M150.0 451.7L152.8 454.4M164.7 465.9L167.2 468.4M170.3 471.3L174.1 475.1M176.3 477.2L180.1 480.8M180.1 480.8L183.1 483.7M124.2 434.7L127.1 437.5M127.1 437.5L131.2 441.5M133.7 443.9L136.9 447.0M136.9 447.0L139.7 449.7M139.7 449.7L142.5 452.4M146.1 455.8L148.8 458.5M148.8 458.5L152.2 461.7M152.2 461.7L155.0 464.5M155.0 464.5L158.3 467.6M158.3 467.6L160.7 470.0M163.3 472.5L166.3 475.4M166.3 475.4L170.2 479.1M170.2 479.1L172.4 481.2M172.4 481.2L176.2 484.9M176.2 484.9L179.1 487.7M127.2 445.6L129.7 448.1M129.7 448.1L132.9 451.1M132.9 451.1L135.7 453.9M135.7 453.9L138.5 456.5M138.5 456.5L142.1 459.9M142.1 459.9L144.8 462.6M144.8 462.6L148.2 465.9M113.9 439.7L116.7 442.4M116.7 442.4L119.6 445.2M119.6 445.2L123.8 449.2M123.8 449.2L126.3 451.6M126.3 451.6L129.5 454.7M132.3 457.4L135.1 460.1M135.1 460.1L138.6 463.5M138.6 463.5L141.4 466.2M141.4 466.2L144.7 469.4M150.9 475.4L153.3 477.7M158.9 483.1L162.8 486.9M162.8 486.9L164.9 489.0M164.9 489.0L168.7 492.6M171.7 495.5L173.8 497.6M114.0 445.2L116.9 448.0M123.6 454.5L126.7 457.5M126.7 457.5L129.6 460.3M132.3 462.9L135.9 466.4M135.9 466.4L138.7 469.0M138.7 469.0L142.0 472.3M144.8 475.0L148.1 478.2M148.1 478.2L150.5 480.5M156.1 485.9L160.0 489.7M160.0 489.7L162.2 491.8M166.0 495.4L168.9 498.3M168.9 498.3L171.1 500.4M109.3 450.1L112.2 452.9M112.2 452.9L116.3 456.9M116.3 456.9L118.9 459.3M131.2 471.2L134.0 473.9M134.0 473.9L137.3 477.1M137.3 477.1L140.1 479.9M140.1 479.9L143.4 483.0M143.4 483.0L145.8 485.4M145.8 485.4L148.4 487.9M148.4 487.9L151.4 490.8M151.4 490.8L155.3 494.5M157.5 496.7L161.3 500.3M161.3 500.3L164.2 503.2M164.2 503.2L166.4 505.3"/>
</g>
<clipPath id="c39"><polygon points="84.6,438.2 93.9,432.8 131.0,451.3 110.9,474.5"/></clipPath>
<g clip-path="url(#c39)" stroke-width="1.35">
<path d="M85.0 393.6L171.2 443.4M82.3 398.3L168.5 448.1M81.0 400.6L167.2 450.4M78.4 404.9L164.7 454.7M75.4 410.2L161.6 460.0M73.5 413.5L159.7 463.3M71.8 416.3L158.1 466.1M69.4 420.7L155.6 470.5M66.5 425.6L152.7 475.4M64.7 428.6L151.0 478.4M63.0 431.7L149.2 481.5M59.7 437.3L146.0 487.1M58.3 439.7L144.6 489.5M55.5 444.6L141.8 494.4M53.3 448.5L139.5 498.3M51.2 452.1L137.5 501.9M48.4 456.9L134.6 506.7M47.0 459.3L133.3 509.1M44.3 464.0L130.6 513.8M88.0 401.6L86.7 403.9M79.2 416.8L77.6 419.7M77.6 419.7L75.1 424.0M75.1 424.0L72.2 428.9M72.2 428.9L70.5 432.0M65.5 440.6L64.1 443.0M61.3 447.9L59.0 451.8M59.0 451.8L57.0 455.4M57.0 455.4L54.2 460.3M98.1 401.2L95.4 405.9M94.1 408.2L91.6 412.5M91.6 412.5L88.6 417.8M85.0 423.9L82.5 428.3M82.5 428.3L79.7 433.2M77.9 436.2L76.1 439.3M76.1 439.3L72.9 444.9M71.5 447.3L68.7 452.2M68.7 452.2L66.4 456.1M66.4 456.1L64.4 459.7M64.4 459.7L61.6 464.5M61.6 464.5L60.2 466.9M60.2 466.9L57.5 471.6M94.6 414.3L91.6 419.5M91.6 419.5L89.7 422.8M88.1 425.7L85.6 430.0M82.7 435.0L81.0 438.0M81.0 438.0L79.2 441.1M76.0 446.7L74.6 449.1M71.7 454.0L69.5 457.8M64.6 466.3L63.3 468.7M63.3 468.7L60.5 473.4M103.3 413.5L100.8 417.9M95.9 426.4L94.2 429.3M94.2 429.3L91.7 433.6M88.9 438.5L87.1 441.6M80.7 452.6L77.9 457.5M77.9 457.5L75.7 461.4M73.6 465.0L70.8 469.8M70.8 469.8L69.4 472.2M113.4 410.0L110.7 414.7M106.8 421.3L103.8 426.6M101.9 429.9L100.2 432.7M97.7 437.1L94.9 442.0M94.9 442.0L93.1 445.0M93.1 445.0L91.4 448.1M86.7 456.1L83.9 461.0M81.7 464.9L79.6 468.5M76.8 473.3L75.4 475.7M109.1 429.6L107.2 433.0M107.2 433.0L105.6 435.8M100.2 445.1L98.5 448.1M98.5 448.1L96.7 451.2M96.7 451.2L93.5 456.8M89.2 464.1L87.0 467.9M121.9 414.9L119.1 419.6M117.8 421.9L115.3 426.2M112.3 431.5L110.4 434.8M110.4 434.8L108.7 437.6M106.2 442.0L103.4 446.9M103.4 446.9L101.6 449.9M96.6 458.6L95.2 461.0M95.2 461.0L92.4 465.9M92.4 465.9L90.2 469.8M90.2 469.8L88.1 473.4M85.3 478.2L83.9 480.6M83.9 480.6L81.2 485.3M129.1 419.1L126.4 423.8M125.1 426.0L122.5 430.4M119.5 435.6L117.6 438.9M117.6 438.9L115.9 441.8M113.5 446.1L110.6 451.1M110.6 451.1L108.8 454.1M108.8 454.1L107.1 457.2M99.6 470.1L97.4 473.9M97.4 473.9L95.3 477.5M95.3 477.5L92.5 482.4M92.5 482.4L91.1 484.8M134.2 422.0L131.5 426.7M130.2 429.0L127.6 433.4M127.6 433.4L124.6 438.6M124.6 438.6L122.7 441.9M122.7 441.9L121.1 444.7M121.1 444.7L118.6 449.1M118.6 449.1L115.7 454.0M112.2 460.1L108.9 465.7M107.6 468.1L104.7 473.0M104.7 473.0L102.5 476.9M100.4 480.5L97.6 485.3M97.6 485.3L96.3 487.7M96.3 487.7L93.5 492.4M135.3 428.9L134.0 431.2M134.0 431.2L131.5 435.6M124.9 447.0L122.4 451.3M119.5 456.2L117.8 459.3M117.8 459.3L116.0 462.4M111.4 470.3L108.6 475.2M108.6 475.2L106.3 479.1M104.3 482.7L101.4 487.6M101.4 487.6L100.1 489.9M100.1 489.9L97.3 494.7M140.3 434.8L137.8 439.2M134.8 444.4L132.9 447.8M132.9 447.8L131.2 450.6M124.1 462.9L122.3 466.0M122.3 466.0L119.1 471.6M117.7 474.0L114.9 478.9M114.9 478.9L112.7 482.8M112.7 482.8L110.6 486.3M110.6 486.3L107.8 491.2M107.8 491.2L106.4 493.6M148.2 430.1L145.5 434.8M145.5 434.8L144.2 437.0M141.6 441.4L138.6 446.7M138.6 446.7L136.7 450.0M135.0 452.8L132.5 457.2M127.9 465.1L126.2 468.2M126.2 468.2L122.9 473.8M122.9 473.8L121.5 476.2M121.5 476.2L118.7 481.1M116.5 485.0L114.4 488.5M114.4 488.5L111.6 493.4M153.2 433.0L150.5 437.7M149.2 439.9L146.6 444.3M146.6 444.3L143.6 449.5M143.6 449.5L141.7 452.9M141.7 452.9L140.0 455.7M140.0 455.7L137.6 460.0M134.7 465.0L132.9 468.0M132.9 468.0L131.2 471.1M131.2 471.1L127.9 476.7M123.7 484.0L121.5 487.8M119.4 491.4L116.6 496.3M116.6 496.3L115.2 498.7M115.2 498.7L112.5 503.4M155.7 440.7L154.4 443.0M154.4 443.0L151.8 447.3M151.8 447.3L148.8 452.6M148.8 452.6L146.9 455.9M146.9 455.9L145.3 458.7M138.2 471.0L136.4 474.1M131.8 482.1L128.9 487.0M121.8 499.3L120.5 501.7M120.5 501.7L117.7 506.4M161.3 443.9L160.0 446.2M154.4 455.8L152.5 459.1M145.5 471.2L143.7 474.2M143.7 474.2L142.0 477.3M138.7 482.9L137.3 485.3M126.0 504.9L123.3 509.6"/>
</g>
<g stroke-width="1.35">
<path d="M123.2 463.7L134.0 471.4L131.0 477.0M150.0 440.0L175.0 416.0"/>
</g>
</g>
<polygon points="84.6,438.2 93.9,432.8 131.0,451.3 171.0,413.0 190.0,427.0 193.9,435.8 166.5,469.9 146.4,466.8 110.9,474.5" fill="none" stroke="none" stroke-width="0"/>
<polyline points="84.0,439.0 110.9,474.5 171.0,413.0" fill="none" stroke="#8a10f0" stroke-width="1.4"/>
<polyline points="161.0,471.4 156.0,475.7 144.2,488.6 130.3,477.7" fill="none" stroke="#6a22b0" stroke-width="1.2"/>
<polyline points="106.5,503.6 98.0,495.0 104.0,488.0 112.0,496.0" fill="none" stroke="#6a22b0" stroke-width="1.0"/>
<clipPath id="c40"><polygon points="81.6,373.9 125.3,395.7 119.6,402.1 111.8,411.1 108.0,418.8 100.3,427.8 90.6,431.7 49.5,411.1"/></clipPath>
<polygon points="81.6,373.9 125.3,395.7 119.6,402.1 111.8,411.1 108.0,418.8 100.3,427.8 90.6,431.7 49.5,411.1" fill="#33f8f5"/>
<g clip-path="url(#c40)" stroke="#10a8a8" fill="none" stroke-linecap="butt">
<clipPath id="c41"><rect x="49" y="373" width="77" height="59"/></clipPath>
<g clip-path="url(#c41)" stroke-width="1.38">
<path d="M47.1 315.0L182.0 383.8M45.2 318.7L180.2 387.5M42.1 324.7L177.1 393.5M39.4 329.9L174.4 398.7M36.0 336.7L171.0 405.4M33.4 341.9L168.4 410.6M30.4 347.8L165.4 416.6M28.7 351.0L163.7 419.7M25.6 357.2L160.6 426.0M23.4 361.5L158.4 430.3M20.4 367.4L155.4 436.1M17.3 373.5L152.3 442.3M15.2 377.5L150.2 446.3M12.2 383.3L147.2 452.1M8.9 389.9L143.9 458.7M6.3 395.0L141.3 463.7M4.0 399.4L139.0 468.2M0.8 405.8L135.8 474.6M-2.2 411.7L132.8 480.5M-3.8 414.9L131.2 483.7M-7.7 422.4L127.3 491.2M45.4 348.0L42.3 353.9M42.3 353.9L40.7 357.1M40.7 357.1L37.5 363.3M37.5 363.3L35.3 367.6M35.3 367.6L32.4 373.5M27.2 383.6L24.2 389.4M20.9 396.0L18.3 401.1M16.0 405.5L12.8 411.9M12.8 411.9L9.8 417.8M9.8 417.8L8.1 421.0M64.2 323.7L62.3 327.4M56.6 338.7L53.1 345.4M53.1 345.4L50.5 350.6M47.5 356.5L45.8 359.7M45.8 359.7L42.7 365.9M42.7 365.9L40.5 370.2M40.5 370.2L37.5 376.1M32.3 386.2L29.3 392.1M29.3 392.1L26.0 398.6M26.0 398.6L23.4 403.7M21.1 408.2L17.9 414.5M13.3 423.6L9.4 431.1M64.9 336.3L62.2 341.5M62.2 341.5L58.8 348.3M56.1 353.4L53.1 359.4M53.1 359.4L51.5 362.6M51.5 362.6L48.3 368.8M43.1 379.0L40.0 385.1M40.0 385.1L38.0 389.1M38.0 389.1L35.0 394.9M29.1 406.6L26.8 411.0M20.6 423.3L18.9 426.5M78.6 331.1L76.7 334.8M73.6 340.8L70.9 346.0M70.9 346.0L67.5 352.7M67.5 352.7L64.9 357.9M64.9 357.9L61.9 363.8M54.9 377.6L51.9 383.4M51.9 383.4L48.8 389.5M43.7 399.4L40.4 405.9M40.4 405.9L37.8 411.0M37.8 411.0L35.5 415.5M29.3 427.8L27.7 431.0M27.7 431.0L23.8 438.4M82.9 333.3L81.0 337.0M81.0 337.0L77.9 343.0M75.2 348.2L71.8 354.9M71.8 354.9L69.2 360.1M69.2 360.1L66.2 366.0M64.5 369.2L61.4 375.4M61.4 375.4L59.2 379.7M53.1 391.7L51.0 395.8M51.0 395.8L48.0 401.6M48.0 401.6L44.7 408.1M44.7 408.1L42.1 413.2M42.1 413.2L39.8 417.7M36.6 424.0L33.6 429.9M33.6 429.9L32.0 433.1M32.0 433.1L28.1 440.6M86.4 339.8L83.4 345.8M77.3 357.7L74.7 362.9M74.7 362.9L71.6 368.8M70.0 372.0L66.8 378.2M66.8 378.2L64.6 382.5M58.6 394.5L56.5 398.6M50.2 410.9L47.6 416.0M47.6 416.0L45.3 420.5M45.3 420.5L42.1 426.8M42.1 426.8L39.1 432.7M39.1 432.7L37.4 435.9M89.6 349.0L87.0 354.2M87.0 354.2L83.6 360.9M83.6 360.9L80.9 366.1M77.9 372.0L76.3 375.2M76.3 375.2L73.1 381.4M73.1 381.4L70.9 385.7M70.9 385.7L67.9 391.6M67.9 391.6L64.8 397.7M64.8 397.7L62.7 401.8M59.8 407.6L56.4 414.1M51.6 423.7L48.3 430.0M98.2 353.3L95.6 358.5M95.6 358.5L92.1 365.3M92.1 365.3L89.5 370.4M89.5 370.4L86.5 376.4M86.5 376.4L84.8 379.6M84.8 379.6L81.7 385.8M79.5 390.1L76.5 395.9M73.4 402.1L71.3 406.1M71.3 406.1L68.3 411.9M56.9 434.4L53.9 440.3M53.9 440.3L52.3 443.5M106.7 350.1L103.7 356.1M101.0 361.3L97.6 368.0M95.0 373.2L91.9 379.2M90.3 382.3L87.1 388.6M85.0 392.9L82.0 398.7M82.0 398.7L78.9 404.8M73.8 414.7L70.5 421.3M70.5 421.3L67.9 426.3M65.6 430.8L62.4 437.1M57.7 446.3L53.9 453.8M113.6 353.6L110.6 359.6M107.9 364.8L104.5 371.5M101.8 376.7L98.8 382.7M98.8 382.7L97.2 385.8M94.0 392.1L91.8 396.4M91.8 396.4L88.8 402.2M85.7 408.3L83.7 412.4M83.7 412.4L80.7 418.2M74.8 429.8L72.5 434.3M72.5 434.3L69.3 440.6M69.3 440.6L66.2 446.6M119.6 356.7L116.6 362.7M116.6 362.7L113.9 367.9M100.0 395.1L97.8 399.4M94.8 405.3L91.7 411.4M86.7 421.3L83.4 427.8M83.4 427.8L80.8 432.9M80.8 432.9L78.5 437.4M75.3 443.7L72.2 449.6M127.1 355.8L125.2 359.5M122.2 365.5L119.5 370.8M119.5 370.8L116.1 377.5M110.4 388.6L108.8 391.8M108.8 391.8L105.6 398.0M105.6 398.0L103.5 402.3M103.5 402.3L100.5 408.2M95.3 418.3L92.3 424.1M86.4 435.8L84.1 440.2M84.1 440.2L80.9 446.6M80.9 446.6L77.9 452.5M134.7 359.7L132.8 363.4M127.1 374.6L123.7 381.3M123.7 381.3L121.1 386.5M121.1 386.5L118.0 392.4M108.1 412.0L105.0 418.1M105.0 418.1L102.9 422.2M102.9 422.2L99.9 428.0M94.0 439.6L91.7 444.1M88.5 450.4L85.5 456.4M131.5 376.9L128.1 383.6M125.4 388.8L122.4 394.7M112.5 414.3L109.3 420.4M107.3 424.4L104.3 430.3M98.4 441.9L96.1 446.3M92.9 452.7L89.9 458.6M89.9 458.6L88.2 461.8M145.9 365.4L144.0 369.1M144.0 369.1L140.9 375.1M140.9 375.1L138.3 380.3M138.3 380.3L134.9 387.0M129.2 398.1L127.6 401.3M124.4 407.6L122.2 411.9M119.2 417.7L116.1 423.8M114.0 427.9L111.1 433.7M107.7 440.3L105.2 445.3M102.9 449.8L99.7 456.1M99.7 456.1L96.6 462.1M96.6 462.1L95.0 465.3M153.0 369.0L151.1 372.7M148.0 378.7L145.4 383.9M145.4 383.9L142.0 390.6M139.3 395.8L136.3 401.8M134.7 404.9L131.5 411.2M129.3 415.5L126.3 421.3M118.2 437.3L114.8 443.9M114.8 443.9L112.3 448.9M110.0 453.4L106.8 459.8M106.8 459.8L103.7 465.7M158.6 371.8L156.7 375.5M156.7 375.5L153.6 381.6M153.6 381.6L151.0 386.8M151.0 386.8L147.6 393.5M147.6 393.5L144.9 398.7M144.9 398.7L141.9 404.6M141.9 404.6L140.3 407.8M128.8 430.3L126.7 434.4M126.7 434.4L123.8 440.2M123.8 440.2L120.4 446.7M120.4 446.7L117.8 451.8M117.8 451.8L115.6 456.3M109.3 468.5L107.7 471.7M107.7 471.7L103.9 479.2M165.6 375.4L163.7 379.1M163.7 379.1L160.6 385.1M154.5 397.1L151.9 402.2M151.9 402.2L148.9 408.2M148.9 408.2L147.3 411.4M144.1 417.6L141.9 421.9M133.7 437.9L130.8 443.7M130.8 443.7L127.4 450.3M127.4 450.3L124.8 455.3M124.8 455.3L122.6 459.8M122.6 459.8L119.3 466.2M116.3 472.1L114.7 475.3M114.7 475.3L110.9 482.8M169.0 381.8L166.0 387.9M163.3 393.1L159.9 399.8M159.9 399.8L157.3 405.0M154.2 410.9L152.6 414.1M147.2 424.6L144.3 430.5M144.3 430.5L141.1 436.6M141.1 436.6L139.1 440.7M136.1 446.5L132.8 453.0M132.8 453.0L130.2 458.1M130.2 458.1L127.9 462.6M124.7 468.9L121.7 474.8"/>
</g>
</g>
<polygon points="81.6,373.9 125.3,395.7 119.6,402.1 111.8,411.1 108.0,418.8 100.3,427.8 90.6,431.7 49.5,411.1" fill="none" stroke="#10a8a8" stroke-width="1.1"/>
<clipPath id="c42"><polygon points="90.6,431.7 100.3,427.8 108.0,418.8 111.8,411.1 119.6,402.1 125.3,395.7 141.8,378.5 148.1,388.4 152.6,389.3 161.6,372.2 193.5,386.7 131.9,451.5"/></clipPath>
<polygon points="90.6,431.7 100.3,427.8 108.0,418.8 111.8,411.1 119.6,402.1 125.3,395.7 141.8,378.5 148.1,388.4 152.6,389.3 161.6,372.2 193.5,386.7 131.9,451.5" fill="#fce9d9"/>
<g clip-path="url(#c42)" stroke="#f0c288" fill="none" stroke-linecap="butt">
<g stroke-width="1.43">
<path d="M98.8 431.3L108.0 426.0L119.2 421.0L132.3 418.1L148.3 422.5M104.6 434.2L122.1 425.4L133.8 424.0L140.0 425.0M111.9 438.5L122.0 432.0L133.8 428.3L145.4 428.3L158.5 418.1M119.2 442.9L138.1 432.7L151.3 431.3M125.0 447.3L141.0 438.5L152.7 437.1M119.2 405.0L130.0 404.5L138.1 406.5L151.3 413.8M123.5 410.8L132.0 408.5M133.8 413.8L135.0 428.0L133.8 442.9M157.1 378.8L158.0 390.0L160.0 399.2L171.7 406.5M165.8 375.8L168.8 391.9L184.8 399.2M180.4 384.6L176.0 396.3M152.7 390.4L165.8 399.2L166.0 408.0M154.2 399.2L162.0 390.0L171.7 384.6M112.0 415.0L118.0 412.0L125.0 414.0M145.0 408.0L150.0 402.0L158.0 404.0M140.0 420.0L142.0 434.0M148.0 426.0L146.0 440.0M158.0 418.0L162.0 424.0"/>
</g>
</g>
<polygon points="90.6,431.7 100.3,427.8 108.0,418.8 111.8,411.1 119.6,402.1 125.3,395.7 141.8,378.5 148.1,388.4 152.6,389.3 161.6,372.2 193.5,386.7 131.9,451.5" fill="none" stroke="#f0c288" stroke-width="1.1"/>
<polyline points="90.6,431.7 49.5,411.1 81.6,373.9 125.3,395.7 141.8,378.5 148.1,388.4 152.6,389.3 161.6,372.2 193.5,386.7 171.0,413.0" fill="none" stroke="#8a10f0" stroke-width="1.5"/>
<polyline points="90.6,431.7 131.9,451.5" fill="none" stroke="#6a22b0" stroke-width="1.1"/>
<clipPath id="c43"><polygon points="193.5,386.7 207.6,392.9 202.2,398.3 203.1,404.6 212.1,410.0 217.5,414.5 224.7,411.8 230.1,419.0 226.5,421.8 240.9,422.7 253.5,420.0 258.9,422.1 272.2,405.7 274.5,408.5 268.1,421.1 272.0,433.5 274.7,444.6 255.9,471.2 257.6,476.3 259.1,488.2 253.8,496.6 248.4,482.9 242.9,474.7 230.5,463.7 217.5,454.1 193.9,435.8 188.5,424.0 181.8,417.9 168.4,413.4"/></clipPath>
<polygon points="193.5,386.7 207.6,392.9 202.2,398.3 203.1,404.6 212.1,410.0 217.5,414.5 224.7,411.8 230.1,419.0 226.5,421.8 240.9,422.7 253.5,420.0 258.9,422.1 272.2,405.7 274.5,408.5 268.1,421.1 272.0,433.5 274.7,444.6 255.9,471.2 257.6,476.3 259.1,488.2 253.8,496.6 248.4,482.9 242.9,474.7 230.5,463.7 217.5,454.1 193.9,435.8 188.5,424.0 181.8,417.9 168.4,413.4" fill="#ae504c"/>
<g clip-path="url(#c43)" stroke="#6a1c20" fill="none" stroke-linecap="butt">
<g stroke-width="1.35">
<path d="M190.0 396.4L206.4 412.9M194.1 384.0L202.0 392.0M181.0 417.0L214.7 415.0L227.0 412.9L238.0 410.0M196.2 406.7L204.4 398.5M198.0 420.0L210.6 433.5L229.0 431.4M221.0 448.0L231.1 441.7L251.7 421.1L258.0 421.0M251.6 430.0L255.9 443.7L257.6 449.7L253.3 454.9M252.0 426.0L257.8 423.0L266.0 435.0L265.3 442.0L253.7 431.4M218.0 417.0L216.0 411.0L225.0 407.0L230.0 415.0L226.0 424.0L218.0 424.0M225.0 442.0L231.9 445.4L233.6 453.2L231.0 460.9M253.3 471.2L248.2 478.0M226.0 424.0L228.0 432.0M240.0 422.0L236.0 440.0M203.0 401.0L215.0 414.0"/>
</g>
<g stroke-width="1.22">
<path d="M241.7 446.3L261.9 460.9L256.7 468.6L236.1 458.3L241.7 446.3"/>
</g>
<clipPath id="c44"><polygon points="241.7,446.3 250.0,452.0 244.0,463.0 236.1,458.3"/></clipPath>
<g clip-path="url(#c44)" stroke-width="1.22">
<path d="M218.0 463.2L236.2 429.1M220.7 464.6L238.9 430.6M223.3 466.0L241.4 431.9M226.0 467.4L244.1 433.4M228.6 468.8L246.7 434.7M231.2 470.2L249.3 436.1M233.9 471.7L252.1 437.6M236.5 473.0L254.7 439.0M239.2 474.5L257.4 440.4M242.0 475.9L260.1 441.9M244.5 477.3L262.6 443.2M247.3 478.7L265.4 444.7M249.8 480.1L267.9 446.0M276.1 405.2L278.8 406.7M243.6 421.7L246.1 423.1M264.8 433.0L267.3 434.4M230.2 446.8L232.8 448.2M251.5 458.1L253.9 459.5M198.6 499.7L201.3 501.2M206.6 504.0L209.2 505.3M217.1 509.6L219.8 511.0M227.9 515.3L230.4 516.6"/>
</g>
<clipPath id="c45"><polygon points="250.0,452.0 261.9,460.9 256.7,468.6 244.0,463.0"/></clipPath>
<g clip-path="url(#c45)" stroke-width="1.22">
<path d="M243.7 433.8L280.6 455.1M242.3 436.1L279.2 457.4M241.0 438.3L278.0 459.6M239.7 440.7L276.6 462.0M238.4 442.9L275.3 464.2M237.2 445.0L274.1 466.3M235.9 447.3L272.8 468.6M234.5 449.7L271.4 471.0M233.2 451.8L270.1 473.1M231.9 454.2L268.8 475.5M230.6 456.4L267.5 477.7M229.3 458.7L266.2 480.0M227.9 461.0L264.9 482.3M226.7 463.2L263.6 484.5M225.4 465.4L262.3 486.7M192.9 443.7L191.6 445.9M232.9 433.6L231.5 436.0M225.1 447.1L223.7 449.5M305.9 487.8L304.6 490.2"/>
</g>
</g>
<polygon points="193.5,386.7 207.6,392.9 202.2,398.3 203.1,404.6 212.1,410.0 217.5,414.5 224.7,411.8 230.1,419.0 226.5,421.8 240.9,422.7 253.5,420.0 258.9,422.1 272.2,405.7 274.5,408.5 268.1,421.1 272.0,433.5 274.7,444.6 255.9,471.2 257.6,476.3 259.1,488.2 253.8,496.6 248.4,482.9 242.9,474.7 230.5,463.7 217.5,454.1 193.9,435.8 188.5,424.0 181.8,417.9 168.4,413.4" fill="none" stroke="#6a1c20" stroke-width="1.2"/>
<clipPath id="c46"><polygon points="193.9,435.8 217.2,453.6 191.2,494.1 161.0,471.4"/></clipPath>
<polygon points="193.9,435.8 217.2,453.6 191.2,494.1 161.0,471.4" fill="#78adad"/>
<g clip-path="url(#c46)" stroke="#467a7a" fill="none" stroke-linecap="butt">
<clipPath id="c47"><rect x="160" y="435" width="58" height="60"/></clipPath>
<g clip-path="url(#c47)" stroke-width="1.2">
<path d="M222.1 388.2L256.1 514.9M218.6 389.2L252.6 515.9M213.5 390.5L247.5 517.2M208.3 391.9L242.2 518.6M205.1 392.8L239.1 519.5M199.8 394.2L233.8 520.9M195.0 395.5L229.0 522.2M189.5 397.0L223.5 523.7M187.0 397.6L221.0 524.3M182.3 398.9L216.2 525.6M177.1 400.3L211.0 527.0M171.3 401.8L205.2 528.6M166.6 403.1L200.5 529.8M163.6 403.9L197.5 530.6M157.1 405.6L191.1 532.3M153.4 406.6L187.4 533.3M147.8 408.1L181.7 534.9M143.2 409.4L177.1 536.1M140.5 410.1L174.5 536.8M133.8 411.9L167.8 538.6M130.3 412.8L164.3 539.5M126.5 413.9L160.4 540.6M121.1 415.3L155.1 542.0M215.7 398.5L210.5 400.4M207.4 401.5L202.3 403.4M197.6 405.1L192.2 407.0M192.2 407.0L189.8 407.9M189.8 407.9L185.2 409.6M180.1 411.4L174.4 413.5M174.4 413.5L169.8 415.2M157.0 419.9L151.4 421.9M147.0 423.5L144.4 424.4M144.4 424.4L137.8 426.8M137.8 426.8L134.4 428.1M134.4 428.1L130.6 429.4M130.6 429.4L125.4 431.3M226.3 403.9L222.9 405.1M217.9 406.9L212.8 408.8M212.8 408.8L209.7 409.9M192.0 416.3L187.4 418.0M187.4 418.0L182.3 419.9M182.3 419.9L176.7 421.9M176.7 421.9L172.1 423.6M169.2 424.7L162.9 427.0M159.2 428.3L153.7 430.3M140.1 435.2L136.7 436.5M136.7 436.5L132.9 437.9M224.4 410.8L219.5 412.6M219.5 412.6L214.3 414.4M211.2 415.6L206.0 417.5M206.0 417.5L201.4 419.2M188.9 423.7L183.8 425.5M170.7 430.3L164.4 432.6M160.7 433.9L155.2 436.0M155.2 436.0L150.8 437.6M138.2 442.1L134.4 443.5M134.4 443.5L129.2 445.4M229.2 414.4L225.7 415.7M215.6 419.4L212.5 420.5M207.4 422.4L202.7 424.1M202.7 424.1L197.3 426.0M197.3 426.0L194.9 426.9M194.9 426.9L190.3 428.6M190.3 428.6L185.2 430.5M179.5 432.5L174.9 434.2M174.9 434.2L172.0 435.3M172.0 435.3L165.7 437.5M165.7 437.5L162.1 438.9M162.1 438.9L156.5 440.9M135.7 448.5L130.5 450.4M230.9 421.1L227.5 422.4M227.5 422.4L222.6 424.2M222.6 424.2L217.4 426.0M214.3 427.2L209.1 429.1M199.1 432.7L196.7 433.6M196.7 433.6L192.0 435.3M176.7 440.9L173.8 441.9M173.8 441.9L167.5 444.2M158.3 447.6L153.9 449.2M144.7 452.5L141.3 453.7M137.5 455.1L132.3 457.0M232.9 428.3L229.4 429.6M229.4 429.6L224.5 431.4M219.3 433.2L216.2 434.4M216.2 434.4L211.1 436.2M201.0 439.9L198.6 440.8M198.6 440.8L194.0 442.5M194.0 442.5L188.9 444.3M188.9 444.3L183.2 446.4M183.2 446.4L178.6 448.0M178.6 448.0L175.7 449.1M169.4 451.4L165.8 452.7M165.8 452.7L160.2 454.7M160.2 454.7L155.8 456.4M146.6 459.7L143.2 460.9M143.2 460.9L139.4 462.3M139.4 462.3L134.2 464.2M231.4 436.7L226.4 438.5M226.4 438.5L221.3 440.4M221.3 440.4L218.2 441.5M218.2 441.5L213.0 443.4M203.0 447.0L200.5 447.9M180.6 455.2L177.6 456.3M177.6 456.3L171.3 458.6M171.3 458.6L167.7 459.9M167.7 459.9L162.2 461.9M157.7 463.5L155.1 464.5M148.6 466.8L145.2 468.1M141.4 469.5L136.1 471.4M222.5 445.1L219.4 446.2M214.3 448.1L209.6 449.8M209.6 449.8L204.2 451.8M201.8 452.7L197.2 454.3M197.2 454.3L192.1 456.2M181.8 459.9L178.9 461.0M178.9 461.0L172.6 463.3M163.4 466.6L159.0 468.2M159.0 468.2L156.3 469.2M156.3 469.2L149.8 471.6M149.8 471.6L146.4 472.8M146.4 472.8L142.6 474.2M237.6 446.0L234.2 447.2M234.2 447.2L229.2 449.0M229.2 449.0L224.1 450.9M224.1 450.9L221.0 452.0M205.8 457.5L203.3 458.4M198.7 460.1L193.6 462.0M187.9 464.0L183.4 465.7M180.4 466.8L174.1 469.1M174.1 469.1L170.5 470.4M165.0 472.4L160.5 474.0M148.0 478.6L144.2 480.0M144.2 480.0L138.9 481.9M239.5 453.0L236.1 454.3M236.1 454.3L231.1 456.1M231.1 456.1L226.0 458.0M222.9 459.1L217.7 461.0M213.0 462.7L207.7 464.6M207.7 464.6L205.2 465.5M200.6 467.2L195.5 469.0M195.5 469.0L189.8 471.1M182.3 473.8L176.0 476.1M176.0 476.1L172.4 477.5M166.9 479.5L162.4 481.1M149.9 485.7L146.1 487.0M240.9 458.4L237.5 459.7M237.5 459.7L232.6 461.5M214.5 468.1L209.1 470.0M202.0 472.6L196.9 474.5M196.9 474.5L191.3 476.5M183.8 479.2L177.5 481.5M177.5 481.5L173.8 482.9M173.8 482.9L168.3 484.9M161.2 487.4L154.7 489.8M154.7 489.8L151.3 491.1M151.3 491.1L147.5 492.4M229.3 470.5L226.2 471.6M216.4 475.2L211.0 477.2M211.0 477.2L208.6 478.1M204.0 479.7L198.9 481.6M179.4 488.7L175.8 490.0M165.8 493.6L163.2 494.6M163.2 494.6L156.6 497.0M153.2 498.2L149.4 499.6M245.0 473.6L241.6 474.8M236.6 476.6L231.5 478.5M228.4 479.6L223.2 481.5M223.2 481.5L218.5 483.2M213.2 485.2L210.7 486.1M210.7 486.1L206.1 487.7M206.1 487.7L201.0 489.6M201.0 489.6L195.3 491.6M195.3 491.6L190.8 493.3M187.8 494.4L181.5 496.7M181.5 496.7L177.9 498.0M167.9 501.6L165.3 502.6M155.4 506.2L151.6 507.6M242.7 479.0L237.7 480.8M232.6 482.6L229.5 483.8M229.5 483.8L224.3 485.6M224.3 485.6L219.6 487.3M214.3 489.3L211.8 490.2M207.2 491.9L202.1 493.7M202.1 493.7L196.4 495.8M196.4 495.8L191.9 497.4M191.9 497.4L188.9 498.5M188.9 498.5L182.6 500.8M182.6 500.8L179.0 502.1M179.0 502.1L173.5 504.1M173.5 504.1L169.0 505.8M159.9 509.1L156.5 510.3M247.9 484.4L244.5 485.6M244.5 485.6L239.5 487.4M231.3 490.4L226.1 492.3M221.4 494.0L216.1 496.0M216.1 496.0L213.6 496.9M213.6 496.9L209.0 498.5M209.0 498.5L203.9 500.4M193.7 504.1L190.7 505.2M161.7 515.8L158.3 517.0M246.6 493.4L241.6 495.2M236.5 497.1L233.4 498.2M233.4 498.2L228.2 500.1M223.5 501.8L218.2 503.8M218.2 503.8L215.7 504.6M215.7 504.6L211.1 506.3M186.5 515.3L182.9 516.6M182.9 516.6L177.4 518.6M170.3 521.2L163.8 523.6M163.8 523.6L160.4 524.8M160.4 524.8L156.6 526.2M156.6 526.2L151.3 528.1M242.8 499.7L237.7 501.6M234.6 502.7L229.4 504.6M229.4 504.6L224.7 506.3M216.9 509.2L212.3 510.8M197.0 516.4L194.0 517.5M165.0 528.1L161.6 529.3"/>
</g>
<g stroke-width="1.2">
<path d="M170.0 470.0L180.0 462.0L186.0 455.0M195.0 470.0L200.0 460.0L208.0 458.0M175.0 480.0L185.0 478.0"/>
</g>
</g>
<polygon points="193.9,435.8 217.2,453.6 191.2,494.1 161.0,471.4" fill="none" stroke="#467a7a" stroke-width="1.2"/>
<clipPath id="c48"><polygon points="217.5,454.1 230.5,463.7 242.9,474.7 248.4,482.9 253.8,496.6 236.7,524.8 225.7,517.2 234.0,504.2 214.1,489.8 205.1,502.8 191.4,493.9"/></clipPath>
<polygon points="217.5,454.1 230.5,463.7 242.9,474.7 248.4,482.9 253.8,496.6 236.7,524.8 225.7,517.2 234.0,504.2 214.1,489.8 205.1,502.8 191.4,493.9" fill="#90f830"/>
<g clip-path="url(#c48)" stroke="#50ae10" fill="none" stroke-linecap="butt">
<clipPath id="c49"><polygon points="191.4,493.9 217.5,454.1 226.0,461.0 216.0,478.0 214.1,489.8 205.1,502.8"/></clipPath>
<g clip-path="url(#c49)" stroke-width="1.15">
<path d="M217.7 416.4L268.4 497.5M214.3 418.6L265.0 499.6M209.8 421.4L260.5 502.5M206.8 423.3L257.4 504.4M202.5 426.0L253.2 507.0M197.7 428.9L248.4 510.0M195.6 430.3L246.3 511.3M191.3 432.9L242.0 514.0M186.8 435.7L237.5 516.8M184.2 437.4L234.8 518.5M180.2 439.9L230.9 521.0M175.1 443.1L225.8 524.1M171.0 445.6L221.7 526.7M168.4 447.2L219.1 528.3M164.9 449.5L215.5 530.5M159.6 452.8L210.2 533.9M157.0 454.4L207.6 535.5M152.6 457.1L203.3 538.2M148.8 459.5L199.5 540.6M222.8 424.7L219.5 426.8M219.5 426.8L214.9 429.6M211.9 431.5L207.6 434.2M207.6 434.2L202.9 437.1M200.7 438.5L196.5 441.1M180.2 451.3L176.1 453.8M173.6 455.4L170.0 457.7M170.0 457.7L164.7 461.0M164.7 461.0L162.1 462.6M162.1 462.6L157.8 465.3M157.8 465.3L153.9 467.7M218.3 434.9L215.2 436.8M215.2 436.8L211.0 439.5M204.1 443.8L199.8 446.4M199.8 446.4L195.3 449.3M192.6 450.9L188.7 453.4M188.7 453.4L183.6 456.6M183.6 456.6L179.5 459.2M176.9 460.8L173.3 463.0M173.3 463.0L168.0 466.3M165.4 467.9L161.1 470.6M161.1 470.6L157.3 473.0M229.2 434.7L225.8 436.9M218.2 441.6L213.9 444.3M213.9 444.3L209.2 447.2M209.2 447.2L207.0 448.6M202.8 451.2L198.3 454.0M198.3 454.0L195.6 455.7M195.6 455.7L191.6 458.2M191.6 458.2L186.5 461.4M186.5 461.4L182.4 463.9M182.4 463.9L179.9 465.5M171.0 471.1L168.4 472.7M164.1 475.4L160.3 477.8M220.7 445.6L216.5 448.3M216.5 448.3L211.7 451.3M211.7 451.3L209.6 452.6M205.3 455.3L200.8 458.1M200.8 458.1L198.1 459.7M189.1 465.4L185.0 468.0M185.0 468.0L182.4 469.6M182.4 469.6L178.8 471.8M170.9 476.7L166.6 479.4M166.6 479.4L162.8 481.8M234.8 443.8L231.4 445.9M223.8 450.6L219.6 453.3M214.8 456.2L212.7 457.6M208.4 460.2L203.9 463.0M203.9 463.0L201.2 464.7M201.2 464.7L197.3 467.2M197.3 467.2L192.2 470.4M192.2 470.4L188.1 472.9M185.5 474.5L181.9 476.8M237.6 448.3L234.3 450.5M229.8 453.3L226.7 455.2M222.4 457.9L217.7 460.8M217.7 460.8L215.5 462.2M215.5 462.2L211.3 464.8M211.3 464.8L206.8 467.6M206.8 467.6L204.1 469.3M204.1 469.3L200.1 471.8M184.8 481.4L179.5 484.7M240.3 452.7L237.0 454.8M237.0 454.8L232.4 457.6M229.4 459.5L225.1 462.2M225.1 462.2L220.4 465.1M220.4 465.1L218.2 466.5M214.0 469.1L209.5 471.9M191.1 483.4L187.5 485.7M187.5 485.7L182.2 489.0M182.2 489.0L179.6 490.6M179.6 490.6L175.3 493.3M175.3 493.3L171.4 495.7M242.9 456.8L239.6 458.9M235.0 461.8L232.0 463.7M232.0 463.7L227.7 466.3M227.7 466.3L223.0 469.3M223.0 469.3L220.8 470.6M220.8 470.6L216.6 473.3M216.6 473.3L212.1 476.1M212.1 476.1L209.4 477.8M200.3 483.4L196.2 486.0M193.7 487.6L190.1 489.8M190.1 489.8L184.8 493.2M182.2 494.8L177.9 497.5M177.9 497.5L174.0 499.9M245.6 461.0L242.2 463.1M242.2 463.1L237.7 465.9M219.2 477.5L214.7 480.3M203.0 487.6L198.9 490.2M196.3 491.8L192.7 494.0M187.4 497.3L184.8 499.0M240.6 470.7L237.6 472.6M237.6 472.6L233.3 475.3M233.3 475.3L228.6 478.3M228.6 478.3L226.4 479.6M226.4 479.6L222.2 482.2M222.2 482.2L217.7 485.1M217.7 485.1L215.0 486.7M215.0 486.7L211.0 489.2M211.0 489.2L205.9 492.4M205.9 492.4L201.8 495.0M190.4 502.1L187.8 503.7M183.5 506.4L179.6 508.8M252.4 472.0L249.0 474.1M249.0 474.1L244.5 476.9M244.5 476.9L241.5 478.8M232.4 484.5L230.3 485.8M221.5 491.3L218.9 493.0M218.9 493.0L214.9 495.4M205.7 501.2L203.2 502.8M199.6 505.0L194.3 508.3M194.3 508.3L191.7 509.9M187.3 512.6L183.5 515.0M251.6 478.2L247.1 481.0M239.8 485.6L235.0 488.6M235.0 488.6L232.9 489.9M221.4 497.1L217.5 499.5M217.5 499.5L212.4 502.7M202.2 509.1L196.9 512.4M189.9 516.8L186.1 519.2M257.0 479.4L253.7 481.5M241.8 488.9L237.1 491.9M234.9 493.2L230.7 495.9M214.4 506.0L210.3 508.6M207.8 510.2L204.2 512.4M204.2 512.4L198.9 515.7M198.9 515.7L196.3 517.3M196.3 517.3L192.0 520.1M192.0 520.1L188.1 522.4M253.2 490.9L250.2 492.8M250.2 492.8L245.9 495.4M245.9 495.4L241.2 498.4M241.2 498.4L239.0 499.7M239.0 499.7L234.8 502.4M234.8 502.4L230.3 505.2M230.3 505.2L227.6 506.9M227.6 506.9L223.6 509.4M218.5 512.6L214.4 515.1M211.9 516.7L208.3 518.9M203.0 522.3L200.4 523.9M196.1 526.6L192.2 529.0M255.2 494.0L252.2 496.0M243.1 501.6L241.0 502.9M236.7 505.6L232.2 508.4M232.2 508.4L229.6 510.1M229.6 510.1L225.6 512.5M225.6 512.5L220.5 515.7M205.0 525.4L202.4 527.1"/>
</g>
<g stroke-width="1.15">
<path d="M212.7 458.2L219.5 484.3M201.7 473.3L218.2 477.4M203.1 483.0L214.0 478.0M229.2 463.7L223.7 477.4M196.0 488.0L208.0 487.0L214.0 490.0M203.0 496.0L200.0 488.0M242.0 475.0L236.0 470.0M222.0 460.0L226.0 470.0L218.0 470.0"/>
</g>
<g stroke-width="1.15">
<path d="M218.2 469.2L242.9 484.3L233.3 502.1L215.4 491.2L218.2 469.2"/>
</g>
<clipPath id="c50"><polygon points="218.2,469.2 242.9,484.3 238.0,492.0 216.5,482.0"/></clipPath>
<g clip-path="url(#c50)" stroke-width="1.15">
<path d="M262.3 461.4L242.3 516.2M259.4 460.4L239.5 515.2M256.6 459.4L236.7 514.2M253.8 458.3L233.9 513.1M250.9 457.3L231.0 512.1M248.2 456.3L228.2 511.1M245.4 455.3L225.5 510.1M242.5 454.2L222.6 509.0M239.8 453.2L219.9 508.1M237.0 452.2L217.0 507.0M234.1 451.2L214.2 506.0M231.1 450.1L211.1 504.9M228.4 449.1L208.5 503.9M225.6 448.1L205.6 502.9M222.6 447.0L202.7 501.8M219.8 446.0L199.9 500.8M217.1 445.0L197.2 499.8M239.2 419.4L236.4 418.3M225.8 447.3L222.9 446.3M241.1 484.3L238.3 483.3M215.7 475.1L212.8 474.0M210.4 507.0L207.7 506.0M204.9 504.9L201.9 503.9M201.9 503.9L199.1 502.9M199.1 502.9L196.4 501.9M212.5 536.7L209.8 535.7M209.8 535.7L207.0 534.7M189.8 528.4L187.1 527.5"/>
</g>
<clipPath id="c51"><polygon points="216.5,482.0 238.0,492.0 233.3,502.1 215.4,491.2"/></clipPath>
<g clip-path="url(#c51)" stroke-width="1.15">
<path d="M210.6 463.2L258.3 482.5M209.7 465.5L257.3 484.8M208.7 468.0L256.3 487.2M207.7 470.5L255.3 489.7M206.8 472.7L254.4 492.0M205.8 475.2L253.4 494.4M204.8 477.6L252.5 496.9M203.8 480.1L251.4 499.4M202.9 482.3L250.6 501.6M202.0 484.7L249.6 504.0M201.0 487.2L248.6 506.4M199.9 489.7L247.6 509.0M199.0 492.2L246.6 511.4M198.1 494.4L245.7 513.6M197.0 497.0L244.6 516.2M196.1 499.3L243.7 518.6M195.0 501.8L242.7 521.1M283.1 509.2L282.1 511.7M263.4 484.6L262.5 486.8M259.6 494.0L258.6 496.5M253.7 508.5L252.7 511.1M251.7 513.5L250.8 515.7M248.8 520.6L247.8 523.1M220.5 503.5L219.5 506.1M219.5 506.1L218.6 508.4M200.9 476.0L199.9 478.5M177.9 455.5L176.9 458.0M174.0 465.2L173.0 467.7M167.2 481.9L166.1 484.5"/>
</g>
</g>
<polygon points="217.5,454.1 230.5,463.7 242.9,474.7 248.4,482.9 253.8,496.6 236.7,524.8 225.7,517.2 234.0,504.2 214.1,489.8 205.1,502.8 191.4,493.9" fill="none" stroke="#50ae10" stroke-width="1.2"/>
<clipPath id="c52"><polygon points="143.5,490.6 190.6,524.7 178.2,542.9 140.6,517.6 125.3,532.9 118.2,537.1 108.2,528.2 120.0,515.3"/></clipPath>
<polygon points="143.5,490.6 190.6,524.7 178.2,542.9 140.6,517.6 125.3,532.9 118.2,537.1 108.2,528.2 120.0,515.3" fill="#d8844c"/>
<g clip-path="url(#c52)" stroke="#8a4814" fill="none" stroke-linecap="butt">
<clipPath id="c53"><rect x="107" y="489" width="85" height="55"/></clipPath>
<g clip-path="url(#c53)" stroke-width="1.2">
<path d="M120.6 422.0L248.3 514.8M118.9 424.3L246.7 517.1M116.3 427.9L244.0 520.7M114.6 430.2L242.4 523.0M111.9 433.9L239.7 526.7M110.6 435.7L238.4 528.5M108.0 439.3L235.7 532.1M106.6 441.3L234.3 534.1M103.7 445.3L231.4 538.1M101.7 448.0L229.4 540.8M100.4 449.7L228.2 542.5M97.8 453.3L225.5 546.1M96.2 455.5L223.9 548.3M93.9 458.8L221.6 551.6M91.5 462.1L219.2 554.9M90.1 464.0L217.8 556.7M88.0 466.9L215.7 559.7M86.1 469.5L213.8 562.3M84.0 472.3L211.7 565.1M81.5 475.8L209.2 568.6M79.8 478.1L207.5 570.9M77.8 480.9L205.5 573.7M75.2 484.5L202.9 577.3M73.5 486.8L201.2 579.6M71.4 489.7L199.1 582.5M69.4 492.5L197.1 585.3M66.8 496.1L194.5 588.9M65.3 498.1L193.0 590.9M62.9 501.5L190.6 594.3M60.5 504.7L188.2 597.5M58.8 507.0L186.5 599.8M57.1 509.4L184.8 602.2M55.2 512.1L182.9 604.9M52.6 515.6L180.3 608.4M51.0 517.8L178.7 610.6M132.3 430.6L130.7 432.8M128.0 436.5L126.4 438.7M126.4 438.7L123.7 442.5M122.4 444.2L119.8 447.9M119.8 447.9L118.3 449.9M118.3 449.9L115.4 453.8M115.4 453.8L113.5 456.5M113.5 456.5L112.2 458.3M105.6 467.3L103.2 470.7M103.2 470.7L101.9 472.5M101.9 472.5L99.8 475.4M99.8 475.4L97.8 478.0M95.8 480.9L93.3 484.3M93.3 484.3L91.6 486.7M91.6 486.7L89.6 489.5M89.6 489.5L86.9 493.1M85.3 495.3L83.2 498.2M83.2 498.2L81.1 501.1M81.1 501.1L78.5 504.6M77.1 506.6L74.6 510.0M72.3 513.2L70.6 515.6M70.6 515.6L68.8 518.0M140.1 436.3L138.5 438.5M138.5 438.5L135.9 442.2M135.9 442.2L134.2 444.4M131.5 448.1L130.2 449.9M126.1 455.5L123.3 459.5M123.3 459.5L121.3 462.2M121.3 462.2L120.0 463.9M117.4 467.5L115.8 469.8M115.8 469.8L113.4 473.0M113.4 473.0L111.0 476.3M109.7 478.2L107.6 481.1M105.7 483.7L103.6 486.5M103.6 486.5L101.1 490.0M99.4 492.3L97.4 495.1M97.4 495.1L94.7 498.8M94.7 498.8L93.1 501.0M93.1 501.0L91.0 503.9M88.9 506.7L86.3 510.3M86.3 510.3L84.9 512.3M84.9 512.3L82.4 515.7M82.4 515.7L80.1 518.9M80.1 518.9L78.4 521.2M78.4 521.2L76.6 523.7M76.6 523.7L74.7 526.3M74.7 526.3L72.1 529.8M146.5 440.9L144.9 443.1M142.2 446.8L140.6 449.0M140.6 449.0L137.9 452.8M136.6 454.5L133.9 458.2M133.9 458.2L132.5 460.2M132.5 460.2L129.6 464.1M129.6 464.1L127.7 466.8M127.7 466.8L126.4 468.6M126.4 468.6L123.8 472.2M123.8 472.2L122.2 474.4M119.8 477.6L117.4 481.0M116.1 482.8L113.9 485.7M113.9 485.7L112.0 488.3M112.0 488.3L110.0 491.2M110.0 491.2L107.5 494.6M107.5 494.6L105.8 497.0M103.7 499.8L101.1 503.4M101.1 503.4L99.5 505.6M99.5 505.6L97.3 508.5M95.3 511.4L92.7 514.9M88.8 520.3L86.4 523.5M86.4 523.5L84.8 525.9M81.1 530.9L78.5 534.5M151.3 444.4L149.7 446.6M149.7 446.6L147.1 450.3M145.4 452.5L142.7 456.3M138.8 461.7L137.3 463.7M137.3 463.7L134.5 467.6M134.5 467.6L132.5 470.3M132.5 470.3L131.2 472.1M127.0 477.9L124.6 481.2M124.6 481.2L122.2 484.5M120.9 486.3L118.8 489.2M112.3 498.1L110.6 500.5M105.9 506.9L104.3 509.2M102.2 512.1L100.1 514.9M97.6 518.4L96.1 520.5M93.6 523.8L91.3 527.1M85.9 534.4L83.3 538.0M83.3 538.0L81.8 540.1M158.1 449.3L156.5 451.6M156.5 451.6L153.8 455.2M152.2 457.5L149.5 461.2M144.1 468.6L141.2 472.6M135.4 480.6L133.8 482.8M133.8 482.8L131.4 486.1M125.5 494.1L123.6 496.8M123.6 496.8L121.6 499.6M121.6 499.6L119.1 503.0M119.1 503.0L117.4 505.4M112.7 511.8L111.0 514.1M111.0 514.1L108.9 517.0M108.9 517.0L106.9 519.8M106.9 519.8L104.3 523.3M104.3 523.3L102.8 525.4M102.8 525.4L100.4 528.7M98.0 532.0L96.4 534.3M96.4 534.3L94.6 536.7M94.6 536.7L92.7 539.3M92.7 539.3L90.1 542.9M90.1 542.9L88.5 545.1M164.3 453.8L162.7 456.1M160.0 459.7L158.4 462.0M158.4 462.0L155.7 465.7M154.4 467.5L151.8 471.1M147.4 477.1L145.5 479.8M145.5 479.8L144.2 481.5M144.2 481.5L141.6 485.1M140.0 487.3L137.6 490.6M135.2 493.9L133.9 495.7M133.9 495.7L131.7 498.7M131.7 498.7L129.8 501.3M127.8 504.1L125.3 507.6M125.3 507.6L123.6 509.9M123.6 509.9L121.6 512.7M121.6 512.7L118.9 516.3M117.3 518.6L115.2 521.5M110.5 527.9L109.1 529.9M109.1 529.9L106.6 533.3M106.6 533.3L104.3 536.5M102.6 538.8L100.8 541.2M100.8 541.2L98.9 543.9M96.3 547.4L94.8 549.6M170.8 458.5L169.2 460.8M164.9 466.7L162.2 470.4M162.2 470.4L160.9 472.2M158.2 475.8L156.8 477.8M153.9 481.8L152.0 484.5M152.0 484.5L150.7 486.2M146.5 492.0L144.1 495.3M144.1 495.3L141.7 498.6M140.4 500.5L138.2 503.4M136.3 506.0L134.3 508.8M130.1 514.6L128.0 517.4M128.0 517.4L125.4 521.0M123.8 523.3L121.6 526.2M117.0 532.6L115.5 534.6M115.5 534.6L113.1 538.0M113.1 538.0L110.7 541.2M110.7 541.2L109.1 543.5M109.1 543.5L107.3 545.9M107.3 545.9L105.4 548.6M102.8 552.1L101.2 554.3M177.9 463.7L176.3 466.0M172.0 471.9L169.3 475.6M168.0 477.4L165.4 481.0M165.4 481.0L163.9 483.0M163.9 483.0L161.1 487.0M159.1 489.7L157.8 491.4M151.2 500.5L148.8 503.8M148.8 503.8L147.5 505.6M147.5 505.6L145.4 508.6M145.4 508.6L143.5 511.2M141.4 514.0L138.9 517.5M130.9 528.5L128.8 531.4M122.7 539.8L120.2 543.1M120.2 543.1L117.9 546.4M114.4 551.1L112.5 553.8M112.5 553.8L109.9 557.3M109.9 557.3L108.4 559.5M183.2 467.5L181.6 469.8M181.6 469.8L178.9 473.4M178.9 473.4L177.3 475.7M174.6 479.4L173.3 481.2M170.6 484.8L169.2 486.8M164.3 493.5L163.1 495.2M158.8 501.0L156.5 504.3M154.1 507.6L152.7 509.4M152.7 509.4L150.6 512.4M148.7 515.0L146.7 517.8M144.1 521.3L142.4 523.6M142.4 523.6L140.4 526.4M137.8 530.0L136.1 532.3M136.1 532.3L134.0 535.2M134.0 535.2L132.0 538.0M132.0 538.0L129.4 541.6M129.4 541.6L127.9 543.6M125.5 547.0L123.1 550.2M123.1 550.2L121.4 552.5M121.4 552.5L119.7 554.9M119.7 554.9L117.8 557.6M189.7 472.2L188.0 474.5M188.0 474.5L185.4 478.1M185.4 478.1L183.7 480.4M181.0 484.1L179.7 485.9M177.1 489.5L175.6 491.5M165.3 505.7L162.9 509.0M160.5 512.3L159.2 514.1M159.2 514.1L157.1 517.1M157.1 517.1L155.2 519.7M153.1 522.5L150.6 526.0M148.9 528.3L146.9 531.1M146.9 531.1L144.2 534.7M144.2 534.7L142.6 537.0M135.9 546.3L134.4 548.3M134.4 548.3L131.9 551.7M131.9 551.7L129.6 554.9M129.6 554.9L127.9 557.2M127.9 557.2L126.1 559.6M126.1 559.6L124.2 562.3M124.2 562.3L121.7 565.8M196.2 477.0L194.6 479.2M191.9 482.9L190.3 485.2M190.3 485.2L187.6 488.9M186.3 490.7L183.7 494.3M183.7 494.3L182.2 496.3M179.3 500.3L177.4 503.0M173.5 508.3L171.9 510.5M171.9 510.5L169.5 513.8M169.5 513.8L167.1 517.1M167.1 517.1L165.8 518.9M165.8 518.9L163.6 521.8M163.6 521.8L161.7 524.5M161.7 524.5L159.7 527.3M159.7 527.3L157.2 530.7M157.2 530.7L155.5 533.1M153.5 535.9L150.8 539.5M149.2 541.8L147.1 544.7M147.1 544.7L145.0 547.5M142.4 551.0L141.0 553.1M141.0 553.1L138.5 556.4M136.2 559.7L134.5 562.0M130.8 567.0L128.2 570.6M197.4 490.3L194.7 494.0M190.7 499.4L189.3 501.4M189.3 501.4L186.4 505.4M186.4 505.4L184.4 508.1M184.4 508.1L183.2 509.8M183.2 509.8L180.6 513.4M178.9 515.7L176.6 518.9M176.6 518.9L174.2 522.2M174.2 522.2L172.8 524.1M172.8 524.1L170.7 527.0M170.7 527.0L168.8 529.6M168.8 529.6L166.8 532.4M166.8 532.4L164.3 535.9M164.3 535.9L162.5 538.2M160.5 541.0L157.9 544.6M152.1 552.6L149.5 556.2M149.5 556.2L148.0 558.2M141.5 567.1L139.8 569.5M139.8 569.5L137.9 572.2M137.9 572.2L135.3 575.7M135.3 575.7L133.7 577.9M210.4 487.3L208.8 489.6M208.8 489.6L206.1 493.2M206.1 493.2L204.5 495.5M201.8 499.2L200.5 501.0M197.9 504.6L196.4 506.6M196.4 506.6L193.5 510.6M193.5 510.6L191.6 513.3M190.3 515.0L187.7 518.6M187.7 518.6L186.1 520.8M186.1 520.8L183.7 524.1M183.7 524.1L181.3 527.4M181.3 527.4L180.0 529.2M180.0 529.2L177.8 532.2M177.8 532.2L175.9 534.8M171.4 541.1L169.7 543.4M167.7 546.2L165.0 549.8M165.0 549.8L163.4 552.1M163.4 552.1L161.3 555.0M161.3 555.0L159.2 557.8M159.2 557.8L156.6 561.4M156.6 561.4L155.2 563.4M155.2 563.4L152.7 566.7M152.7 566.7L150.4 570.0M146.9 574.7L145.0 577.4M145.0 577.4L142.4 580.9M216.2 491.5L214.6 493.8M211.9 497.4L210.3 499.7M207.6 503.4L206.3 505.2M206.3 505.2L203.6 508.8M203.6 508.8L202.2 510.8M202.2 510.8L199.3 514.8M199.3 514.8L197.3 517.5M197.3 517.5L196.1 519.2M193.5 522.8L191.9 525.0M191.9 525.0L189.5 528.3M187.1 531.6L185.7 533.4M185.7 533.4L183.6 536.4M183.6 536.4L181.7 539.0M181.7 539.0L179.7 541.8M170.8 554.0L169.1 556.3M169.1 556.3L167.0 559.2M165.0 562.0L162.4 565.6M162.4 565.6L160.9 567.6M160.9 567.6L158.5 570.9M158.5 570.9L156.1 574.2M156.1 574.2L154.5 576.5M154.5 576.5L152.7 578.9M152.7 578.9L150.8 581.5M150.8 581.5L148.2 585.1M148.2 585.1L146.6 587.3M223.0 496.5L221.4 498.7M221.4 498.7L218.7 502.4M217.1 504.6L214.4 508.4M213.1 510.1L210.5 513.8M210.5 513.8L209.0 515.8M204.2 522.4L202.9 524.2M202.9 524.2L200.3 527.8M200.3 527.8L198.7 530.0M198.7 530.0L196.3 533.2M196.3 533.2L193.9 536.6M193.9 536.6L192.6 538.4M192.6 538.4L190.5 541.3M188.5 543.9L186.5 546.8M186.5 546.8L184.0 550.2M184.0 550.2L182.3 552.6M177.6 559.0L176.0 561.2M176.0 561.2L173.9 564.1M173.9 564.1L171.8 567.0M171.8 567.0L169.2 570.5M169.2 570.5L167.8 572.5M167.8 572.5L165.3 575.9M163.0 579.1L161.3 581.5M161.3 581.5L159.5 583.9M159.5 583.9L157.6 586.5M157.6 586.5L155.0 590.1M155.0 590.1L153.5 592.2M230.6 502.0L229.0 504.2M226.3 507.9L224.7 510.1M224.7 510.1L222.0 513.9M222.0 513.9L220.7 515.6M218.1 519.3L216.6 521.3M216.6 521.3L213.7 525.2M211.8 527.9L210.5 529.7M203.9 538.7L201.5 542.1M200.2 543.9L198.0 546.8M198.0 546.8L196.1 549.5M196.1 549.5L194.1 552.3M194.1 552.3L191.6 555.7M191.6 555.7L189.9 558.1M189.9 558.1L187.8 560.9M187.8 560.9L185.2 564.5M185.2 564.5L183.6 566.8M179.4 572.5L176.8 576.0M176.8 576.0L175.4 578.1M170.6 584.7L168.9 587.0M168.9 587.0L167.1 589.4M167.1 589.4L165.2 592.0M165.2 592.0L162.6 595.6M237.1 506.7L235.5 509.0M235.5 509.0L232.8 512.6M232.8 512.6L231.2 514.9M231.2 514.9L228.5 518.6M228.5 518.6L227.2 520.4M227.2 520.4L224.5 524.0M223.1 526.0L220.2 530.0M218.3 532.7L217.0 534.4M217.0 534.4L214.4 538.0M214.4 538.0L212.8 540.2M212.8 540.2L210.4 543.5M210.4 543.5L208.0 546.8M208.0 546.8L206.7 548.6M206.7 548.6L204.5 551.5M204.5 551.5L202.6 554.2M200.6 557.0L198.1 560.4M196.4 562.8L194.3 565.6M194.3 565.6L191.7 569.2M191.7 569.2L190.1 571.5M190.1 571.5L188.0 574.4M188.0 574.4L185.9 577.2M185.9 577.2L183.3 580.7M181.9 582.8L179.4 586.1M179.4 586.1L177.1 589.4M177.1 589.4L175.4 591.7M173.6 594.1L171.7 596.7M171.7 596.7L169.1 600.3M169.1 600.3L167.5 602.5"/>
</g>
</g>
<polygon points="143.5,490.6 190.6,524.7 178.2,542.9 140.6,517.6 125.3,532.9 118.2,537.1 108.2,528.2 120.0,515.3" fill="none" stroke="#8a4814" stroke-width="1.2"/>
<polyline points="57.7,466.8 79.6,477.7 91.5,485.7 106.5,503.6" fill="none" stroke="#ff4a2a" stroke-width="1.5" stroke-dasharray="2.2,1"/>
<polyline points="125.3,395.7 135.0,399.5 148.1,401.9 164.3,409.1 168.4,413.4 181.8,417.9 188.5,424.0 193.9,435.8 217.5,454.1 230.5,463.7 242.9,474.7 248.4,482.9 253.8,496.6" fill="none" stroke="#ff4a2a" stroke-width="1.5" stroke-dasharray="2.2,1"/>
<polyline points="217.2,453.6 191.2,494.1" fill="none" stroke="#ff4a2a" stroke-width="1.5" stroke-dasharray="2.2,1"/>
<polyline points="118.8,515.3 128.8,527.6" fill="none" stroke="#ff4a2a" stroke-width="1.4"/>
<polyline points="175.3,513.5 161.2,530.0" fill="none" stroke="#ff4a2a" stroke-width="1.4"/>
<g transform="translate(78.2,391.1)"><polygon points="-3.2,-0.9 0,-3.4 3.2,-0.9 3.2,3.0 -3.2,3.0" fill="#e8179a"/><polyline points="-3.6,-0.7 0,-3.6 3.6,-0.7" fill="none" stroke="#1c3030" stroke-width="0.8"/><rect x="-3.3" y="2.8" width="6.6" height="1.05" fill="#1c2626"/><text x="0.1" y="2.3" font-family="Liberation Sans" font-size="5.6" font-weight="bold" fill="#e6f6f0" text-anchor="middle">C</text></g>
<g transform="translate(68.8,412.7)"><polygon points="-3.2,-0.9 0,-3.4 3.2,-0.9 3.2,3.0 -3.2,3.0" fill="#e8179a"/><polyline points="-3.6,-0.7 0,-3.6 3.6,-0.7" fill="none" stroke="#1c3030" stroke-width="0.8"/><rect x="-3.3" y="2.8" width="6.6" height="1.05" fill="#1c2626"/><text x="0.1" y="2.3" font-family="Liberation Sans" font-size="5.6" font-weight="bold" fill="#e6f6f0" text-anchor="middle">C</text></g>
<g transform="translate(88.6,418.2)"><polygon points="-3.2,-0.9 0,-3.4 3.2,-0.9 3.2,3.0 -3.2,3.0" fill="#e8179a"/><polyline points="-3.6,-0.7 0,-3.6 3.6,-0.7" fill="none" stroke="#1c3030" stroke-width="0.8"/><rect x="-3.3" y="2.8" width="6.6" height="1.05" fill="#1c2626"/><text x="0.1" y="2.3" font-family="Liberation Sans" font-size="5.6" font-weight="bold" fill="#e6f6f0" text-anchor="middle">C</text></g>
<g transform="translate(117.5,421.4)"><polygon points="-3.2,-0.9 0,-3.4 3.2,-0.9 3.2,3.0 -3.2,3.0" fill="#e8179a"/><polyline points="-3.6,-0.7 0,-3.6 3.6,-0.7" fill="none" stroke="#1c3030" stroke-width="0.8"/><rect x="-3.3" y="2.8" width="6.6" height="1.05" fill="#1c2626"/><text x="0.1" y="2.3" font-family="Liberation Sans" font-size="5.6" font-weight="bold" fill="#e6f6f0" text-anchor="middle">C</text></g>
<g transform="translate(132.4,412.2)"><polygon points="-3.2,-0.9 0,-3.4 3.2,-0.9 3.2,3.0 -3.2,3.0" fill="#e8179a"/><polyline points="-3.6,-0.7 0,-3.6 3.6,-0.7" fill="none" stroke="#1c3030" stroke-width="0.8"/><rect x="-3.3" y="2.8" width="6.6" height="1.05" fill="#1c2626"/><text x="0.1" y="2.3" font-family="Liberation Sans" font-size="5.6" font-weight="bold" fill="#e6f6f0" text-anchor="middle">C</text></g>
<g transform="translate(145.0,414.5)"><polygon points="-3.2,-0.9 0,-3.4 3.2,-0.9 3.2,3.0 -3.2,3.0" fill="#e8179a"/><polyline points="-3.6,-0.7 0,-3.6 3.6,-0.7" fill="none" stroke="#1c3030" stroke-width="0.8"/><rect x="-3.3" y="2.8" width="6.6" height="1.05" fill="#1c2626"/><text x="0.1" y="2.3" font-family="Liberation Sans" font-size="5.6" font-weight="bold" fill="#e6f6f0" text-anchor="middle">C</text></g>
<g transform="translate(147.7,393.5)"><polygon points="-3.2,-0.9 0,-3.4 3.2,-0.9 3.2,3.0 -3.2,3.0" fill="#e8179a"/><polyline points="-3.6,-0.7 0,-3.6 3.6,-0.7" fill="none" stroke="#1c3030" stroke-width="0.8"/><rect x="-3.3" y="2.8" width="6.6" height="1.05" fill="#1c2626"/><text x="0.1" y="2.3" font-family="Liberation Sans" font-size="5.6" font-weight="bold" fill="#e6f6f0" text-anchor="middle">C</text></g>
<g transform="translate(155.9,382.1)"><polygon points="-3.2,-0.9 0,-3.4 3.2,-0.9 3.2,3.0 -3.2,3.0" fill="#e8179a"/><polyline points="-3.6,-0.7 0,-3.6 3.6,-0.7" fill="none" stroke="#1c3030" stroke-width="0.8"/><rect x="-3.3" y="2.8" width="6.6" height="1.05" fill="#1c2626"/><text x="0.1" y="2.3" font-family="Liberation Sans" font-size="5.6" font-weight="bold" fill="#e6f6f0" text-anchor="middle">C</text></g>
<g transform="translate(100.4,441.8)"><polygon points="-3.2,-0.9 0,-3.4 3.2,-0.9 3.2,3.0 -3.2,3.0" fill="#e8179a"/><polyline points="-3.6,-0.7 0,-3.6 3.6,-0.7" fill="none" stroke="#1c3030" stroke-width="0.8"/><rect x="-3.3" y="2.8" width="6.6" height="1.05" fill="#1c2626"/><text x="0.1" y="2.3" font-family="Liberation Sans" font-size="5.6" font-weight="bold" fill="#e6f6f0" text-anchor="middle">C</text></g>
<g transform="translate(171.5,449.7)"><polygon points="-3.2,-0.9 0,-3.4 3.2,-0.9 3.2,3.0 -3.2,3.0" fill="#22b48c"/><polyline points="-3.6,-0.7 0,-3.6 3.6,-0.7" fill="none" stroke="#1c3030" stroke-width="0.8"/><rect x="-3.3" y="2.8" width="6.6" height="1.05" fill="#1c2626"/><text x="0.1" y="2.3" font-family="Liberation Sans" font-size="5.6" font-weight="bold" fill="#e6f6f0" text-anchor="middle">E</text></g>
<g transform="translate(177.8,452.9)"><polygon points="-3.2,-0.9 0,-3.4 3.2,-0.9 3.2,3.0 -3.2,3.0" fill="#22b48c"/><polyline points="-3.6,-0.7 0,-3.6 3.6,-0.7" fill="none" stroke="#1c3030" stroke-width="0.8"/><rect x="-3.3" y="2.8" width="6.6" height="1.05" fill="#1c2626"/><text x="0.1" y="2.3" font-family="Liberation Sans" font-size="5.6" font-weight="bold" fill="#e6f6f0" text-anchor="middle">E</text></g>
<g transform="translate(186.8,412.7)"><polygon points="-3.2,-0.9 0,-3.4 3.2,-0.9 3.2,3.0 -3.2,3.0" fill="#22b48c"/><polyline points="-3.6,-0.7 0,-3.6 3.6,-0.7" fill="none" stroke="#1c3030" stroke-width="0.8"/><rect x="-3.3" y="2.8" width="6.6" height="1.05" fill="#1c2626"/><text x="0.1" y="2.3" font-family="Liberation Sans" font-size="5.6" font-weight="bold" fill="#e6f6f0" text-anchor="middle">E</text></g>
<g transform="translate(195.0,413.6)"><polygon points="-3.2,-0.9 0,-3.4 3.2,-0.9 3.2,3.0 -3.2,3.0" fill="#22b48c"/><polyline points="-3.6,-0.7 0,-3.6 3.6,-0.7" fill="none" stroke="#1c3030" stroke-width="0.8"/><rect x="-3.3" y="2.8" width="6.6" height="1.05" fill="#1c2626"/><text x="0.1" y="2.3" font-family="Liberation Sans" font-size="5.6" font-weight="bold" fill="#e6f6f0" text-anchor="middle">E</text></g>
<g transform="translate(190.1,415.5)"><polygon points="-3.2,-0.9 0,-3.4 3.2,-0.9 3.2,3.0 -3.2,3.0" fill="#22b48c"/><polyline points="-3.6,-0.7 0,-3.6 3.6,-0.7" fill="none" stroke="#1c3030" stroke-width="0.8"/><rect x="-3.3" y="2.8" width="6.6" height="1.05" fill="#1c2626"/><text x="0.1" y="2.3" font-family="Liberation Sans" font-size="5.6" font-weight="bold" fill="#e6f6f0" text-anchor="middle">E</text></g>
<g transform="translate(200.4,422.3)"><polygon points="-3.2,-0.9 0,-3.4 3.2,-0.9 3.2,3.0 -3.2,3.0" fill="#e8179a"/><polyline points="-3.6,-0.7 0,-3.6 3.6,-0.7" fill="none" stroke="#1c3030" stroke-width="0.8"/><rect x="-3.3" y="2.8" width="6.6" height="1.05" fill="#1c2626"/><text x="0.1" y="2.3" font-family="Liberation Sans" font-size="5.6" font-weight="bold" fill="#e6f6f0" text-anchor="middle">C</text></g>
<g transform="translate(224.7,451.5)"><polygon points="-3.2,-0.9 0,-3.4 3.2,-0.9 3.2,3.0 -3.2,3.0" fill="#22b48c"/><polyline points="-3.6,-0.7 0,-3.6 3.6,-0.7" fill="none" stroke="#1c3030" stroke-width="0.8"/><rect x="-3.3" y="2.8" width="6.6" height="1.05" fill="#1c2626"/><text x="0.1" y="2.3" font-family="Liberation Sans" font-size="5.6" font-weight="bold" fill="#e6f6f0" text-anchor="middle">E</text></g>
<g transform="translate(202.4,472.7)"><polygon points="-3.2,-0.9 0,-3.4 3.2,-0.9 3.2,3.0 -3.2,3.0" fill="#22b48c"/><polyline points="-3.6,-0.7 0,-3.6 3.6,-0.7" fill="none" stroke="#1c3030" stroke-width="0.8"/><rect x="-3.3" y="2.8" width="6.6" height="1.05" fill="#1c2626"/><text x="0.1" y="2.3" font-family="Liberation Sans" font-size="5.6" font-weight="bold" fill="#e6f6f0" text-anchor="middle">E</text></g>
<g transform="translate(148.2,504.7)"><polygon points="-3.2,-0.9 0,-3.4 3.2,-0.9 3.2,3.0 -3.2,3.0" fill="#22b48c"/><polyline points="-3.6,-0.7 0,-3.6 3.6,-0.7" fill="none" stroke="#1c3030" stroke-width="0.8"/><rect x="-3.3" y="2.8" width="6.6" height="1.05" fill="#1c2626"/><text x="0.1" y="2.3" font-family="Liberation Sans" font-size="5.6" font-weight="bold" fill="#e6f6f0" text-anchor="middle">E</text></g>
<g transform="translate(163.0,514.7)"><polygon points="-3.2,-0.9 0,-3.4 3.2,-0.9 3.2,3.0 -3.2,3.0" fill="#22b48c"/><polyline points="-3.6,-0.7 0,-3.6 3.6,-0.7" fill="none" stroke="#1c3030" stroke-width="0.8"/><rect x="-3.3" y="2.8" width="6.6" height="1.05" fill="#1c2626"/><text x="0.1" y="2.3" font-family="Liberation Sans" font-size="5.6" font-weight="bold" fill="#e6f6f0" text-anchor="middle">E</text></g>
<g transform="translate(112.8,517.5)"><polygon points="-3.2,-0.9 0,-3.4 3.2,-0.9 3.2,3.0 -3.2,3.0" fill="#22b48c"/><polyline points="-3.6,-0.7 0,-3.6 3.6,-0.7" fill="none" stroke="#1c3030" stroke-width="0.8"/><rect x="-3.3" y="2.8" width="6.6" height="1.05" fill="#1c2626"/><text x="0.1" y="2.3" font-family="Liberation Sans" font-size="5.6" font-weight="bold" fill="#e6f6f0" text-anchor="middle">E</text></g>
<g transform="translate(115.4,519.5)"><polygon points="-3.2,-0.9 0,-3.4 3.2,-0.9 3.2,3.0 -3.2,3.0" fill="#e8179a"/><polyline points="-3.6,-0.7 0,-3.6 3.6,-0.7" fill="none" stroke="#1c3030" stroke-width="0.8"/><rect x="-3.3" y="2.8" width="6.6" height="1.05" fill="#1c2626"/><text x="0.1" y="2.3" font-family="Liberation Sans" font-size="5.6" font-weight="bold" fill="#e6f6f0" text-anchor="middle">C</text></g>
<clipPath id="c54"><polygon points="343.0,363.0 373.0,349.8 376.1,360.6 385.6,360.4 383.0,408.4 356.8,414.1"/></clipPath>
<polygon points="343.0,363.0 373.0,349.8 376.1,360.6 385.6,360.4 383.0,408.4 356.8,414.1" fill="#fce9d9"/>
<g clip-path="url(#c54)" stroke="#f0c288" fill="none" stroke-linecap="butt">
<g stroke-width="1.56">
<path d="M366.4 361.8L371.9 375.6M376.1 360.6L385.1 376.2M366.4 361.8L385.6 361.0M368.8 366.6L385.6 366.0M370.6 370.8L385.6 370.5M351.4 376.9L385.7 375.0M352.0 381.7L385.7 380.0M352.8 386.5L385.7 385.0M354.0 391.3L385.7 390.0M357.4 395.5L385.7 393.0M351.4 376.9L353.2 387.1L357.4 395.5M362.8 377.5L365.8 395.5M374.9 375.6L377.3 395.5L378.5 410.0"/>
</g>
</g>
<polygon points="343.0,363.0 373.0,349.8 376.1,360.6 385.6,360.4 383.0,408.4 356.8,414.1" fill="none" stroke="#f0c288" stroke-width="1.2"/>
<clipPath id="c55"><polygon points="385.6,360.4 412.1,360.4 424.1,363.9 421.6,413.6 409.6,411.9 383.0,408.4"/></clipPath>
<polygon points="385.6,360.4 412.1,360.4 424.1,363.9 421.6,413.6 409.6,411.9 383.0,408.4" fill="#33f8f5"/>
<g clip-path="url(#c55)" stroke="#10a8a8" fill="none" stroke-linecap="butt">
<clipPath id="c56"><rect x="383" y="360" width="42" height="35"/></clipPath>
<g clip-path="url(#c56)" stroke-width="1.25">
<path d="M360.0 340.9L448.0 340.9M360.0 345.1L448.0 345.1M360.0 350.0L448.0 350.0M360.0 354.5L448.0 354.5M360.0 359.3L448.0 359.3M360.0 363.7L448.0 363.7M360.0 368.5L448.0 368.5M360.0 372.7L448.0 372.7M360.0 377.7L448.0 377.7M360.0 382.1L448.0 382.1M360.0 386.6L448.0 386.6M360.0 391.2L448.0 391.2M360.0 396.0L448.0 396.0M360.0 400.3L448.0 400.3M360.0 405.0L448.0 405.0M360.0 409.5L448.0 409.5M360.0 414.1L448.0 414.1M454.4 340.9L454.4 345.1M454.4 345.1L454.4 350.0M454.4 350.0L454.4 354.5M454.4 354.5L454.4 359.3M454.4 359.3L454.4 363.7M454.4 363.7L454.4 368.5M454.4 368.5L454.4 372.7M454.4 372.7L454.4 377.7M454.4 377.7L454.4 382.1M454.4 382.1L454.4 386.6M454.4 386.6L454.4 391.2M454.4 391.2L454.4 396.0M454.4 396.0L454.4 400.3M454.4 400.3L454.4 405.0M454.4 409.5L454.4 414.1M441.8 340.9L441.8 345.1M441.8 345.1L441.8 350.0M441.8 354.5L441.8 359.3M441.8 359.3L441.8 363.7M441.8 363.7L441.8 368.5M441.8 368.5L441.8 372.7M441.8 372.7L441.8 377.7M441.8 377.7L441.8 382.1M441.8 382.1L441.8 386.6M441.8 386.6L441.8 391.2M441.8 391.2L441.8 396.0M441.8 396.0L441.8 400.3M441.8 400.3L441.8 405.0M441.8 405.0L441.8 409.5M429.3 340.9L429.3 345.1M429.3 345.1L429.3 350.0M429.3 350.0L429.3 354.5M429.3 354.5L429.3 359.3M429.3 359.3L429.3 363.7M429.3 363.7L429.3 368.5M429.3 368.5L429.3 372.7M429.3 372.7L429.3 377.7M429.3 377.7L429.3 382.1M429.3 382.1L429.3 386.6M429.3 386.6L429.3 391.2M429.3 391.2L429.3 396.0M429.3 396.0L429.3 400.3M429.3 400.3L429.3 405.0M429.3 405.0L429.3 409.5M429.3 409.5L429.3 414.1M416.2 345.1L416.2 350.0M416.2 350.0L416.2 354.5M416.2 354.5L416.2 359.3M416.2 359.3L416.2 363.7M416.2 363.7L416.2 368.5M416.2 368.5L416.2 372.7M416.2 372.7L416.2 377.7M416.2 377.7L416.2 382.1M416.2 382.1L416.2 386.6M416.2 386.6L416.2 391.2M416.2 391.2L416.2 396.0M416.2 396.0L416.2 400.3M416.2 400.3L416.2 405.0M416.2 405.0L416.2 409.5M416.2 409.5L416.2 414.1M404.1 340.9L404.1 345.1M404.1 345.1L404.1 350.0M404.1 350.0L404.1 354.5M404.1 354.5L404.1 359.3M404.1 359.3L404.1 363.7M404.1 363.7L404.1 368.5M404.1 368.5L404.1 372.7M404.1 377.7L404.1 382.1M404.1 382.1L404.1 386.6M404.1 386.6L404.1 391.2M404.1 391.2L404.1 396.0M404.1 396.0L404.1 400.3M404.1 400.3L404.1 405.0M404.1 405.0L404.1 409.5M404.1 409.5L404.1 414.1M391.1 340.9L391.1 345.1M391.1 345.1L391.1 350.0M391.1 350.0L391.1 354.5M391.1 359.3L391.1 363.7M391.1 363.7L391.1 368.5M391.1 372.7L391.1 377.7M391.1 377.7L391.1 382.1M391.1 382.1L391.1 386.6M391.1 386.6L391.1 391.2M391.1 391.2L391.1 396.0M391.1 396.0L391.1 400.3M391.1 400.3L391.1 405.0M391.1 405.0L391.1 409.5M391.1 409.5L391.1 414.1M378.5 340.9L378.5 345.1M378.5 345.1L378.5 350.0M378.5 350.0L378.5 354.5M378.5 354.5L378.5 359.3M378.5 359.3L378.5 363.7M378.5 363.7L378.5 368.5M378.5 368.5L378.5 372.7M378.5 372.7L378.5 377.7M378.5 377.7L378.5 382.1M378.5 382.1L378.5 386.6M378.5 386.6L378.5 391.2M378.5 391.2L378.5 396.0M378.5 396.0L378.5 400.3M378.5 400.3L378.5 405.0M378.5 405.0L378.5 409.5M366.0 350.0L366.0 354.5M366.0 354.5L366.0 359.3M366.0 359.3L366.0 363.7M366.0 363.7L366.0 368.5M366.0 368.5L366.0 372.7M366.0 372.7L366.0 377.7M366.0 377.7L366.0 382.1M366.0 382.1L366.0 386.6M366.0 386.6L366.0 391.2M366.0 391.2L366.0 396.0M366.0 396.0L366.0 400.3M366.0 400.3L366.0 405.0M366.0 405.0L366.0 409.5M353.4 340.9L353.4 345.1M353.4 345.1L353.4 350.0M353.4 350.0L353.4 354.5M353.4 354.5L353.4 359.3M353.4 359.3L353.4 363.7M353.4 363.7L353.4 368.5M353.4 368.5L353.4 372.7M353.4 372.7L353.4 377.7M353.4 382.1L353.4 386.6M353.4 386.6L353.4 391.2M353.4 396.0L353.4 400.3M353.4 400.3L353.4 405.0M353.4 405.0L353.4 409.5"/>
</g>
<clipPath id="c57"><rect x="383" y="394" width="42" height="20"/></clipPath>
<g clip-path="url(#c57)" stroke-width="1.25">
<path d="M435.3 366.1L435.3 441.9M431.5 366.1L431.5 441.9M428.6 366.1L428.6 441.9M424.7 366.1L424.7 441.9M420.9 366.1L420.9 441.9M418.0 366.1L418.0 441.9M414.2 366.1L414.2 441.9M410.7 366.1L410.7 441.9M407.0 366.1L407.0 441.9M404.6 366.1L404.6 441.9M401.0 366.1L401.0 441.9M396.3 366.1L396.3 441.9M393.2 366.1L393.2 441.9M390.3 366.1L390.3 441.9M386.2 366.1L386.2 441.9M383.5 366.1L383.5 441.9M379.7 366.1L379.7 441.9M376.1 366.1L376.1 441.9M372.9 366.1L372.9 441.9M431.5 339.7L428.6 339.7M420.9 374.1L418.0 374.1M418.0 405.8L414.2 405.8M414.2 431.8L410.7 431.8M431.5 465.9L428.6 465.9M420.9 465.9L418.0 465.9M407.0 465.9L404.6 465.9M396.3 465.9L393.2 465.9"/>
</g>
<g stroke-width="1.25">
<path d="M383.0 394.5L424.0 395.5"/>
</g>
</g>
<polygon points="385.6,360.4 412.1,360.4 424.1,363.9 421.6,413.6 409.6,411.9 383.0,408.4" fill="none" stroke="#10a8a8" stroke-width="1.1"/>
<clipPath id="c58"><polygon points="424.1,363.9 459.4,374.1 476.6,380.1 500.6,384.4 528.0,381.0 523.7,422.1 528.9,424.7 519.4,436.7 476.6,427.3 474.9,435.0 476.6,445.0 475.0,464.1 473.8,460.4 451.9,456.8 408.1,444.6 409.6,411.9 421.6,413.6"/></clipPath>
<polygon points="424.1,363.9 459.4,374.1 476.6,380.1 500.6,384.4 528.0,381.0 523.7,422.1 528.9,424.7 519.4,436.7 476.6,427.3 474.9,435.0 476.6,445.0 475.0,464.1 473.8,460.4 451.9,456.8 408.1,444.6 409.6,411.9 421.6,413.6" fill="#9c52e4"/>
<g clip-path="url(#c58)" stroke="#6a1eb4" fill="none" stroke-linecap="butt">
<g stroke-width="1.49">
<path d="M423.0 368.2L462.0 368.2M423.0 373.7L462.0 373.7M423.0 378.5L462.0 378.5M423.0 383.3L462.0 383.3M423.0 388.1L462.0 388.1M423.0 392.9L500.0 393.6M423.0 397.0L484.5 399.8L501.0 384.7M444.0 366.0L443.3 397.0M460.5 372.0L459.8 397.7M475.6 379.0L475.6 399.0M475.6 385.4L499.0 385.4M475.6 389.5L499.0 389.5M450.9 404.6L457.0 399.0M436.5 404.6L450.9 404.6M436.5 397.0L436.5 404.6M484.5 401.2L472.8 423.1L476.2 425.8M483.0 401.2L494.8 402.5L492.7 417.0L491.3 424.5L501.0 427.2L501.0 432.7M479.0 414.2L492.7 417.0M494.8 402.5L501.0 384.7M514.6 382.0L514.6 420.0M518.8 382.0L518.8 420.0M522.9 382.0L522.9 420.0M510.5 382.0L510.5 420.4M510.5 401.2L527.0 401.2M510.5 404.6L527.0 404.6M510.5 420.4L528.4 424.5M491.3 416.2L510.5 420.4"/>
</g>
</g>
<polygon points="424.1,363.9 459.4,374.1 476.6,380.1 500.6,384.4 528.0,381.0 523.7,422.1 528.9,424.7 519.4,436.7 476.6,427.3 474.9,435.0 476.6,445.0 475.0,464.1 473.8,460.4 451.9,456.8 408.1,444.6 409.6,411.9 421.6,413.6" fill="none" stroke="#6a1eb4" stroke-width="1.2"/>
<clipPath id="c59"><polygon points="357.3,413.6 383.0,408.4 409.6,411.9 408.1,444.6 451.9,456.8 473.8,460.4 475.0,464.1 467.7,476.3 459.2,476.3 448.2,486.0 439.7,483.6 432.4,487.2 426.3,494.5 427.5,503.0 433.6,509.1 432.4,518.9 415.4,527.4 406.8,534.7 406.8,546.9 420.2,555.4 422.7,563.9 359.3,548.1 347.2,510.3 352.0,461.7"/></clipPath>
<polygon points="357.3,413.6 383.0,408.4 409.6,411.9 408.1,444.6 451.9,456.8 473.8,460.4 475.0,464.1 467.7,476.3 459.2,476.3 448.2,486.0 439.7,483.6 432.4,487.2 426.3,494.5 427.5,503.0 433.6,509.1 432.4,518.9 415.4,527.4 406.8,534.7 406.8,546.9 420.2,555.4 422.7,563.9 359.3,548.1 347.2,510.3 352.0,461.7" fill="#ae504c"/>
<g clip-path="url(#c59)" stroke="#6a1c20" fill="none" stroke-linecap="butt">
<g stroke-width="1.49">
<path d="M365.0 416.1L409.6 417.3M365.0 421.2L409.6 422.3M365.0 425.6L409.6 427.8M381.8 430.1L408.5 432.3M384.0 434.0L407.4 437.9M355.0 437.9L407.4 442.3M378.4 441.8L405.2 447.3M355.0 449.6L402.9 450.7L411.9 454.0M350.0 458.5L421.9 466.3M365.0 412.8L365.0 426.2M383.4 409.5L381.8 434.0L375.1 470.0L371.5 549.3M396.3 411.1L394.0 441.8M384.0 434.0L384.0 441.0M387.3 441.8L400.7 470.0M377.3 441.8L367.3 466.3M411.9 445.1L411.9 464.0M405.2 448.5L405.2 462.9M421.9 446.2L420.8 470.0M366.7 465.3L352.0 469.0M400.7 464.1L420.2 466.5L431.2 481.1M400.7 473.8L432.4 482.4M400.7 473.8L393.4 510.3L395.9 526.2L405.6 534.7M395.9 501.8L428.7 507.9M394.7 517.7L425.1 523.7M408.0 493.3L403.2 534.7M412.9 481.1L410.5 498.2M420.2 444.6L420.2 476.3M439.7 456.8L437.3 477.5M443.3 456.8L442.1 476.3M461.6 459.2L433.6 481.1M364.2 522.5L371.5 522.5M364.2 522.5L364.2 549.3M364.2 534.7L371.5 534.7"/>
</g>
</g>
<polygon points="357.3,413.6 383.0,408.4 409.6,411.9 408.1,444.6 451.9,456.8 473.8,460.4 475.0,464.1 467.7,476.3 459.2,476.3 448.2,486.0 439.7,483.6 432.4,487.2 426.3,494.5 427.5,503.0 433.6,509.1 432.4,518.9 415.4,527.4 406.8,534.7 406.8,546.9 420.2,555.4 422.7,563.9 359.3,548.1 347.2,510.3 352.0,461.7" fill="none" stroke="#6a1c20" stroke-width="1.2"/>
<g transform="translate(353.7,399.3)"><polygon points="-3.2,-0.9 0,-3.4 3.2,-0.9 3.2,3.0 -3.2,3.0" fill="#22b48c"/><polyline points="-3.6,-0.7 0,-3.6 3.6,-0.7" fill="none" stroke="#1c3030" stroke-width="0.8"/><rect x="-3.3" y="2.8" width="6.6" height="1.05" fill="#1c2626"/><text x="0.1" y="2.3" font-family="Liberation Sans" font-size="5.6" font-weight="bold" fill="#e6f6f0" text-anchor="middle">E</text></g>
<g transform="translate(353.7,429.1)"><polygon points="-3.2,-0.9 0,-3.4 3.2,-0.9 3.2,3.0 -3.2,3.0" fill="#22b48c"/><polyline points="-3.6,-0.7 0,-3.6 3.6,-0.7" fill="none" stroke="#1c3030" stroke-width="0.8"/><rect x="-3.3" y="2.8" width="6.6" height="1.05" fill="#1c2626"/><text x="0.1" y="2.3" font-family="Liberation Sans" font-size="5.6" font-weight="bold" fill="#e6f6f0" text-anchor="middle">E</text></g>
<g transform="translate(352.8,455.9)"><polygon points="-3.2,-0.9 0,-3.4 3.2,-0.9 3.2,3.0 -3.2,3.0" fill="#22b48c"/><polyline points="-3.6,-0.7 0,-3.6 3.6,-0.7" fill="none" stroke="#1c3030" stroke-width="0.8"/><rect x="-3.3" y="2.8" width="6.6" height="1.05" fill="#1c2626"/><text x="0.1" y="2.3" font-family="Liberation Sans" font-size="5.6" font-weight="bold" fill="#e6f6f0" text-anchor="middle">E</text></g>
<g transform="translate(406.8,387.2)"><polygon points="-3.2,-0.9 0,-3.4 3.2,-0.9 3.2,3.0 -3.2,3.0" fill="#22b48c"/><polyline points="-3.6,-0.7 0,-3.6 3.6,-0.7" fill="none" stroke="#1c3030" stroke-width="0.8"/><rect x="-3.3" y="2.8" width="6.6" height="1.05" fill="#1c2626"/><text x="0.1" y="2.3" font-family="Liberation Sans" font-size="5.6" font-weight="bold" fill="#e6f6f0" text-anchor="middle">E</text></g>
<g transform="translate(416.3,387.2)"><polygon points="-3.2,-0.9 0,-3.4 3.2,-0.9 3.2,3.0 -3.2,3.0" fill="#22b48c"/><polyline points="-3.6,-0.7 0,-3.6 3.6,-0.7" fill="none" stroke="#1c3030" stroke-width="0.8"/><rect x="-3.3" y="2.8" width="6.6" height="1.05" fill="#1c2626"/><text x="0.1" y="2.3" font-family="Liberation Sans" font-size="5.6" font-weight="bold" fill="#e6f6f0" text-anchor="middle">E</text></g>
<g transform="translate(457.6,374.5)"><polygon points="-3.2,-0.9 0,-3.4 3.2,-0.9 3.2,3.0 -3.2,3.0" fill="#22b48c"/><polyline points="-3.6,-0.7 0,-3.6 3.6,-0.7" fill="none" stroke="#1c3030" stroke-width="0.8"/><rect x="-3.3" y="2.8" width="6.6" height="1.05" fill="#1c2626"/><text x="0.1" y="2.3" font-family="Liberation Sans" font-size="5.6" font-weight="bold" fill="#e6f6f0" text-anchor="middle">E</text></g>
<g transform="translate(457.4,379.8)"><polygon points="-3.2,-0.9 0,-3.4 3.2,-0.9 3.2,3.0 -3.2,3.0" fill="#22b48c"/><polyline points="-3.6,-0.7 0,-3.6 3.6,-0.7" fill="none" stroke="#1c3030" stroke-width="0.8"/><rect x="-3.3" y="2.8" width="6.6" height="1.05" fill="#1c2626"/><text x="0.1" y="2.3" font-family="Liberation Sans" font-size="5.6" font-weight="bold" fill="#e6f6f0" text-anchor="middle">E</text></g>
<g transform="translate(440.1,401.0)"><polygon points="-3.2,-0.9 0,-3.4 3.2,-0.9 3.2,3.0 -3.2,3.0" fill="#e8179a"/><polyline points="-3.6,-0.7 0,-3.6 3.6,-0.7" fill="none" stroke="#1c3030" stroke-width="0.8"/><rect x="-3.3" y="2.8" width="6.6" height="1.05" fill="#1c2626"/><text x="0.1" y="2.3" font-family="Liberation Sans" font-size="5.6" font-weight="bold" fill="#e6f6f0" text-anchor="middle">C</text></g>
<g transform="translate(514.0,395.8)"><polygon points="-3.2,-0.9 0,-3.4 3.2,-0.9 3.2,3.0 -3.2,3.0" fill="#e8179a"/><polyline points="-3.6,-0.7 0,-3.6 3.6,-0.7" fill="none" stroke="#1c3030" stroke-width="0.8"/><rect x="-3.3" y="2.8" width="6.6" height="1.05" fill="#1c2626"/><text x="0.1" y="2.3" font-family="Liberation Sans" font-size="5.6" font-weight="bold" fill="#e6f6f0" text-anchor="middle">C</text></g>
<clipPath id="c60"><polygon points="603.5,383.6 684.2,383.6 684.2,522.5 586.6,475.3 589.3,430.0 589.9,402.7 592.4,402.1 603.5,387.3"/></clipPath>
<polygon points="603.5,383.6 684.2,383.6 684.2,522.5 586.6,475.3 589.3,430.0 589.9,402.7 592.4,402.1 603.5,387.3" fill="#fce9d9"/>
<g clip-path="url(#c60)" stroke="#f0c288" fill="none" stroke-linecap="butt">
<g stroke-width="1.56">
<path d="M621.4 383.6L621.4 418.8M631.3 383.6L630.7 394.7M631.3 389.7L674.0 390.4M621.4 394.7L674.0 395.9M676.4 384.2L676.4 426.2M680.1 384.2L680.1 427.0M653.6 391.6L651.7 421.2M656.0 391.6L655.5 421.0M656.6 407.6L674.0 408.3M656.6 413.8L674.0 413.8M656.6 417.5L674.0 418.5M651.7 421.2L676.4 423.7M625.8 395.9L625.8 407.0M621.4 407.0L625.8 407.0M621.4 418.8L627.0 418.8L628.2 415.1L651.7 416.3M667.8 396.5L667.8 407.6M590.6 413.8L619.6 407.6M590.6 415.0L619.6 411.4M608.5 403.3L620.8 402.1M599.8 408.9L608.5 407.5M608.5 403.3L608.5 408.0M650.9 446.6L683.7 448.7M650.9 446.6L650.9 483.0M650.9 483.0L683.7 483.7M653.1 456.0L683.7 456.5M653.8 461.8L683.7 461.8M653.8 466.9L683.7 466.9M653.8 471.3L683.7 471.3M653.8 475.7L683.7 475.7M653.8 479.3L683.7 479.3M655.5 446.8L655.5 456.0M659.9 446.8L659.9 456.0M664.3 446.8L664.3 456.0M668.7 446.8L668.7 456.0M673.1 446.8L673.1 456.0M677.5 446.8L677.5 456.0M681.9 446.8L681.9 456.0M669.1 456.0L669.1 483.7M666.2 488.1L683.7 488.1M666.2 488.1L661.8 496.8L683.7 498.2M665.5 495.3L666.2 499.7L683.7 499.7M675.0 501.2L673.5 517.2M675.0 505.5L683.7 505.5"/>
</g>
</g>
<polygon points="603.5,383.6 684.2,383.6 684.2,522.5 586.6,475.3 589.3,430.0 589.9,402.7 592.4,402.1 603.5,387.3" fill="none" stroke="#f0c288" stroke-width="1.2"/>
<clipPath id="c61"><polygon points="684.2,383.8 691.8,391.4 746.5,394.5 740.4,449.4 734.2,495.2 729.7,530.3 694.9,527.1 684.2,522.5"/></clipPath>
<polygon points="684.2,383.8 691.8,391.4 746.5,394.5 740.4,449.4 734.2,495.2 729.7,530.3 694.9,527.1 684.2,522.5" fill="#33f8f5"/>
<g clip-path="url(#c61)" stroke="#10a8a8" fill="none" stroke-linecap="butt">
<g stroke-width="1.25">
<path d="M688.3 398.6L688.3 415.9M692.3 398.6L692.3 415.9M696.3 398.6L696.3 415.9M700.3 398.6L700.3 415.9M704.3 398.6L704.3 415.9M708.3 398.6L708.3 415.9M685.7 398.6L710.9 398.6M699.0 405.3L710.9 405.3M699.0 410.5L710.9 410.5M710.9 393.3L710.9 406.6L717.6 406.6M717.6 402.6L724.2 402.6L725.5 394.0M725.5 394.6L722.9 426.5M685.7 415.9L710.9 415.9M722.9 426.5L741.5 426.5M720.2 433.2L738.0 433.2M720.2 441.2L738.0 441.2M720.2 449.1L738.0 449.1M720.2 457.1L738.0 457.1M725.5 426.5L725.5 467.7M730.9 426.5L730.9 467.7M720.2 426.5L720.2 467.7M720.2 443.8L697.6 505.0M684.3 441.2L720.2 441.2M684.5 447.8L712.0 447.8M684.5 455.8L712.0 455.8M684.5 462.4L712.0 462.4M684.5 469.1L712.0 469.1M684.5 475.7L712.0 475.7M684.5 482.4L712.0 482.4M684.5 489.0L712.0 489.0M684.5 495.7L712.0 495.7M697.6 441.2L697.6 486.4M708.3 441.2L708.3 456.0M733.5 467.7L714.9 467.7M697.6 502.3L732.2 506.3M697.6 502.3L699.0 513.0L732.2 515.6"/>
</g>
</g>
<polygon points="684.2,383.8 691.8,391.4 746.5,394.5 740.4,449.4 734.2,495.2 729.7,530.3 694.9,527.1 684.2,522.5" fill="none" stroke="#10a8a8" stroke-width="1.1"/>
<clipPath id="c62"><polygon points="748.0,377.7 772.4,378.6 773.9,392.9 778.5,431.1 778.5,495.2 810.5,490.6 798.3,528.7 769.3,533.3 729.7,530.3 734.2,495.2 740.4,449.4 746.5,396.0"/></clipPath>
<polygon points="748.0,377.7 772.4,378.6 773.9,392.9 778.5,431.1 778.5,495.2 810.5,490.6 798.3,528.7 769.3,533.3 729.7,530.3 734.2,495.2 740.4,449.4 746.5,396.0" fill="#9c52e4"/>
<g clip-path="url(#c62)" stroke="#6a1eb4" fill="none" stroke-linecap="butt">
<g stroke-width="1.35">
<path d="M760.6 378.4L760.6 393.4M762.0 384.9L773.3 384.9M766.5 384.9L766.5 393.4M762.0 389.0L773.5 389.0M747.8 393.4L774.7 393.4M740.7 443.0L777.6 448.7M736.5 488.3L779.0 488.3M740.7 491.1L740.7 500.0L759.0 500.0M759.2 494.0L779.0 494.0M759.2 499.6L779.0 499.6M759.2 505.0L779.0 505.0M756.3 499.6L745.0 513.8L770.5 528.0M733.7 508.1L770.5 530.0M759.2 491.1L762.0 522.3M767.7 502.5L767.7 524.0M750.0 508.0L753.0 518.0M745.0 513.8L752.0 505.0M779.0 496.8L776.0 530.0"/>
</g>
<g stroke-width="1.35">
<path d="M779.0 501.0L808.0 501.0M779.0 507.0L808.0 507.0M779.0 513.8L808.0 513.8M779.0 520.0L808.0 520.0M790.0 497.0L785.0 530.0M798.0 495.0L795.0 528.0M803.0 510.0L790.0 525.0"/>
</g>
</g>
<polygon points="748.0,377.7 772.4,378.6 773.9,392.9 778.5,431.1 778.5,495.2 810.5,490.6 798.3,528.7 769.3,533.3 729.7,530.3 734.2,495.2 740.4,449.4 746.5,396.0" fill="none" stroke="#6a1eb4" stroke-width="1.2"/>
<clipPath id="c63"><polygon points="778.5,431.1 828.8,436.6 810.5,490.6 778.5,495.2"/></clipPath>
<polygon points="778.5,431.1 828.8,436.6 810.5,490.6 778.5,495.2" fill="#ae504c"/>
<g clip-path="url(#c63)" stroke="#6a1c20" fill="none" stroke-linecap="butt">
<g stroke-width="1.35">
<path d="M776.0 435.5L832.0 438.0M776.0 439.5L832.0 442.0M776.0 443.5L832.0 446.0M776.0 447.5L832.0 450.0M776.0 451.5L832.0 454.0M776.0 455.5L832.0 458.0M776.0 459.5L832.0 462.0M776.0 463.5L832.0 466.0M776.0 467.5L832.0 470.0M776.0 471.5L832.0 474.0M776.0 475.5L832.0 478.0M776.0 479.5L832.0 482.0M776.0 483.5L832.0 486.0M776.0 487.5L832.0 490.0M788.9 430.0L788.9 497.0M798.8 430.0L798.8 497.0M810.2 430.0L810.2 497.0M820.1 430.0L820.1 497.0"/>
</g>
</g>
<polygon points="778.5,431.1 828.8,436.6 810.5,490.6 778.5,495.2" fill="none" stroke="#6a1c20" stroke-width="1.2"/>
<polyline points="586.6,475.3 684.2,522.5 694.9,527.1 729.7,530.3 769.3,533.3 798.3,528.7" fill="none" stroke="#ff4a2a" stroke-width="1.6" stroke-dasharray="2.5,1"/>
<polyline points="748.0,377.7 746.5,396.0 740.4,449.4 734.2,495.2 729.7,530.3" fill="none" stroke="#ff4a2a" stroke-width="1.6" stroke-dasharray="2.5,1"/>
<g transform="translate(655.2,386.8)"><polygon points="-3.2,-0.9 0,-3.4 3.2,-0.9 3.2,3.0 -3.2,3.0" fill="#22b48c"/><polyline points="-3.6,-0.7 0,-3.6 3.6,-0.7" fill="none" stroke="#1c3030" stroke-width="0.8"/><rect x="-3.3" y="2.8" width="6.6" height="1.05" fill="#1c2626"/><text x="0.1" y="2.3" font-family="Liberation Sans" font-size="5.6" font-weight="bold" fill="#e6f6f0" text-anchor="middle">E</text></g>
<g transform="translate(689.4,438.3)"><polygon points="-3.2,-0.9 0,-3.4 3.2,-0.9 3.2,3.0 -3.2,3.0" fill="#22b48c"/><polyline points="-3.6,-0.7 0,-3.6 3.6,-0.7" fill="none" stroke="#1c3030" stroke-width="0.8"/><rect x="-3.3" y="2.8" width="6.6" height="1.05" fill="#1c2626"/><text x="0.1" y="2.3" font-family="Liberation Sans" font-size="5.6" font-weight="bold" fill="#e6f6f0" text-anchor="middle">E</text></g>
<g transform="translate(738.8,432.0)"><polygon points="-3.2,-0.9 0,-3.4 3.2,-0.9 3.2,3.0 -3.2,3.0" fill="#22b48c"/><polyline points="-3.6,-0.7 0,-3.6 3.6,-0.7" fill="none" stroke="#1c3030" stroke-width="0.8"/><rect x="-3.3" y="2.8" width="6.6" height="1.05" fill="#1c2626"/><text x="0.1" y="2.3" font-family="Liberation Sans" font-size="5.6" font-weight="bold" fill="#e6f6f0" text-anchor="middle">E</text></g>
<g transform="translate(746.5,437.8)"><polygon points="-3.2,-0.9 0,-3.4 3.2,-0.9 3.2,3.0 -3.2,3.0" fill="#22b48c"/><polyline points="-3.6,-0.7 0,-3.6 3.6,-0.7" fill="none" stroke="#1c3030" stroke-width="0.8"/><rect x="-3.3" y="2.8" width="6.6" height="1.05" fill="#1c2626"/><text x="0.1" y="2.3" font-family="Liberation Sans" font-size="5.6" font-weight="bold" fill="#e6f6f0" text-anchor="middle">E</text></g>
<g transform="translate(774.5,437.2)"><polygon points="-3.2,-0.9 0,-3.4 3.2,-0.9 3.2,3.0 -3.2,3.0" fill="#22b48c"/><polyline points="-3.6,-0.7 0,-3.6 3.6,-0.7" fill="none" stroke="#1c3030" stroke-width="0.8"/><rect x="-3.3" y="2.8" width="6.6" height="1.05" fill="#1c2626"/><text x="0.1" y="2.3" font-family="Liberation Sans" font-size="5.6" font-weight="bold" fill="#e6f6f0" text-anchor="middle">E</text></g>
</svg>
</body></html>
